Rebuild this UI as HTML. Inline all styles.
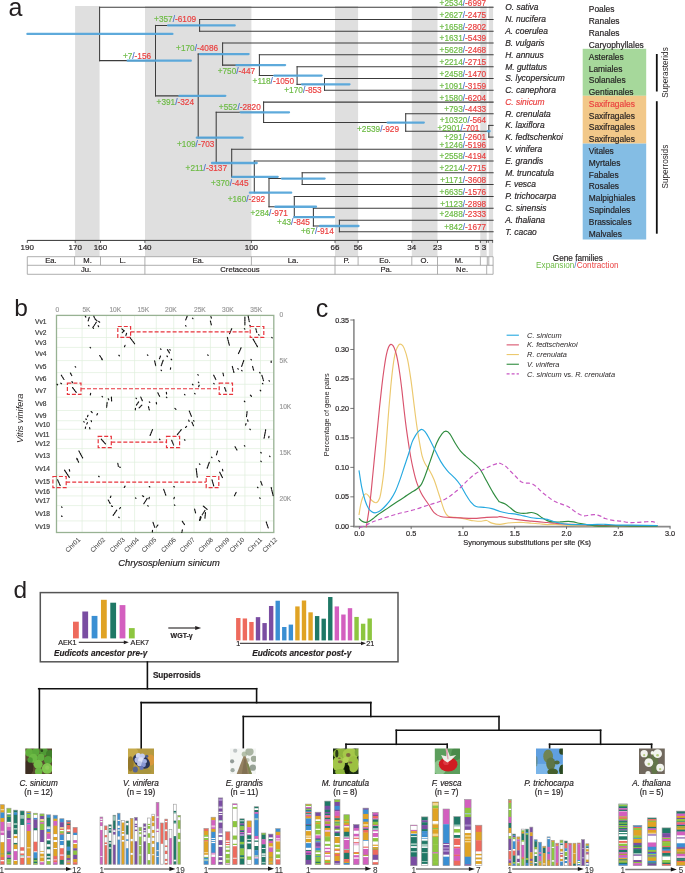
<!DOCTYPE html>
<html><head><meta charset="utf-8"><style>
html,body{margin:0;padding:0;background:#fff;width:685px;height:873px;overflow:hidden}
svg{display:block;will-change:transform}
text{font-family:"Liberation Sans", sans-serif}
</style></head><body>
<svg width="685" height="873" viewBox="0 0 685 873">
<rect width="685" height="873" fill="#fff"/>
<rect x="75.1" y="6" width="24.5" height="250.5" fill="#dfdfdf" />
<rect x="145" y="6" width="106.4" height="250.5" fill="#dfdfdf" />
<rect x="335" y="6" width="23.1" height="250.5" fill="#dfdfdf" />
<rect x="411.8" y="6" width="25.7" height="250.5" fill="#dfdfdf" />
<rect x="480.3" y="6" width="6.4" height="250.5" fill="#dfdfdf" />
<rect x="488.8" y="6" width="4.3" height="250.5" fill="#dfdfdf" />
<text x="8.4" y="16" font-size="25" text-anchor="start" fill="#231f20" stroke="#231f20" stroke-width="0" >a</text>
<g stroke="#3c3c3c" stroke-width="1.05" stroke-linecap="square">
<line x1="99.6" y1="7.3" x2="99.6" y2="60.63"/>
<line x1="99.6" y1="7.3" x2="493.1" y2="7.3"/>
<line x1="99.6" y1="60.63" x2="155.5" y2="60.63"/>
<line x1="155.5" y1="25.4" x2="155.5" y2="95.86"/>
<line x1="155.5" y1="25.4" x2="199.6" y2="25.4"/>
<line x1="155.5" y1="95.86" x2="198.2" y2="95.86"/>
<line x1="199.6" y1="19.5" x2="199.6" y2="31.3"/>
<line x1="199.6" y1="19.5" x2="493.1" y2="19.5"/>
<line x1="199.6" y1="31.3" x2="493.1" y2="31.3"/>
<line x1="198.2" y1="54.06" x2="198.2" y2="137.66"/>
<line x1="198.2" y1="54.06" x2="222.6" y2="54.06"/>
<line x1="198.2" y1="137.66" x2="216.2" y2="137.66"/>
<line x1="222.6" y1="43" x2="222.6" y2="65.11"/>
<line x1="222.6" y1="43" x2="493.1" y2="43"/>
<line x1="222.6" y1="65.11" x2="259.4" y2="65.11"/>
<line x1="259.4" y1="54.7" x2="259.4" y2="75.53"/>
<line x1="259.4" y1="54.7" x2="493.1" y2="54.7"/>
<line x1="259.4" y1="75.53" x2="297.1" y2="75.53"/>
<line x1="297.1" y1="66.7" x2="297.1" y2="84.35"/>
<line x1="297.1" y1="66.7" x2="493.1" y2="66.7"/>
<line x1="297.1" y1="84.35" x2="324.5" y2="84.35"/>
<line x1="324.5" y1="78.4" x2="324.5" y2="90.3"/>
<line x1="324.5" y1="78.4" x2="493.1" y2="78.4"/>
<line x1="324.5" y1="90.3" x2="493.1" y2="90.3"/>
<line x1="216.2" y1="112.31" x2="216.2" y2="163.01"/>
<line x1="216.2" y1="112.31" x2="263.6" y2="112.31"/>
<line x1="216.2" y1="163.01" x2="231.7" y2="163.01"/>
<line x1="263.6" y1="102.1" x2="263.6" y2="122.53"/>
<line x1="263.6" y1="102.1" x2="493.1" y2="102.1"/>
<line x1="263.6" y1="122.53" x2="405.7" y2="122.53"/>
<line x1="405.7" y1="113.8" x2="405.7" y2="131.25"/>
<line x1="405.7" y1="113.8" x2="493.1" y2="113.8"/>
<line x1="405.7" y1="131.25" x2="488.8" y2="131.25"/>
<line x1="488.8" y1="125.4" x2="488.8" y2="137.1"/>
<line x1="488.8" y1="125.4" x2="493.1" y2="125.4"/>
<line x1="488.8" y1="137.1" x2="493.1" y2="137.1"/>
<line x1="231.7" y1="149.2" x2="231.7" y2="176.82"/>
<line x1="231.7" y1="149.2" x2="493.1" y2="149.2"/>
<line x1="231.7" y1="176.82" x2="254.3" y2="176.82"/>
<line x1="254.3" y1="161" x2="254.3" y2="192.65"/>
<line x1="254.3" y1="161" x2="493.1" y2="161"/>
<line x1="254.3" y1="192.65" x2="269" y2="192.65"/>
<line x1="269" y1="178.55" x2="269" y2="206.75"/>
<line x1="269" y1="178.55" x2="302.2" y2="178.55"/>
<line x1="269" y1="206.75" x2="294.3" y2="206.75"/>
<line x1="302.2" y1="172.7" x2="302.2" y2="184.4"/>
<line x1="302.2" y1="172.7" x2="493.1" y2="172.7"/>
<line x1="302.2" y1="184.4" x2="493.1" y2="184.4"/>
<line x1="294.3" y1="196.4" x2="294.3" y2="217.1"/>
<line x1="294.3" y1="196.4" x2="493.1" y2="196.4"/>
<line x1="294.3" y1="217.1" x2="313.4" y2="217.1"/>
<line x1="313.4" y1="208.2" x2="313.4" y2="226"/>
<line x1="313.4" y1="208.2" x2="493.1" y2="208.2"/>
<line x1="313.4" y1="226" x2="339.4" y2="226"/>
<line x1="339.4" y1="220.2" x2="339.4" y2="231.8"/>
<line x1="339.4" y1="220.2" x2="493.1" y2="220.2"/>
<line x1="339.4" y1="231.8" x2="493.1" y2="231.8"/>
</g>
<g stroke="#56a6da" stroke-width="2.3" stroke-linecap="round" opacity="0.95">
<line x1="27.4" y1="33.96" x2="172.4" y2="33.96"/>
<line x1="127.7" y1="60.63" x2="190.8" y2="60.63"/>
<line x1="168.1" y1="25.4" x2="234.7" y2="25.4"/>
<line x1="179.4" y1="95.86" x2="225.3" y2="95.86"/>
<line x1="199.9" y1="54.06" x2="248.6" y2="54.06"/>
<line x1="236.4" y1="65.11" x2="285.1" y2="65.11"/>
<line x1="274.3" y1="75.53" x2="321.6" y2="75.53"/>
<line x1="302" y1="84.35" x2="349.5" y2="84.35"/>
<line x1="196.8" y1="137.66" x2="242.6" y2="137.66"/>
<line x1="240.7" y1="112.31" x2="289" y2="112.31"/>
<line x1="387.6" y1="122.53" x2="423.8" y2="122.53"/>
<line x1="487.8" y1="131.25" x2="489.6" y2="131.25"/>
<line x1="212" y1="163.01" x2="256.7" y2="163.01"/>
<line x1="232.5" y1="176.82" x2="277.7" y2="176.82"/>
<line x1="249.9" y1="192.65" x2="291.2" y2="192.65"/>
<line x1="281.9" y1="178.55" x2="324.6" y2="178.55"/>
<line x1="275.4" y1="206.75" x2="316" y2="206.75"/>
<line x1="294.3" y1="217.1" x2="334" y2="217.1"/>
<line x1="320" y1="226" x2="358.5" y2="226"/>
</g>
<text x="0" y="0" font-size="8.7" text-anchor="end" transform="translate(151.1,58.9) scale(0.95,1)" stroke-width="0.18"><tspan fill="#6dbb45" stroke="#6dbb45">+7</tspan><tspan fill="#4a72c8" stroke="#4a72c8">/</tspan><tspan fill="#ea3f3f" stroke="#ea3f3f">-156</tspan></text>
<text x="0" y="0" font-size="8.7" text-anchor="end" transform="translate(196.1,22.3) scale(0.95,1)" stroke-width="0.18"><tspan fill="#6dbb45" stroke="#6dbb45">+357</tspan><tspan fill="#4a72c8" stroke="#4a72c8">/</tspan><tspan fill="#ea3f3f" stroke="#ea3f3f">-6109</tspan></text>
<text x="0" y="0" font-size="8.7" text-anchor="end" transform="translate(218.1,50.9) scale(0.95,1)" stroke-width="0.18"><tspan fill="#6dbb45" stroke="#6dbb45">+170</tspan><tspan fill="#4a72c8" stroke="#4a72c8">/</tspan><tspan fill="#ea3f3f" stroke="#ea3f3f">-4086</tspan></text>
<text x="0" y="0" font-size="8.7" text-anchor="end" transform="translate(255.1,73.8) scale(0.95,1)" stroke-width="0.18"><tspan fill="#6dbb45" stroke="#6dbb45">+750</tspan><tspan fill="#4a72c8" stroke="#4a72c8">/</tspan><tspan fill="#ea3f3f" stroke="#ea3f3f">-447</tspan></text>
<text x="0" y="0" font-size="8.7" text-anchor="end" transform="translate(294,83.5) scale(0.95,1)" stroke-width="0.18"><tspan fill="#6dbb45" stroke="#6dbb45">+118</tspan><tspan fill="#4a72c8" stroke="#4a72c8">/</tspan><tspan fill="#ea3f3f" stroke="#ea3f3f">-1050</tspan></text>
<text x="0" y="0" font-size="8.7" text-anchor="end" transform="translate(321.7,92.9) scale(0.95,1)" stroke-width="0.18"><tspan fill="#6dbb45" stroke="#6dbb45">+170</tspan><tspan fill="#4a72c8" stroke="#4a72c8">/</tspan><tspan fill="#ea3f3f" stroke="#ea3f3f">-853</tspan></text>
<text x="0" y="0" font-size="8.7" text-anchor="end" transform="translate(194,104.6) scale(0.95,1)" stroke-width="0.18"><tspan fill="#6dbb45" stroke="#6dbb45">+391</tspan><tspan fill="#4a72c8" stroke="#4a72c8">/</tspan><tspan fill="#ea3f3f" stroke="#ea3f3f">-324</tspan></text>
<text x="0" y="0" font-size="8.7" text-anchor="end" transform="translate(260.8,109.9) scale(0.95,1)" stroke-width="0.18"><tspan fill="#6dbb45" stroke="#6dbb45">+552</tspan><tspan fill="#4a72c8" stroke="#4a72c8">/</tspan><tspan fill="#ea3f3f" stroke="#ea3f3f">-2820</tspan></text>
<text x="0" y="0" font-size="8.7" text-anchor="end" transform="translate(214.4,146.8) scale(0.95,1)" stroke-width="0.18"><tspan fill="#6dbb45" stroke="#6dbb45">+109</tspan><tspan fill="#4a72c8" stroke="#4a72c8">/</tspan><tspan fill="#ea3f3f" stroke="#ea3f3f">-703</tspan></text>
<text x="0" y="0" font-size="8.7" text-anchor="end" transform="translate(399,132) scale(0.95,1)" stroke-width="0.18"><tspan fill="#6dbb45" stroke="#6dbb45">+2539</tspan><tspan fill="#4a72c8" stroke="#4a72c8">/</tspan><tspan fill="#ea3f3f" stroke="#ea3f3f">-929</tspan></text>
<text x="0" y="0" font-size="8.7" text-anchor="end" transform="translate(227,170.7) scale(0.95,1)" stroke-width="0.18"><tspan fill="#6dbb45" stroke="#6dbb45">+211</tspan><tspan fill="#4a72c8" stroke="#4a72c8">/</tspan><tspan fill="#ea3f3f" stroke="#ea3f3f">-3137</tspan></text>
<text x="0" y="0" font-size="8.7" text-anchor="end" transform="translate(248.5,185.6) scale(0.95,1)" stroke-width="0.18"><tspan fill="#6dbb45" stroke="#6dbb45">+370</tspan><tspan fill="#4a72c8" stroke="#4a72c8">/</tspan><tspan fill="#ea3f3f" stroke="#ea3f3f">-445</tspan></text>
<text x="0" y="0" font-size="8.7" text-anchor="end" transform="translate(265.1,202.3) scale(0.95,1)" stroke-width="0.18"><tspan fill="#6dbb45" stroke="#6dbb45">+160</tspan><tspan fill="#4a72c8" stroke="#4a72c8">/</tspan><tspan fill="#ea3f3f" stroke="#ea3f3f">-292</tspan></text>
<text x="0" y="0" font-size="8.7" text-anchor="end" transform="translate(287.9,215.5) scale(0.95,1)" stroke-width="0.18"><tspan fill="#6dbb45" stroke="#6dbb45">+284</tspan><tspan fill="#4a72c8" stroke="#4a72c8">/</tspan><tspan fill="#ea3f3f" stroke="#ea3f3f">-971</tspan></text>
<text x="0" y="0" font-size="8.7" text-anchor="end" transform="translate(309.9,224.7) scale(0.95,1)" stroke-width="0.18"><tspan fill="#6dbb45" stroke="#6dbb45">+43</tspan><tspan fill="#4a72c8" stroke="#4a72c8">/</tspan><tspan fill="#ea3f3f" stroke="#ea3f3f">-845</tspan></text>
<text x="0" y="0" font-size="8.7" text-anchor="end" transform="translate(333.8,234.1) scale(0.95,1)" stroke-width="0.18"><tspan fill="#6dbb45" stroke="#6dbb45">+67</tspan><tspan fill="#4a72c8" stroke="#4a72c8">/</tspan><tspan fill="#ea3f3f" stroke="#ea3f3f">-914</tspan></text>
<text x="0" y="0" font-size="8.7" text-anchor="end" transform="translate(479.4,130.6) scale(0.95,1)" stroke-width="0.18"><tspan fill="#6dbb45" stroke="#6dbb45">+2901</tspan><tspan fill="#4a72c8" stroke="#4a72c8">/</tspan><tspan fill="#ea3f3f" stroke="#ea3f3f">-701</tspan></text>
<text x="0" y="0" font-size="8.7" text-anchor="end" transform="translate(486.2,5.6) scale(0.95,1)" stroke-width="0.18"><tspan fill="#6dbb45" stroke="#6dbb45">+2534</tspan><tspan fill="#4a72c8" stroke="#4a72c8">/</tspan><tspan fill="#ea3f3f" stroke="#ea3f3f">-6997</tspan></text>
<text x="0" y="0" font-size="8.7" text-anchor="end" transform="translate(486.2,17.8) scale(0.95,1)" stroke-width="0.18"><tspan fill="#6dbb45" stroke="#6dbb45">+2627</tspan><tspan fill="#4a72c8" stroke="#4a72c8">/</tspan><tspan fill="#ea3f3f" stroke="#ea3f3f">-2475</tspan></text>
<text x="0" y="0" font-size="8.7" text-anchor="end" transform="translate(486.2,29.6) scale(0.95,1)" stroke-width="0.18"><tspan fill="#6dbb45" stroke="#6dbb45">+1658</tspan><tspan fill="#4a72c8" stroke="#4a72c8">/</tspan><tspan fill="#ea3f3f" stroke="#ea3f3f">-2802</tspan></text>
<text x="0" y="0" font-size="8.7" text-anchor="end" transform="translate(486.2,41.3) scale(0.95,1)" stroke-width="0.18"><tspan fill="#6dbb45" stroke="#6dbb45">+1631</tspan><tspan fill="#4a72c8" stroke="#4a72c8">/</tspan><tspan fill="#ea3f3f" stroke="#ea3f3f">-5439</tspan></text>
<text x="0" y="0" font-size="8.7" text-anchor="end" transform="translate(486.2,53) scale(0.95,1)" stroke-width="0.18"><tspan fill="#6dbb45" stroke="#6dbb45">+5628</tspan><tspan fill="#4a72c8" stroke="#4a72c8">/</tspan><tspan fill="#ea3f3f" stroke="#ea3f3f">-2468</tspan></text>
<text x="0" y="0" font-size="8.7" text-anchor="end" transform="translate(486.2,65) scale(0.95,1)" stroke-width="0.18"><tspan fill="#6dbb45" stroke="#6dbb45">+2214</tspan><tspan fill="#4a72c8" stroke="#4a72c8">/</tspan><tspan fill="#ea3f3f" stroke="#ea3f3f">-2715</tspan></text>
<text x="0" y="0" font-size="8.7" text-anchor="end" transform="translate(486.2,76.7) scale(0.95,1)" stroke-width="0.18"><tspan fill="#6dbb45" stroke="#6dbb45">+2458</tspan><tspan fill="#4a72c8" stroke="#4a72c8">/</tspan><tspan fill="#ea3f3f" stroke="#ea3f3f">-1470</tspan></text>
<text x="0" y="0" font-size="8.7" text-anchor="end" transform="translate(486.2,88.6) scale(0.95,1)" stroke-width="0.18"><tspan fill="#6dbb45" stroke="#6dbb45">+1091</tspan><tspan fill="#4a72c8" stroke="#4a72c8">/</tspan><tspan fill="#ea3f3f" stroke="#ea3f3f">-3159</tspan></text>
<text x="0" y="0" font-size="8.7" text-anchor="end" transform="translate(486.2,101) scale(0.95,1)" stroke-width="0.18"><tspan fill="#6dbb45" stroke="#6dbb45">+1580</tspan><tspan fill="#4a72c8" stroke="#4a72c8">/</tspan><tspan fill="#ea3f3f" stroke="#ea3f3f">-6204</tspan></text>
<text x="0" y="0" font-size="8.7" text-anchor="end" transform="translate(486.2,112.1) scale(0.95,1)" stroke-width="0.18"><tspan fill="#6dbb45" stroke="#6dbb45">+793</tspan><tspan fill="#4a72c8" stroke="#4a72c8">/</tspan><tspan fill="#ea3f3f" stroke="#ea3f3f">-4433</tspan></text>
<text x="0" y="0" font-size="8.7" text-anchor="end" transform="translate(486.2,122.9) scale(0.95,1)" stroke-width="0.18"><tspan fill="#6dbb45" stroke="#6dbb45">+10320</tspan><tspan fill="#4a72c8" stroke="#4a72c8">/</tspan><tspan fill="#ea3f3f" stroke="#ea3f3f">-564</tspan></text>
<text x="0" y="0" font-size="8.7" text-anchor="end" transform="translate(486.2,139.8) scale(0.95,1)" stroke-width="0.18"><tspan fill="#6dbb45" stroke="#6dbb45">+291</tspan><tspan fill="#4a72c8" stroke="#4a72c8">/</tspan><tspan fill="#ea3f3f" stroke="#ea3f3f">-2601</tspan></text>
<text x="0" y="0" font-size="8.7" text-anchor="end" transform="translate(486.2,147.5) scale(0.95,1)" stroke-width="0.18"><tspan fill="#6dbb45" stroke="#6dbb45">+1246</tspan><tspan fill="#4a72c8" stroke="#4a72c8">/</tspan><tspan fill="#ea3f3f" stroke="#ea3f3f">-5196</tspan></text>
<text x="0" y="0" font-size="8.7" text-anchor="end" transform="translate(486.2,159.3) scale(0.95,1)" stroke-width="0.18"><tspan fill="#6dbb45" stroke="#6dbb45">+2558</tspan><tspan fill="#4a72c8" stroke="#4a72c8">/</tspan><tspan fill="#ea3f3f" stroke="#ea3f3f">-4194</tspan></text>
<text x="0" y="0" font-size="8.7" text-anchor="end" transform="translate(486.2,171) scale(0.95,1)" stroke-width="0.18"><tspan fill="#6dbb45" stroke="#6dbb45">+2214</tspan><tspan fill="#4a72c8" stroke="#4a72c8">/</tspan><tspan fill="#ea3f3f" stroke="#ea3f3f">-2715</tspan></text>
<text x="0" y="0" font-size="8.7" text-anchor="end" transform="translate(486.2,182.7) scale(0.95,1)" stroke-width="0.18"><tspan fill="#6dbb45" stroke="#6dbb45">+1171</tspan><tspan fill="#4a72c8" stroke="#4a72c8">/</tspan><tspan fill="#ea3f3f" stroke="#ea3f3f">-3608</tspan></text>
<text x="0" y="0" font-size="8.7" text-anchor="end" transform="translate(486.2,194.7) scale(0.95,1)" stroke-width="0.18"><tspan fill="#6dbb45" stroke="#6dbb45">+6635</tspan><tspan fill="#4a72c8" stroke="#4a72c8">/</tspan><tspan fill="#ea3f3f" stroke="#ea3f3f">-1576</tspan></text>
<text x="0" y="0" font-size="8.7" text-anchor="end" transform="translate(486.2,206.5) scale(0.95,1)" stroke-width="0.18"><tspan fill="#6dbb45" stroke="#6dbb45">+1123</tspan><tspan fill="#4a72c8" stroke="#4a72c8">/</tspan><tspan fill="#ea3f3f" stroke="#ea3f3f">-2898</tspan></text>
<text x="0" y="0" font-size="8.7" text-anchor="end" transform="translate(486.2,217.2) scale(0.95,1)" stroke-width="0.18"><tspan fill="#6dbb45" stroke="#6dbb45">+2488</tspan><tspan fill="#4a72c8" stroke="#4a72c8">/</tspan><tspan fill="#ea3f3f" stroke="#ea3f3f">-2333</tspan></text>
<text x="0" y="0" font-size="8.7" text-anchor="end" transform="translate(486.2,230.1) scale(0.95,1)" stroke-width="0.18"><tspan fill="#6dbb45" stroke="#6dbb45">+842</tspan><tspan fill="#4a72c8" stroke="#4a72c8">/</tspan><tspan fill="#ea3f3f" stroke="#ea3f3f">-1677</tspan></text>
<rect x="582.7" y="48.8" width="63.5" height="47" fill="#a6d89b" />
<rect x="582.7" y="95.8" width="63.5" height="47.8" fill="#f2c889" />
<rect x="582.7" y="143.6" width="63.5" height="95.9" fill="#84bde4" />
<text x="505.2" y="10.2" font-size="8.45" text-anchor="start" fill="#231f20" stroke="#231f20" stroke-width="0.18" font-style="italic" >O. sativa</text>
<text x="588.8" y="12.1" font-size="8.4" text-anchor="start" fill="#231f20" stroke="#231f20" stroke-width="0.18" >Poales</text>
<text x="505.2" y="22.4" font-size="8.45" text-anchor="start" fill="#231f20" stroke="#231f20" stroke-width="0.18" font-style="italic" >N. nucifera</text>
<text x="588.8" y="24.3" font-size="8.4" text-anchor="start" fill="#231f20" stroke="#231f20" stroke-width="0.18" >Ranales</text>
<text x="505.2" y="34.2" font-size="8.45" text-anchor="start" fill="#231f20" stroke="#231f20" stroke-width="0.18" font-style="italic" >A. coerulea</text>
<text x="588.8" y="36.1" font-size="8.4" text-anchor="start" fill="#231f20" stroke="#231f20" stroke-width="0.18" >Ranales</text>
<text x="505.2" y="45.9" font-size="8.45" text-anchor="start" fill="#231f20" stroke="#231f20" stroke-width="0.18" font-style="italic" >B. vulgaris</text>
<text x="588.8" y="47.8" font-size="8.4" text-anchor="start" fill="#231f20" stroke="#231f20" stroke-width="0.18" >Caryophyllales</text>
<text x="505.2" y="57.6" font-size="8.45" text-anchor="start" fill="#231f20" stroke="#231f20" stroke-width="0.18" font-style="italic" >H. annuus</text>
<text x="588.8" y="59.5" font-size="8.4" text-anchor="start" fill="#231f20" stroke="#231f20" stroke-width="0.18" >Asterales</text>
<text x="505.2" y="69.6" font-size="8.45" text-anchor="start" fill="#231f20" stroke="#231f20" stroke-width="0.18" font-style="italic" >M. guttatus</text>
<text x="588.8" y="71.5" font-size="8.4" text-anchor="start" fill="#231f20" stroke="#231f20" stroke-width="0.18" >Lamiales</text>
<text x="505.2" y="81.3" font-size="8.45" text-anchor="start" fill="#231f20" stroke="#231f20" stroke-width="0.18" font-style="italic" >S. lycopersicum</text>
<text x="588.8" y="83.2" font-size="8.4" text-anchor="start" fill="#231f20" stroke="#231f20" stroke-width="0.18" >Solanales</text>
<text x="505.2" y="93.2" font-size="8.45" text-anchor="start" fill="#231f20" stroke="#231f20" stroke-width="0.18" font-style="italic" >C. canephora</text>
<text x="588.8" y="95.1" font-size="8.4" text-anchor="start" fill="#231f20" stroke="#231f20" stroke-width="0.18" >Gentianales</text>
<text x="505.2" y="105" font-size="8.45" text-anchor="start" fill="#ea3f3f" stroke="#ea3f3f" stroke-width="0.18" font-style="italic" >C. sinicum</text>
<text x="588.8" y="106.9" font-size="8.4" text-anchor="start" fill="#ea3f3f" stroke="#ea3f3f" stroke-width="0.18" >Saxifragales</text>
<text x="505.2" y="116.7" font-size="8.45" text-anchor="start" fill="#231f20" stroke="#231f20" stroke-width="0.18" font-style="italic" >R. crenulata</text>
<text x="588.8" y="118.6" font-size="8.4" text-anchor="start" fill="#231f20" stroke="#231f20" stroke-width="0.18" >Saxifragales</text>
<text x="505.2" y="128.3" font-size="8.45" text-anchor="start" fill="#231f20" stroke="#231f20" stroke-width="0.18" font-style="italic" >K. laxiflora</text>
<text x="588.8" y="130.2" font-size="8.4" text-anchor="start" fill="#231f20" stroke="#231f20" stroke-width="0.18" >Saxifragales</text>
<text x="505.2" y="140" font-size="8.45" text-anchor="start" fill="#231f20" stroke="#231f20" stroke-width="0.18" font-style="italic" >K. fedtschenkoi</text>
<text x="588.8" y="141.9" font-size="8.4" text-anchor="start" fill="#231f20" stroke="#231f20" stroke-width="0.18" >Saxifragales</text>
<text x="505.2" y="152.1" font-size="8.45" text-anchor="start" fill="#231f20" stroke="#231f20" stroke-width="0.18" font-style="italic" >V. vinifera</text>
<text x="588.8" y="154" font-size="8.4" text-anchor="start" fill="#231f20" stroke="#231f20" stroke-width="0.18" >Vitales</text>
<text x="505.2" y="163.9" font-size="8.45" text-anchor="start" fill="#231f20" stroke="#231f20" stroke-width="0.18" font-style="italic" >E. grandis</text>
<text x="588.8" y="165.8" font-size="8.4" text-anchor="start" fill="#231f20" stroke="#231f20" stroke-width="0.18" >Myrtales</text>
<text x="505.2" y="175.6" font-size="8.45" text-anchor="start" fill="#231f20" stroke="#231f20" stroke-width="0.18" font-style="italic" >M. truncatula</text>
<text x="588.8" y="177.5" font-size="8.4" text-anchor="start" fill="#231f20" stroke="#231f20" stroke-width="0.18" >Fabales</text>
<text x="505.2" y="187.3" font-size="8.45" text-anchor="start" fill="#231f20" stroke="#231f20" stroke-width="0.18" font-style="italic" >F. vesca</text>
<text x="588.8" y="189.2" font-size="8.4" text-anchor="start" fill="#231f20" stroke="#231f20" stroke-width="0.18" >Rosales</text>
<text x="505.2" y="199.3" font-size="8.45" text-anchor="start" fill="#231f20" stroke="#231f20" stroke-width="0.18" font-style="italic" >P. trichocarpa</text>
<text x="588.8" y="201.2" font-size="8.4" text-anchor="start" fill="#231f20" stroke="#231f20" stroke-width="0.18" >Malpighiales</text>
<text x="505.2" y="211.1" font-size="8.45" text-anchor="start" fill="#231f20" stroke="#231f20" stroke-width="0.18" font-style="italic" >C. sinensis</text>
<text x="588.8" y="213" font-size="8.4" text-anchor="start" fill="#231f20" stroke="#231f20" stroke-width="0.18" >Sapindales</text>
<text x="505.2" y="223.1" font-size="8.45" text-anchor="start" fill="#231f20" stroke="#231f20" stroke-width="0.18" font-style="italic" >A. thaliana</text>
<text x="588.8" y="225" font-size="8.4" text-anchor="start" fill="#231f20" stroke="#231f20" stroke-width="0.18" >Brassicales</text>
<text x="505.2" y="234.7" font-size="8.45" text-anchor="start" fill="#231f20" stroke="#231f20" stroke-width="0.18" font-style="italic" >T. cacao</text>
<text x="588.8" y="236.6" font-size="8.4" text-anchor="start" fill="#231f20" stroke="#231f20" stroke-width="0.18" >Malvales</text>
<line x1="656.8" y1="54" x2="656.8" y2="91.5" stroke="#111" stroke-width="1.8" />
<line x1="656.8" y1="101.2" x2="656.8" y2="233.7" stroke="#111" stroke-width="1.8" />
<text x="0" y="0" font-size="8.2" fill="#231f20" text-anchor="middle" transform="translate(667.6,72.5) rotate(-90)">Superasterids</text>
<text x="0" y="0" font-size="8.2" fill="#231f20" text-anchor="middle" transform="translate(667.6,166.6) rotate(-90)">Superrosids</text>
<line x1="27.3" y1="240.4" x2="493.1" y2="240.4" stroke="#333" stroke-width="1" />
<line x1="27.3" y1="240.4" x2="27.3" y2="242.9" stroke="#333" stroke-width="0.8" />
<text x="27.3" y="250.3" font-size="8" text-anchor="middle" fill="#231f20" stroke="#231f20" stroke-width="0.18" >190</text>
<line x1="75.2" y1="240.4" x2="75.2" y2="242.9" stroke="#333" stroke-width="0.8" />
<text x="75.2" y="250.3" font-size="8" text-anchor="middle" fill="#231f20" stroke="#231f20" stroke-width="0.18" >170</text>
<line x1="100.5" y1="240.4" x2="100.5" y2="242.9" stroke="#333" stroke-width="0.8" />
<text x="100.5" y="250.3" font-size="8" text-anchor="middle" fill="#231f20" stroke="#231f20" stroke-width="0.18" >160</text>
<line x1="144.9" y1="240.4" x2="144.9" y2="242.9" stroke="#333" stroke-width="0.8" />
<text x="144.9" y="250.3" font-size="8" text-anchor="middle" fill="#231f20" stroke="#231f20" stroke-width="0.18" >140</text>
<line x1="251.4" y1="240.4" x2="251.4" y2="242.9" stroke="#333" stroke-width="0.8" />
<text x="251.4" y="250.3" font-size="8" text-anchor="middle" fill="#231f20" stroke="#231f20" stroke-width="0.18" >100</text>
<line x1="335" y1="240.4" x2="335" y2="242.9" stroke="#333" stroke-width="0.8" />
<text x="335" y="250.3" font-size="8" text-anchor="middle" fill="#231f20" stroke="#231f20" stroke-width="0.18" >66</text>
<line x1="358.1" y1="240.4" x2="358.1" y2="242.9" stroke="#333" stroke-width="0.8" />
<text x="358.1" y="250.3" font-size="8" text-anchor="middle" fill="#231f20" stroke="#231f20" stroke-width="0.18" >56</text>
<line x1="411.8" y1="240.4" x2="411.8" y2="242.9" stroke="#333" stroke-width="0.8" />
<text x="411.8" y="250.3" font-size="8" text-anchor="middle" fill="#231f20" stroke="#231f20" stroke-width="0.18" >34</text>
<line x1="437.5" y1="240.4" x2="437.5" y2="242.9" stroke="#333" stroke-width="0.8" />
<text x="437.5" y="250.3" font-size="8" text-anchor="middle" fill="#231f20" stroke="#231f20" stroke-width="0.18" >23</text>
<line x1="480.4" y1="240.4" x2="480.4" y2="242.9" stroke="#333" stroke-width="0.8" />
<line x1="486.6" y1="240.4" x2="486.6" y2="242.9" stroke="#333" stroke-width="0.8" />
<line x1="488.3" y1="240.4" x2="488.3" y2="242.9" stroke="#333" stroke-width="0.7" />
<line x1="492.6" y1="240.4" x2="492.6" y2="242.9" stroke="#333" stroke-width="0.7" />
<text x="476.9" y="250.3" font-size="8" text-anchor="middle" fill="#231f20" stroke="#231f20" stroke-width="0.18" >5</text>
<text x="484" y="250.3" font-size="8" text-anchor="middle" fill="#231f20" stroke="#231f20" stroke-width="0.18" >3</text>
<line x1="27.3" y1="256.7" x2="493.1" y2="256.7" stroke="#9a9a9a" stroke-width="0.8" />
<line x1="27.3" y1="265.3" x2="493.1" y2="265.3" stroke="#9a9a9a" stroke-width="0.8" />
<line x1="27.3" y1="274.3" x2="493.1" y2="274.3" stroke="#9a9a9a" stroke-width="0.8" />
<line x1="27.3" y1="256.7" x2="27.3" y2="274.3" stroke="#9a9a9a" stroke-width="0.8" />
<line x1="493.1" y1="256.7" x2="493.1" y2="274.3" stroke="#9a9a9a" stroke-width="0.8" />
<line x1="74.6" y1="256.7" x2="74.6" y2="265.3" stroke="#9a9a9a" stroke-width="0.8" />
<line x1="100.5" y1="256.7" x2="100.5" y2="265.3" stroke="#9a9a9a" stroke-width="0.8" />
<line x1="144.9" y1="256.7" x2="144.9" y2="265.3" stroke="#9a9a9a" stroke-width="0.8" />
<line x1="251.4" y1="256.7" x2="251.4" y2="265.3" stroke="#9a9a9a" stroke-width="0.8" />
<line x1="335" y1="256.7" x2="335" y2="265.3" stroke="#9a9a9a" stroke-width="0.8" />
<line x1="358.1" y1="256.7" x2="358.1" y2="265.3" stroke="#9a9a9a" stroke-width="0.8" />
<line x1="411.8" y1="256.7" x2="411.8" y2="265.3" stroke="#9a9a9a" stroke-width="0.8" />
<line x1="437.5" y1="256.7" x2="437.5" y2="265.3" stroke="#9a9a9a" stroke-width="0.8" />
<line x1="480.4" y1="256.7" x2="480.4" y2="265.3" stroke="#9a9a9a" stroke-width="0.8" />
<line x1="487.3" y1="256.7" x2="487.3" y2="265.3" stroke="#9a9a9a" stroke-width="0.8" />
<line x1="488.8" y1="256.7" x2="488.8" y2="265.3" stroke="#9a9a9a" stroke-width="0.8" />
<line x1="144.9" y1="265.3" x2="144.9" y2="274.3" stroke="#9a9a9a" stroke-width="0.8" />
<line x1="335" y1="265.3" x2="335" y2="274.3" stroke="#9a9a9a" stroke-width="0.8" />
<line x1="437.5" y1="265.3" x2="437.5" y2="274.3" stroke="#9a9a9a" stroke-width="0.8" />
<line x1="486.7" y1="265.3" x2="486.7" y2="274.3" stroke="#9a9a9a" stroke-width="0.8" />
<text x="50.95" y="263.3" font-size="7.7" text-anchor="middle" fill="#231f20" stroke="#231f20" stroke-width="0.18" >Ea.</text>
<text x="87.55" y="263.3" font-size="7.7" text-anchor="middle" fill="#231f20" stroke="#231f20" stroke-width="0.18" >M.</text>
<text x="122.7" y="263.3" font-size="7.7" text-anchor="middle" fill="#231f20" stroke="#231f20" stroke-width="0.18" >L.</text>
<text x="198.15" y="263.3" font-size="7.7" text-anchor="middle" fill="#231f20" stroke="#231f20" stroke-width="0.18" >Ea.</text>
<text x="293.2" y="263.3" font-size="7.7" text-anchor="middle" fill="#231f20" stroke="#231f20" stroke-width="0.18" >La.</text>
<text x="346.55" y="263.3" font-size="7.7" text-anchor="middle" fill="#231f20" stroke="#231f20" stroke-width="0.18" >P.</text>
<text x="384.95" y="263.3" font-size="7.7" text-anchor="middle" fill="#231f20" stroke="#231f20" stroke-width="0.18" >Eo.</text>
<text x="424.65" y="263.3" font-size="7.7" text-anchor="middle" fill="#231f20" stroke="#231f20" stroke-width="0.18" >O.</text>
<text x="458.95" y="263.3" font-size="7.7" text-anchor="middle" fill="#231f20" stroke="#231f20" stroke-width="0.18" >M.</text>
<text x="86.1" y="272.2" font-size="7.7" text-anchor="middle" fill="#231f20" stroke="#231f20" stroke-width="0.18" >Ju.</text>
<text x="239.95" y="272.2" font-size="7.7" text-anchor="middle" fill="#231f20" stroke="#231f20" stroke-width="0.18" >Cretaceous</text>
<text x="386.25" y="272.2" font-size="7.7" text-anchor="middle" fill="#231f20" stroke="#231f20" stroke-width="0.18" >Pa.</text>
<text x="462.1" y="272.2" font-size="7.7" text-anchor="middle" fill="#231f20" stroke="#231f20" stroke-width="0.18" >Ne.</text>
<text x="577.9" y="261" font-size="8.2" text-anchor="middle" fill="#231f20" stroke="#231f20" stroke-width="0.18" >Gene families</text>
<text x="577.3" y="267.8" font-size="8.2" text-anchor="middle"><tspan fill="#6dbb45">Expansion</tspan><tspan fill="#4a72c8">/</tspan><tspan fill="#ea3f3f">Contraction</tspan></text>
<text x="14.3" y="315.6" font-size="24.5" text-anchor="start" fill="#231f20" stroke="#231f20" stroke-width="0" >b</text>
<g stroke="#dfefdc" stroke-width="0.7">
<line x1="82.1" y1="315.4" x2="82.1" y2="532.5"/>
<line x1="106.4" y1="315.4" x2="106.4" y2="532.5"/>
<line x1="121.3" y1="315.4" x2="121.3" y2="532.5"/>
<line x1="134.6" y1="315.4" x2="134.6" y2="532.5"/>
<line x1="156.3" y1="315.4" x2="156.3" y2="532.5"/>
<line x1="173.7" y1="315.4" x2="173.7" y2="532.5"/>
<line x1="194" y1="315.4" x2="194" y2="532.5"/>
<line x1="210.4" y1="315.4" x2="210.4" y2="532.5"/>
<line x1="226.9" y1="315.4" x2="226.9" y2="532.5"/>
<line x1="244.9" y1="315.4" x2="244.9" y2="532.5"/>
<line x1="260.5" y1="315.4" x2="260.5" y2="532.5"/>
<line x1="56.5" y1="328.4" x2="273.8" y2="328.4"/>
<line x1="56.5" y1="337.5" x2="273.8" y2="337.5"/>
<line x1="56.5" y1="347.4" x2="273.8" y2="347.4"/>
<line x1="56.5" y1="360.6" x2="273.8" y2="360.6"/>
<line x1="56.5" y1="372.6" x2="273.8" y2="372.6"/>
<line x1="56.5" y1="384.3" x2="273.8" y2="384.3"/>
<line x1="56.5" y1="397.2" x2="273.8" y2="397.2"/>
<line x1="56.5" y1="410.5" x2="273.8" y2="410.5"/>
<line x1="56.5" y1="420.7" x2="273.8" y2="420.7"/>
<line x1="56.5" y1="429.3" x2="273.8" y2="429.3"/>
<line x1="56.5" y1="439.3" x2="273.8" y2="439.3"/>
<line x1="56.5" y1="448.6" x2="273.8" y2="448.6"/>
<line x1="56.5" y1="462.2" x2="273.8" y2="462.2"/>
<line x1="56.5" y1="475.1" x2="273.8" y2="475.1"/>
<line x1="56.5" y1="487.3" x2="273.8" y2="487.3"/>
<line x1="56.5" y1="495.9" x2="273.8" y2="495.9"/>
<line x1="56.5" y1="505.6" x2="273.8" y2="505.6"/>
<line x1="56.5" y1="520.9" x2="273.8" y2="520.9"/>
</g>
<rect x="56.5" y="315.4" width="217.3" height="217.1" fill="none" stroke="#98b293" stroke-width="1.3"/>
<text x="57.3" y="311.5" font-size="6.6" text-anchor="middle" fill="#9a9a9a" stroke="#9a9a9a" stroke-width="0.18" >0</text>
<text x="86.5" y="311.5" font-size="6.6" text-anchor="middle" fill="#9a9a9a" stroke="#9a9a9a" stroke-width="0.18" >5K</text>
<text x="115.3" y="311.5" font-size="6.6" text-anchor="middle" fill="#9a9a9a" stroke="#9a9a9a" stroke-width="0.18" >10K</text>
<text x="143.3" y="311.5" font-size="6.6" text-anchor="middle" fill="#9a9a9a" stroke="#9a9a9a" stroke-width="0.18" >15K</text>
<text x="170.9" y="311.5" font-size="6.6" text-anchor="middle" fill="#9a9a9a" stroke="#9a9a9a" stroke-width="0.18" >20K</text>
<text x="199.9" y="311.5" font-size="6.6" text-anchor="middle" fill="#9a9a9a" stroke="#9a9a9a" stroke-width="0.18" >25K</text>
<text x="227.9" y="311.5" font-size="6.6" text-anchor="middle" fill="#9a9a9a" stroke="#9a9a9a" stroke-width="0.18" >30K</text>
<text x="256.2" y="311.5" font-size="6.6" text-anchor="middle" fill="#9a9a9a" stroke="#9a9a9a" stroke-width="0.18" >35K</text>
<text x="279.5" y="317.3" font-size="6.6" text-anchor="start" fill="#9a9a9a" stroke="#9a9a9a" stroke-width="0.18" >0</text>
<text x="279.5" y="363.2" font-size="6.6" text-anchor="start" fill="#9a9a9a" stroke="#9a9a9a" stroke-width="0.18" >5K</text>
<text x="279.5" y="409.1" font-size="6.6" text-anchor="start" fill="#9a9a9a" stroke="#9a9a9a" stroke-width="0.18" >10K</text>
<text x="279.5" y="455" font-size="6.6" text-anchor="start" fill="#9a9a9a" stroke="#9a9a9a" stroke-width="0.18" >15K</text>
<text x="279.5" y="500.9" font-size="6.6" text-anchor="start" fill="#9a9a9a" stroke="#9a9a9a" stroke-width="0.18" >20K</text>
<text x="35" y="324.2" font-size="6.6" text-anchor="start" fill="#3a3a3a" stroke="#3a3a3a" stroke-width="0.18" >Vv1</text>
<text x="35" y="335.25" font-size="6.6" text-anchor="start" fill="#3a3a3a" stroke="#3a3a3a" stroke-width="0.18" >Vv2</text>
<text x="35" y="344.75" font-size="6.6" text-anchor="start" fill="#3a3a3a" stroke="#3a3a3a" stroke-width="0.18" >Vv3</text>
<text x="35" y="356.3" font-size="6.6" text-anchor="start" fill="#3a3a3a" stroke="#3a3a3a" stroke-width="0.18" >Vv4</text>
<text x="35" y="368.9" font-size="6.6" text-anchor="start" fill="#3a3a3a" stroke="#3a3a3a" stroke-width="0.18" >Vv5</text>
<text x="35" y="380.75" font-size="6.6" text-anchor="start" fill="#3a3a3a" stroke="#3a3a3a" stroke-width="0.18" >Vv6</text>
<text x="35" y="393.05" font-size="6.6" text-anchor="start" fill="#3a3a3a" stroke="#3a3a3a" stroke-width="0.18" >Vv7</text>
<text x="35" y="406.15" font-size="6.6" text-anchor="start" fill="#3a3a3a" stroke="#3a3a3a" stroke-width="0.18" >Vv8</text>
<text x="35" y="417.9" font-size="6.6" text-anchor="start" fill="#3a3a3a" stroke="#3a3a3a" stroke-width="0.18" >Vv9</text>
<text x="35" y="427.3" font-size="6.6" text-anchor="start" fill="#3a3a3a" stroke="#3a3a3a" stroke-width="0.18" >Vv10</text>
<text x="35" y="436.6" font-size="6.6" text-anchor="start" fill="#3a3a3a" stroke="#3a3a3a" stroke-width="0.18" >Vv11</text>
<text x="35" y="446.25" font-size="6.6" text-anchor="start" fill="#3a3a3a" stroke="#3a3a3a" stroke-width="0.18" >Vv12</text>
<text x="35" y="457.7" font-size="6.6" text-anchor="start" fill="#3a3a3a" stroke="#3a3a3a" stroke-width="0.18" >Vv13</text>
<text x="35" y="470.95" font-size="6.6" text-anchor="start" fill="#3a3a3a" stroke="#3a3a3a" stroke-width="0.18" >Vv14</text>
<text x="35" y="483.5" font-size="6.6" text-anchor="start" fill="#3a3a3a" stroke="#3a3a3a" stroke-width="0.18" >Vv15</text>
<text x="35" y="493.9" font-size="6.6" text-anchor="start" fill="#3a3a3a" stroke="#3a3a3a" stroke-width="0.18" >Vv16</text>
<text x="35" y="503.05" font-size="6.6" text-anchor="start" fill="#3a3a3a" stroke="#3a3a3a" stroke-width="0.18" >Vv17</text>
<text x="35" y="515.55" font-size="6.6" text-anchor="start" fill="#3a3a3a" stroke="#3a3a3a" stroke-width="0.18" >Vv18</text>
<text x="35" y="529" font-size="6.6" text-anchor="start" fill="#3a3a3a" stroke="#3a3a3a" stroke-width="0.18" >Vv19</text>
<text x="0" y="0" font-size="6.6" fill="#3a3a3a" text-anchor="middle" transform="translate(74.4,546.4) rotate(-45)">Chr01</text>
<text x="0" y="0" font-size="6.6" fill="#3a3a3a" text-anchor="middle" transform="translate(99.35,546.4) rotate(-45)">Chr02</text>
<text x="0" y="0" font-size="6.6" fill="#3a3a3a" text-anchor="middle" transform="translate(118.95,546.4) rotate(-45)">Chr03</text>
<text x="0" y="0" font-size="6.6" fill="#3a3a3a" text-anchor="middle" transform="translate(133.05,546.4) rotate(-45)">Chr04</text>
<text x="0" y="0" font-size="6.6" fill="#3a3a3a" text-anchor="middle" transform="translate(150.55,546.4) rotate(-45)">Chr05</text>
<text x="0" y="0" font-size="6.6" fill="#3a3a3a" text-anchor="middle" transform="translate(170.1,546.4) rotate(-45)">Chr06</text>
<text x="0" y="0" font-size="6.6" fill="#3a3a3a" text-anchor="middle" transform="translate(188.95,546.4) rotate(-45)">Chr07</text>
<text x="0" y="0" font-size="6.6" fill="#3a3a3a" text-anchor="middle" transform="translate(207.3,546.4) rotate(-45)">Chr08</text>
<text x="0" y="0" font-size="6.6" fill="#3a3a3a" text-anchor="middle" transform="translate(223.75,546.4) rotate(-45)">Chr09</text>
<text x="0" y="0" font-size="6.6" fill="#3a3a3a" text-anchor="middle" transform="translate(238.5,546.4) rotate(-45)">Chr10</text>
<text x="0" y="0" font-size="6.6" fill="#3a3a3a" text-anchor="middle" transform="translate(256.3,546.4) rotate(-45)">Chr11</text>
<text x="0" y="0" font-size="6.6" fill="#3a3a3a" text-anchor="middle" transform="translate(271.25,546.4) rotate(-45)">Chr12</text>
<text x="169" y="566.2" font-size="9.4" text-anchor="middle" fill="#231f20" stroke="#231f20" stroke-width="0.18" font-style="italic" >Chrysosplenium sinicum</text>
<text x="0" y="0" font-size="9.2" fill="#231f20" font-style="italic" text-anchor="middle" transform="translate(23.2,418.2) rotate(-90)">Vitis vinifera</text>
<g stroke="#111" stroke-width="1.15" stroke-linecap="round" stroke-dasharray="1.5 0.9">
<line x1="85.31" y1="316.28" x2="85.84" y2="317.13"/>
<line x1="89.25" y1="317.34" x2="88.18" y2="320.86"/>
<line x1="93.83" y1="316.28" x2="94.36" y2="317.66"/>
<line x1="94.9" y1="318.73" x2="97.03" y2="320.86"/>
<line x1="98.63" y1="321.39" x2="99.69" y2="322.25"/>
<line x1="88.5" y1="325.34" x2="89" y2="325.84" stroke-dasharray="none"/>
<line x1="96.28" y1="322.25" x2="93.51" y2="326.51"/>
<line x1="92.76" y1="327.25" x2="93.51" y2="328.32"/>
<line x1="98.09" y1="325.66" x2="98.63" y2="326.72"/>
<line x1="121.86" y1="328.85" x2="123.99" y2="330.77"/>
<line x1="123.99" y1="330.77" x2="122.28" y2="332.58"/>
<line x1="126.55" y1="333.33" x2="125.8" y2="335.78"/>
<line x1="90.1" y1="347.29" x2="90.6" y2="347.79" stroke-dasharray="none"/>
<line x1="125.05" y1="345.37" x2="124.41" y2="346.97"/>
<line x1="118.87" y1="355.28" x2="119.37" y2="355.78" stroke-dasharray="none"/>
<line x1="99.69" y1="355.49" x2="101.82" y2="358.69"/>
<line x1="101.82" y1="359.22" x2="102.32" y2="359.72" stroke-dasharray="none"/>
<line x1="75.18" y1="366.68" x2="75.68" y2="367.18" stroke-dasharray="none"/>
<line x1="70.39" y1="373.08" x2="71.77" y2="375.53"/>
<line x1="61.33" y1="375.21" x2="63.99" y2="379.47"/>
<line x1="60.8" y1="383.2" x2="61.54" y2="383.73"/>
<line x1="71.98" y1="381.6" x2="72.52" y2="382.67"/>
<line x1="57.07" y1="384.27" x2="57.57" y2="384.77" stroke-dasharray="none"/>
<line x1="187.14" y1="316.28" x2="185.54" y2="320.33"/>
<line x1="185.54" y1="325.66" x2="186.04" y2="326.16" stroke-dasharray="none"/>
<line x1="192.47" y1="318.2" x2="192.97" y2="318.7" stroke-dasharray="none"/>
<line x1="129.92" y1="337.38" x2="134.61" y2="343.77"/>
<line x1="160.5" y1="348.89" x2="161" y2="349.39" stroke-dasharray="none"/>
<line x1="167.43" y1="349.63" x2="169.77" y2="353.36"/>
<line x1="169.77" y1="349.63" x2="170.27" y2="350.13" stroke-dasharray="none"/>
<line x1="147.39" y1="354.96" x2="147.89" y2="355.46" stroke-dasharray="none"/>
<line x1="160.5" y1="356.03" x2="159.44" y2="358.69"/>
<line x1="166.9" y1="356.03" x2="167.4" y2="356.53" stroke-dasharray="none"/>
<line x1="171.16" y1="359.22" x2="171.66" y2="359.72" stroke-dasharray="none"/>
<line x1="163.17" y1="360.29" x2="161.25" y2="365.62"/>
<line x1="154.64" y1="360.82" x2="155.71" y2="365.62"/>
<line x1="161.03" y1="370.2" x2="161.53" y2="370.7" stroke-dasharray="none"/>
<line x1="170.63" y1="367.75" x2="170.41" y2="369.35"/>
<line x1="197.8" y1="374.68" x2="198.3" y2="375.18" stroke-dasharray="none"/>
<line x1="192.47" y1="384.27" x2="192.97" y2="384.77" stroke-dasharray="none"/>
<line x1="198.33" y1="382.14" x2="198.83" y2="382.64" stroke-dasharray="none"/>
<line x1="199.18" y1="385.33" x2="198.33" y2="387.46"/>
<line x1="210.95" y1="316.64" x2="211.5" y2="318.28"/>
<line x1="210.4" y1="321.02" x2="211.5" y2="325.4"/>
<line x1="244.89" y1="317.19" x2="244.89" y2="324.85"/>
<line x1="248.18" y1="316.09" x2="249.27" y2="321.57"/>
<line x1="249.82" y1="325.4" x2="250.32" y2="325.9" stroke-dasharray="none"/>
<line x1="244.34" y1="328.69" x2="244.84" y2="329.19" stroke-dasharray="none"/>
<line x1="231.75" y1="328.69" x2="229.56" y2="333.61"/>
<line x1="255.84" y1="328.69" x2="256.94" y2="333.07"/>
<line x1="258.58" y1="334.71" x2="259.08" y2="335.21" stroke-dasharray="none"/>
<line x1="271.72" y1="337.45" x2="272.22" y2="337.95" stroke-dasharray="none"/>
<line x1="227.37" y1="337.45" x2="229.34" y2="345.11"/>
<line x1="253.1" y1="339.09" x2="257.48" y2="346.75"/>
<line x1="241.06" y1="347.85" x2="238.32" y2="353.87"/>
<line x1="207.66" y1="354.96" x2="208.16" y2="355.46" stroke-dasharray="none"/>
<line x1="250.91" y1="359.34" x2="251.41" y2="359.84" stroke-dasharray="none"/>
<line x1="243.8" y1="360.44" x2="241.61" y2="366.46"/>
<line x1="232.3" y1="366.46" x2="233.94" y2="372.48"/>
<line x1="237.78" y1="368.65" x2="238.28" y2="369.15" stroke-dasharray="none"/>
<line x1="241.61" y1="370.29" x2="242.11" y2="370.79" stroke-dasharray="none"/>
<line x1="252.56" y1="366.46" x2="253.65" y2="370.29"/>
<line x1="259.67" y1="372.48" x2="260.17" y2="372.98" stroke-dasharray="none"/>
<line x1="271.17" y1="360.99" x2="271.17" y2="362.63"/>
<line x1="261.86" y1="375.22" x2="263.51" y2="380.7"/>
<line x1="268.98" y1="380.7" x2="269.48" y2="381.2" stroke-dasharray="none"/>
<line x1="262.41" y1="383.43" x2="262.91" y2="383.93" stroke-dasharray="none"/>
<line x1="213.69" y1="375.22" x2="215.88" y2="379.6"/>
<line x1="222.99" y1="373.03" x2="223.54" y2="375.77"/>
<line x1="213.69" y1="383.43" x2="214.19" y2="383.93" stroke-dasharray="none"/>
<line x1="72.52" y1="387.53" x2="76.25" y2="392.33"/>
<line x1="90.63" y1="393.39" x2="90.31" y2="394.99"/>
<line x1="102.04" y1="396.38" x2="102.54" y2="396.88" stroke-dasharray="none"/>
<line x1="108.22" y1="398.72" x2="108.75" y2="399.79"/>
<line x1="111.41" y1="397.12" x2="111.63" y2="401.39"/>
<line x1="107.15" y1="402.45" x2="106.62" y2="407.25"/>
<line x1="91.17" y1="411.51" x2="92.76" y2="413.11"/>
<line x1="97.56" y1="413.64" x2="96.49" y2="415.56"/>
<line x1="87.97" y1="415.24" x2="87.44" y2="416.84"/>
<line x1="85.84" y1="418.97" x2="86.34" y2="419.47" stroke-dasharray="none"/>
<line x1="83.71" y1="421.63" x2="84.21" y2="422.13" stroke-dasharray="none"/>
<line x1="91.17" y1="420.57" x2="91.49" y2="421.63"/>
<line x1="87.44" y1="422.7" x2="86.37" y2="424.83"/>
<line x1="85.62" y1="426.96" x2="85.31" y2="428.56"/>
<line x1="89.57" y1="427.49" x2="89.89" y2="429.09"/>
<line x1="101.29" y1="439.22" x2="106.09" y2="444.54"/>
<line x1="78.91" y1="450.94" x2="82.64" y2="457.87"/>
<line x1="76.78" y1="458.4" x2="77.31" y2="460"/>
<line x1="157.84" y1="392.86" x2="159.76" y2="396.59"/>
<line x1="166.36" y1="392.33" x2="166.58" y2="393.93"/>
<line x1="166.36" y1="397.12" x2="166.86" y2="397.62" stroke-dasharray="none"/>
<line x1="135.99" y1="398.19" x2="136.49" y2="398.69" stroke-dasharray="none"/>
<line x1="140.79" y1="397.12" x2="142.39" y2="400.85"/>
<line x1="138.66" y1="401.92" x2="135.99" y2="405.65"/>
<line x1="141.85" y1="405.12" x2="138.66" y2="408.31"/>
<line x1="135.46" y1="408.31" x2="135.25" y2="410.44"/>
<line x1="149.31" y1="401.92" x2="149.81" y2="402.42" stroke-dasharray="none"/>
<line x1="156.24" y1="402.45" x2="156.56" y2="404.05"/>
<line x1="148.46" y1="406.71" x2="149.31" y2="409.91"/>
<line x1="174.89" y1="408.31" x2="176.49" y2="409.91"/>
<line x1="184.48" y1="394.46" x2="184.98" y2="394.96" stroke-dasharray="none"/>
<line x1="194.6" y1="393.39" x2="195.1" y2="393.89" stroke-dasharray="none"/>
<line x1="189.27" y1="410.98" x2="191.41" y2="416.31"/>
<line x1="188.74" y1="420.03" x2="189.27" y2="422.17"/>
<line x1="191.94" y1="422.17" x2="193.54" y2="425.9"/>
<line x1="193.54" y1="420.57" x2="194.04" y2="421.07" stroke-dasharray="none"/>
<line x1="186.61" y1="426.43" x2="185.54" y2="427.49"/>
<line x1="181.28" y1="429.63" x2="177.02" y2="434.95"/>
<line x1="152.51" y1="429.63" x2="149.85" y2="436.02"/>
<line x1="159.44" y1="439.22" x2="159.94" y2="439.72" stroke-dasharray="none"/>
<line x1="171.69" y1="440.28" x2="173.61" y2="445.08"/>
<line x1="184.48" y1="439.75" x2="184.98" y2="440.25" stroke-dasharray="none"/>
<line x1="224.64" y1="387.55" x2="226.28" y2="391.93"/>
<line x1="260.22" y1="390.28" x2="260.72" y2="390.78" stroke-dasharray="none"/>
<line x1="250.37" y1="395.21" x2="252.01" y2="396.85"/>
<line x1="244.34" y1="401.23" x2="244.84" y2="401.73" stroke-dasharray="none"/>
<line x1="247.08" y1="411.64" x2="246.53" y2="416.56"/>
<line x1="247.63" y1="419.85" x2="248.18" y2="422.04"/>
<line x1="245.99" y1="423.68" x2="245.44" y2="425.87"/>
<line x1="249.82" y1="429.15" x2="250.32" y2="429.65" stroke-dasharray="none"/>
<line x1="265.7" y1="429.7" x2="264.05" y2="438.46"/>
<line x1="268.98" y1="436.27" x2="268.76" y2="437.91"/>
<line x1="244.34" y1="445.58" x2="244.84" y2="446.08" stroke-dasharray="none"/>
<line x1="235.04" y1="446.67" x2="237.23" y2="450.51"/>
<line x1="217.52" y1="451.05" x2="216.42" y2="454.89"/>
<line x1="211.5" y1="457.08" x2="212" y2="457.58" stroke-dasharray="none"/>
<line x1="260.77" y1="452.48" x2="261.27" y2="452.98" stroke-dasharray="none"/>
<line x1="269.53" y1="456.2" x2="270.03" y2="456.7" stroke-dasharray="none"/>
<line x1="77.31" y1="459" x2="78.59" y2="462.2"/>
<line x1="117.81" y1="463.26" x2="118.34" y2="466.46"/>
<line x1="119.73" y1="466.99" x2="120.23" y2="467.49" stroke-dasharray="none"/>
<line x1="64.53" y1="470.19" x2="69.32" y2="477.33"/>
<line x1="69.32" y1="469.66" x2="69.85" y2="471.79"/>
<line x1="98.63" y1="476.26" x2="99.13" y2="476.76" stroke-dasharray="none"/>
<line x1="57.6" y1="479.78" x2="60.48" y2="486.17"/>
<line x1="125.05" y1="486.17" x2="124.2" y2="487.56"/>
<line x1="110.88" y1="496.08" x2="110.35" y2="497.58"/>
<line x1="108.22" y1="500.03" x2="110.35" y2="503.76"/>
<line x1="111.41" y1="505.89" x2="112.48" y2="506.42"/>
<line x1="120.47" y1="507.49" x2="119.41" y2="509.09"/>
<line x1="116.74" y1="510.15" x2="113.01" y2="515.48"/>
<line x1="118.66" y1="517.08" x2="119.16" y2="517.58" stroke-dasharray="none"/>
<line x1="61.54" y1="506.95" x2="62.04" y2="507.45" stroke-dasharray="none"/>
<line x1="61.54" y1="516.01" x2="62.04" y2="516.51" stroke-dasharray="none"/>
<line x1="199.4" y1="463.8" x2="199.9" y2="464.3" stroke-dasharray="none"/>
<line x1="196.2" y1="468.59" x2="197.27" y2="477.12"/>
<line x1="149.31" y1="486.49" x2="149.81" y2="486.99" stroke-dasharray="none"/>
<line x1="173.82" y1="486.49" x2="174.32" y2="486.99" stroke-dasharray="none"/>
<line x1="163.7" y1="489.37" x2="165.83" y2="495.23"/>
<line x1="142.39" y1="495.76" x2="143.98" y2="496.83"/>
<line x1="147.18" y1="498.43" x2="143.45" y2="504.29"/>
<line x1="149.31" y1="497.36" x2="148.78" y2="499.49"/>
<line x1="147.71" y1="505.68" x2="148.21" y2="506.18" stroke-dasharray="none"/>
<line x1="135.46" y1="497.9" x2="135.96" y2="498.4" stroke-dasharray="none"/>
<line x1="174.36" y1="497.36" x2="173.61" y2="499.49"/>
<line x1="174.36" y1="504.82" x2="174.86" y2="505.32" stroke-dasharray="none"/>
<line x1="194.6" y1="509.09" x2="195.67" y2="513.35"/>
<line x1="200.46" y1="516.54" x2="199.4" y2="520.81"/>
<line x1="153.04" y1="522.41" x2="154.64" y2="527.2"/>
<line x1="157.84" y1="525.07" x2="156.24" y2="527.2"/>
<line x1="182.35" y1="521.34" x2="184.48" y2="524.54"/>
<line x1="152.51" y1="530.4" x2="152.3" y2="532.53"/>
<line x1="182.35" y1="529.87" x2="181.82" y2="532.53"/>
<line x1="218.61" y1="460.64" x2="219.71" y2="461.74"/>
<line x1="209.31" y1="462.28" x2="207.12" y2="468.31"/>
<line x1="260.77" y1="461.19" x2="261.27" y2="461.69" stroke-dasharray="none"/>
<line x1="219.71" y1="472.14" x2="222.45" y2="477.61"/>
<line x1="222.45" y1="469.4" x2="222.99" y2="471.59"/>
<line x1="212.04" y1="479.8" x2="213.69" y2="485.83"/>
<line x1="260.77" y1="481.45" x2="262.41" y2="485.83"/>
<line x1="257.48" y1="487.25" x2="257.98" y2="487.75" stroke-dasharray="none"/>
<line x1="271.17" y1="487.47" x2="273.14" y2="495.68"/>
<line x1="236.13" y1="492.4" x2="234.49" y2="495.68"/>
<line x1="259.67" y1="497.87" x2="260.17" y2="498.37" stroke-dasharray="none"/>
<line x1="203.28" y1="506.08" x2="207.12" y2="509.37"/>
<line x1="204.93" y1="510.46" x2="202.19" y2="514.84"/>
<line x1="205.47" y1="512.65" x2="204.93" y2="518.13"/>
<line x1="201.09" y1="517.03" x2="200" y2="520.32"/>
<line x1="266.24" y1="521.96" x2="268.43" y2="528.53"/>
</g>
<g stroke="#e8343c" stroke-width="1.2" fill="none" stroke-dasharray="4 2">
<rect x="117.8" y="326.5" width="12.8" height="10.9"/>
<rect x="250.2" y="326.5" width="13.6" height="10.9"/>
<line x1="130.6" y1="331.95" x2="250.2" y2="331.95"/>
<rect x="67.4" y="383.1" width="13.6" height="11.3"/>
<rect x="219.2" y="383.1" width="13.3" height="11.3"/>
<line x1="81" y1="388.75" x2="219.2" y2="388.75"/>
<rect x="98.2" y="436.4" width="13.1" height="11.3"/>
<rect x="166.5" y="436.4" width="13.1" height="11.3"/>
<line x1="111.3" y1="442.05" x2="166.5" y2="442.05"/>
<rect x="52.9" y="476.5" width="13.3" height="11.2"/>
<rect x="206.2" y="476.5" width="12.6" height="11.2"/>
<line x1="66.2" y1="482.1" x2="206.2" y2="482.1"/>
</g>
<text x="315.8" y="317.2" font-size="25" text-anchor="start" fill="#231f20" stroke="#231f20" stroke-width="0" >c</text>
<line x1="353.9" y1="319.3" x2="353.9" y2="526.6" stroke="#8a8a8a" stroke-width="1.6" />
<line x1="353.1" y1="526.6" x2="670.6" y2="526.6" stroke="#8a8a8a" stroke-width="1.6" />
<line x1="350.3" y1="526.3" x2="353.9" y2="526.3" stroke="#555" stroke-width="0.8" />
<text x="349" y="528.8" font-size="7.1" text-anchor="end" fill="#231f20" stroke="#231f20" stroke-width="0.18" >0.00</text>
<line x1="350.3" y1="496.83" x2="353.9" y2="496.83" stroke="#555" stroke-width="0.8" />
<text x="349" y="499.33" font-size="7.1" text-anchor="end" fill="#231f20" stroke="#231f20" stroke-width="0.18" >0.05</text>
<line x1="350.3" y1="467.36" x2="353.9" y2="467.36" stroke="#555" stroke-width="0.8" />
<text x="349" y="469.86" font-size="7.1" text-anchor="end" fill="#231f20" stroke="#231f20" stroke-width="0.18" >0.10</text>
<line x1="350.3" y1="437.89" x2="353.9" y2="437.89" stroke="#555" stroke-width="0.8" />
<text x="349" y="440.39" font-size="7.1" text-anchor="end" fill="#231f20" stroke="#231f20" stroke-width="0.18" >0.15</text>
<line x1="350.3" y1="408.42" x2="353.9" y2="408.42" stroke="#555" stroke-width="0.8" />
<text x="349" y="410.92" font-size="7.1" text-anchor="end" fill="#231f20" stroke="#231f20" stroke-width="0.18" >0.20</text>
<line x1="350.3" y1="378.95" x2="353.9" y2="378.95" stroke="#555" stroke-width="0.8" />
<text x="349" y="381.45" font-size="7.1" text-anchor="end" fill="#231f20" stroke="#231f20" stroke-width="0.18" >0.25</text>
<line x1="350.3" y1="349.48" x2="353.9" y2="349.48" stroke="#555" stroke-width="0.8" />
<text x="349" y="351.98" font-size="7.1" text-anchor="end" fill="#231f20" stroke="#231f20" stroke-width="0.18" >0.30</text>
<line x1="350.3" y1="320.01" x2="353.9" y2="320.01" stroke="#555" stroke-width="0.8" />
<text x="349" y="322.51" font-size="7.1" text-anchor="end" fill="#231f20" stroke="#231f20" stroke-width="0.18" >0.35</text>
<line x1="359.4" y1="526.6" x2="359.4" y2="529.1" stroke="#555" stroke-width="0.8" />
<text x="359.4" y="535.5" font-size="7.3" text-anchor="middle" fill="#231f20" stroke="#231f20" stroke-width="0.18" >0.0</text>
<line x1="411.17" y1="526.6" x2="411.17" y2="529.1" stroke="#555" stroke-width="0.8" />
<text x="411.17" y="535.5" font-size="7.3" text-anchor="middle" fill="#231f20" stroke="#231f20" stroke-width="0.18" >0.5</text>
<line x1="462.95" y1="526.6" x2="462.95" y2="529.1" stroke="#555" stroke-width="0.8" />
<text x="462.95" y="535.5" font-size="7.3" text-anchor="middle" fill="#231f20" stroke="#231f20" stroke-width="0.18" >1.0</text>
<line x1="514.72" y1="526.6" x2="514.72" y2="529.1" stroke="#555" stroke-width="0.8" />
<text x="514.72" y="535.5" font-size="7.3" text-anchor="middle" fill="#231f20" stroke="#231f20" stroke-width="0.18" >1.5</text>
<line x1="566.5" y1="526.6" x2="566.5" y2="529.1" stroke="#555" stroke-width="0.8" />
<text x="566.5" y="535.5" font-size="7.3" text-anchor="middle" fill="#231f20" stroke="#231f20" stroke-width="0.18" >2.0</text>
<line x1="618.27" y1="526.6" x2="618.27" y2="529.1" stroke="#555" stroke-width="0.8" />
<text x="618.27" y="535.5" font-size="7.3" text-anchor="middle" fill="#231f20" stroke="#231f20" stroke-width="0.18" >2.5</text>
<line x1="670.05" y1="526.6" x2="670.05" y2="529.1" stroke="#555" stroke-width="0.8" />
<text x="670.05" y="535.5" font-size="7.3" text-anchor="middle" fill="#231f20" stroke="#231f20" stroke-width="0.18" >3.0</text>
<text x="527.2" y="545" font-size="7.4" text-anchor="middle" fill="#231f20" stroke="#231f20" stroke-width="0.18" >Synonymous substitutions per site (Ks)</text>
<text x="0" y="0" font-size="7.45" fill="#231f20" text-anchor="middle" transform="translate(329.0,414.8) rotate(-90)">Percentage of gene pairs</text>
<path d="M359,515 C359.27,513.33 359.97,507.97 360.6,505 C361.23,502.03 361.95,499.07 362.8,497.2 C363.65,495.33 364.77,494.07 365.7,493.8 C366.63,493.53 367.38,494.48 368.4,495.6 C369.42,496.72 370.5,499.32 371.8,500.5 C373.1,501.68 374.9,503.07 376.2,502.7 C377.5,502.33 378.67,500.9 379.6,498.3 C380.53,495.7 381.05,491.95 381.8,487.1 C382.55,482.25 383.35,476.65 384.1,469.2 C384.85,461.75 385.57,451.72 386.3,442.4 C387.03,433.08 387.75,422.63 388.5,413.3 C389.25,403.97 390.05,394.23 390.8,386.4 C391.55,378.57 392.25,371.88 393,366.3 C393.75,360.72 394.37,356.43 395.3,352.9 C396.23,349.37 397.57,346.52 398.6,345.1 C399.63,343.68 400.57,343.85 401.5,344.4 C402.43,344.95 403.18,345.87 404.2,348.4 C405.22,350.93 406.48,354.38 407.6,359.6 C408.72,364.82 409.97,373.37 410.9,379.7 C411.83,386.03 412.45,391.63 413.2,397.6 C413.95,403.57 414.67,409.9 415.4,415.5 C416.13,421.1 416.85,426.35 417.6,431.2 C418.35,436.05 419.15,440.5 419.9,444.6 C420.65,448.7 421.25,452.63 422.1,455.8 C422.95,458.97 423.88,461.36 425,463.6 C426.12,465.84 427.31,466.56 428.82,469.25 C430.34,471.95 432.33,475.38 434.08,479.76 C435.83,484.14 437.58,490.27 439.33,495.53 C441.08,500.78 443.05,507.79 444.59,511.29 C446.12,514.8 446.78,515.54 448.53,516.55 C450.28,517.55 453.13,517.12 455.1,517.34 C457.07,517.55 458.16,517.47 460.35,517.86 C462.54,518.26 466.04,519.22 468.23,519.7 C470.42,520.18 471.3,520.49 473.49,520.75 C475.68,521.01 479.18,521.32 481.37,521.28 C483.56,521.23 484.87,520.18 486.63,520.49 C488.38,520.8 489.65,522.48 491.88,523.12 C494.11,523.75 497.33,524.33 500,524.31 C502.67,524.29 505.25,523.3 507.88,523 C510.51,522.69 513.14,522.56 515.76,522.47 C518.39,522.38 521.02,522.34 523.65,522.47 C526.27,522.6 528.9,523.04 531.53,523.26 C534.16,523.48 536.78,523.56 539.41,523.78 C542.04,524 544.67,524.48 547.29,524.57 C549.92,524.66 552.55,524.22 555.18,524.31 C557.8,524.4 559.12,524.88 563.06,525.1 C567,525.32 571.82,525.49 578.82,525.62 C585.83,525.75 591.96,525.8 605.1,525.89 C618.23,525.97 648.89,526.1 657.65,526.15" fill="none" stroke="#ecc96e" stroke-width="1.15" />
<path d="M366.2,527.3 C366.57,525.07 367.65,519.12 368.4,513.9 C369.15,508.68 369.95,502.7 370.7,496 C371.45,489.3 372.17,481.15 372.9,473.7 C373.63,466.25 374.35,458.77 375.1,451.3 C375.85,443.83 376.65,436.35 377.4,428.9 C378.15,421.45 378.87,413.68 379.6,406.6 C380.33,399.52 381.05,392.75 381.8,386.4 C382.55,380.05 383.35,373.72 384.1,368.5 C384.85,363.28 385.57,358.63 386.3,355.1 C387.03,351.57 387.75,349.08 388.5,347.3 C389.25,345.52 390.05,344.67 390.8,344.4 C391.55,344.13 392.25,344.65 393,345.7 C393.75,346.75 394.55,348.38 395.3,350.7 C396.05,353.02 396.77,355.88 397.5,359.6 C398.23,363.32 398.95,367.78 399.7,373 C400.45,378.22 401.25,384.57 402,390.9 C402.75,397.23 403.47,404.67 404.2,411 C404.93,417.33 405.65,423.3 406.4,428.9 C407.15,434.5 407.95,439.75 408.7,444.6 C409.45,449.45 410.15,453.9 410.9,458 C411.65,462.1 412.45,465.85 413.2,469.2 C413.95,472.55 414.67,475.48 415.4,478.1 C416.13,480.72 416.67,482.47 417.6,484.9 C418.53,487.33 419.88,490.47 421,492.7 C422.12,494.93 423,496.3 424.3,498.3 C425.6,500.3 427.19,502.34 428.82,504.72 C430.45,507.11 432.11,510.64 434.08,512.61 C436.05,514.58 438.02,515.76 440.65,516.55 C443.27,517.34 446.56,517.12 449.84,517.34 C453.13,517.55 456.41,517.69 460.35,517.86 C464.29,518.04 469.11,518.47 473.49,518.39 C477.87,518.3 482.69,517.55 486.63,517.34 C490.57,517.12 494.91,517.18 497.14,517.07 C499.37,516.97 498.21,516.53 500,516.69 C501.79,516.84 505.25,517.57 507.88,518 C510.51,518.44 513.14,518.92 515.76,519.32 C518.39,519.71 521.02,520.06 523.65,520.37 C526.27,520.67 528.9,520.89 531.53,521.16 C534.16,521.42 536.78,521.73 539.41,521.94 C542.04,522.16 544.67,522.25 547.29,522.47 C549.92,522.69 552.11,523 555.18,523.26 C558.24,523.52 561.74,523.83 565.69,524.05 C569.63,524.27 572.25,524.31 578.82,524.57 C585.39,524.83 591.96,525.36 605.1,525.62 C618.23,525.89 648.89,526.06 657.65,526.15" fill="none" stroke="#d9536d" stroke-width="1.15" />
<path d="M359,518.4 C359.45,518.85 360.68,520.43 361.7,521.1 C362.72,521.77 363.98,522.28 365.1,522.4 C366.22,522.52 367.1,522.4 368.4,521.8 C369.7,521.2 371.4,519.93 372.9,518.8 C374.4,517.67 375.53,516.37 377.4,515 C379.27,513.63 381.87,512.08 384.1,510.6 C386.33,509.12 388.57,507.6 390.8,506.1 C393.03,504.6 395.27,503.08 397.5,501.6 C399.73,500.12 401.97,498.68 404.2,497.2 C406.43,495.72 408.85,494.02 410.9,492.7 C412.95,491.38 414.82,490.6 416.5,489.3 C418.18,488 419.58,487.12 421,484.9 C422.42,482.68 423.48,479.92 425,476 C426.52,472.08 428.19,466.87 430.14,461.37 C432.09,455.87 434.73,447.58 436.71,442.98 C438.68,438.38 440.43,435.75 441.96,433.78 C443.49,431.81 444.59,431.16 445.9,431.16 C447.21,431.16 448.31,431.81 449.84,433.78 C451.38,435.75 453.35,440.13 455.1,442.98 C456.85,445.83 458.6,448.67 460.35,450.86 C462.1,453.05 463.42,454.15 465.61,456.12 C467.8,458.09 471.08,460.5 473.49,462.69 C475.9,464.87 477.87,466.19 480.06,469.25 C482.25,472.32 484.44,477.14 486.63,481.08 C488.82,485.02 491.22,489.62 493.19,492.9 C495.17,496.18 497.32,499.27 498.45,500.78 C499.58,502.3 498.87,501.43 500,501.98 C501.13,502.52 503.5,503.07 505.25,504.08 C507.01,505.08 508.76,506.71 510.51,508.02 C512.26,509.33 514.01,511.08 515.76,511.96 C517.52,512.84 519.27,513.05 521.02,513.27 C522.77,513.49 524.52,513.41 526.27,513.27 C528.03,513.14 529.78,512.35 531.53,512.49 C533.28,512.62 535.03,513.19 536.78,514.06 C538.54,514.94 540.29,516.65 542.04,517.74 C543.79,518.84 545.54,519.93 547.29,520.63 C549.05,521.33 550.36,521.73 552.55,521.94 C554.74,522.16 557.8,522.03 560.43,521.94 C563.06,521.86 566.12,521.42 568.31,521.42 C570.5,521.42 571.82,521.64 573.57,521.94 C575.32,522.25 576.63,522.82 578.82,523.26 C581.01,523.7 584.08,524.13 586.71,524.57 C589.33,525.01 591.52,525.62 594.59,525.89 C597.65,526.15 601.16,526.15 605.1,526.15 C609.04,526.15 613.86,525.89 618.23,525.89 C622.61,525.89 624.8,526.1 631.37,526.15 C637.94,526.19 653.27,526.15 657.65,526.15" fill="none" stroke="#2f8c3f" stroke-width="1.15" />
<path d="M359,470.3 C359.45,473.1 360.68,482.07 361.7,487.1 C362.72,492.13 363.98,496.97 365.1,500.5 C366.22,504.03 367.28,506.43 368.4,508.3 C369.52,510.17 370.68,510.95 371.8,511.7 C372.92,512.45 373.98,512.8 375.1,512.8 C376.22,512.8 377.38,512.25 378.5,511.7 C379.62,511.15 380.5,510.62 381.8,509.5 C383.1,508.38 384.8,506.68 386.3,505 C387.8,503.32 389.3,501.63 390.8,499.4 C392.3,497.17 393.82,494.77 395.3,491.6 C396.78,488.43 398.22,484.5 399.7,480.4 C401.18,476.3 402.7,471.48 404.2,467 C405.7,462.52 407.4,457.6 408.7,453.5 C410,449.4 410.88,445.38 412,442.4 C413.12,439.42 414.28,437.47 415.4,435.6 C416.52,433.73 417.65,432.23 418.7,431.2 C419.75,430.17 420.65,429.33 421.7,429.4 C422.75,429.47 423.81,430.21 425,431.6 C426.19,432.99 427.31,434.95 428.82,437.72 C430.34,440.5 432.11,444.29 434.08,448.23 C436.05,452.18 438.46,457.65 440.65,461.37 C442.84,465.09 444.81,467.72 447.21,470.57 C449.62,473.41 452.91,476.04 455.1,478.45 C457.29,480.86 458.6,482.39 460.35,485.02 C462.1,487.65 463.86,491.37 465.61,494.21 C467.36,497.06 469.11,500.04 470.86,502.1 C472.61,504.15 473.93,505.69 476.12,506.56 C478.31,507.44 481.37,507 484,507.35 C486.63,507.7 489.21,507.98 491.88,508.67 C494.55,509.35 497.33,510.67 500,511.43 C502.67,512.2 505.25,512.84 507.88,513.27 C510.51,513.71 513.14,513.62 515.76,514.06 C518.39,514.5 521.02,515.29 523.65,515.9 C526.27,516.51 528.9,517.3 531.53,517.74 C534.16,518.18 536.78,518.27 539.41,518.53 C542.04,518.79 545.1,518.88 547.29,519.32 C549.48,519.75 550.36,520.5 552.55,521.16 C554.74,521.81 557.8,522.73 560.43,523.26 C563.06,523.78 565.25,524.09 568.31,524.31 C571.38,524.53 574.88,524.53 578.82,524.57 C582.76,524.62 587.58,524.62 591.96,524.57 C596.34,524.53 600.72,524.22 605.1,524.31 C609.48,524.4 613.86,524.97 618.23,525.1 C622.61,525.23 624.8,525.01 631.37,525.1 C637.94,525.18 653.27,525.54 657.65,525.62" fill="none" stroke="#25a9e0" stroke-width="1.15" />
<path d="M359.5,527.8 C360.62,527.35 363.97,526.1 366.2,525.1 C368.43,524.1 370.67,522.73 372.9,521.8 C375.13,520.87 377,520.37 379.6,519.5 C382.2,518.63 385.52,517.53 388.5,516.6 C391.48,515.67 394.52,514.72 397.5,513.9 C400.48,513.08 403.42,512.45 406.4,511.7 C409.38,510.95 412.3,510.33 415.4,509.4 C418.5,508.47 421.89,507.1 425,506.1 C428.11,505.1 430.81,504.52 434.08,503.41 C437.34,502.31 441.52,501 444.59,499.47 C447.65,497.94 449.84,496.18 452.47,494.21 C455.1,492.24 457.72,490.05 460.35,487.65 C462.98,485.24 465.61,482.17 468.23,479.76 C470.86,477.36 473.49,474.95 476.12,473.19 C478.74,471.44 481.37,470.57 484,469.25 C486.63,467.94 489.47,466.32 491.88,465.31 C494.29,464.31 497.1,463.54 498.45,463.21 C499.8,462.88 498.87,462.89 500,463.35 C501.13,463.81 503.5,464.67 505.25,465.98 C507.01,467.29 508.76,469.48 510.51,471.23 C512.26,472.99 514.01,474.74 515.76,476.49 C517.52,478.24 519.27,480.65 521.02,481.74 C522.77,482.84 524.52,482.75 526.27,483.06 C528.03,483.36 529.78,482.93 531.53,483.58 C533.28,484.24 535.03,485.55 536.78,487 C538.54,488.44 540.29,490.72 542.04,492.25 C543.79,493.79 545.54,494.88 547.29,496.2 C549.05,497.51 550.8,499.04 552.55,500.14 C554.3,501.23 556.05,502.02 557.8,502.76 C559.56,503.51 561.31,503.95 563.06,504.6 C564.81,505.26 566.56,505.7 568.31,506.71 C570.06,507.71 571.82,509.42 573.57,510.65 C575.32,511.87 577.07,513.19 578.82,514.06 C580.57,514.94 582.33,515.73 584.08,515.9 C585.83,516.08 587.58,515.33 589.33,515.11 C591.08,514.89 592.84,514.46 594.59,514.59 C596.34,514.72 598.09,515.24 599.84,515.9 C601.59,516.56 602.91,517.78 605.1,518.53 C607.29,519.27 610.35,519.93 612.98,520.37 C615.61,520.81 618.23,520.81 620.86,521.16 C623.49,521.51 626.12,522.25 628.74,522.47 C631.37,522.69 634,522.56 636.63,522.47 C639.25,522.38 641.88,522.08 644.51,521.94 C647.14,521.81 650.2,521.46 652.39,521.68 C654.58,521.9 656.77,523 657.65,523.26" fill="none" stroke="#c857c4" stroke-width="1.15" stroke-dasharray="4.2 2.6"/>
<line x1="506.6" y1="335.2" x2="518.9" y2="335.2" stroke="#25a9e0" stroke-width="1.1" />
<text x="527.1" y="337.8" font-size="7.4" fill="#231f20"><tspan font-style="italic">C. sinicum</tspan></text>
<line x1="506.6" y1="344.88" x2="518.9" y2="344.88" stroke="#d9536d" stroke-width="1.1" />
<text x="527.1" y="347.48" font-size="7.4" fill="#231f20"><tspan font-style="italic">K. fedtschenkoi</tspan></text>
<line x1="506.6" y1="354.56" x2="518.9" y2="354.56" stroke="#ecc96e" stroke-width="1.1" />
<text x="527.1" y="357.16" font-size="7.4" fill="#231f20"><tspan font-style="italic">R. crenulata</tspan></text>
<line x1="506.6" y1="364.24" x2="518.9" y2="364.24" stroke="#2f8c3f" stroke-width="1.1" />
<text x="527.1" y="366.84" font-size="7.4" fill="#231f20"><tspan font-style="italic">V. vinifera</tspan></text>
<line x1="506.6" y1="373.92" x2="518.9" y2="373.92" stroke="#c857c4" stroke-width="1.1" stroke-dasharray="3 2"/>
<text x="527.1" y="376.52" font-size="7.4" fill="#231f20"><tspan font-style="italic">C. sinicum</tspan> vs. <tspan font-style="italic">R. crenulata</tspan></text>
<text x="13.6" y="598.4" font-size="24.5" text-anchor="start" fill="#231f20" stroke="#231f20" stroke-width="0" >d</text>
<rect x="40.3" y="592.6" width="357.7" height="69.2" fill="none" stroke="#555" stroke-width="1.5"/>
<rect x="73" y="621.7" width="5.8" height="16.7" fill="#ee6a5d" />
<rect x="82.32" y="611.5" width="5.8" height="26.9" fill="#7a4da2" />
<rect x="91.64" y="615.9" width="5.8" height="22.5" fill="#3a8fd3" />
<rect x="100.96" y="599.8" width="5.8" height="38.6" fill="#e0a324" />
<rect x="110.28" y="602.7" width="5.8" height="35.7" fill="#1f7866" />
<rect x="119.6" y="605.1" width="5.8" height="33.3" fill="#d35fbf" />
<rect x="128.92" y="628.1" width="5.8" height="10.3" fill="#8dc640" />
<line x1="78.8" y1="642.3" x2="124.3" y2="642.3" stroke="#231f20" stroke-width="1" />
<path d="M123.8,640.4 L128.8,642.3 L123.8,644.2 Z" fill="#231f20"/>
<text x="76.6" y="645" font-size="7.2" text-anchor="end" fill="#231f20" stroke="#231f20" stroke-width="0.18" >AEK1</text>
<text x="130.6" y="645" font-size="7.2" text-anchor="start" fill="#231f20" stroke="#231f20" stroke-width="0.18" >AEK7</text>
<text x="100.7" y="656.2" font-size="8.2" text-anchor="middle" fill="#231f20" stroke="#231f20" stroke-width="0.18" font-style="italic" font-weight="bold" >Eudicots ancestor pre-γ</text>
<line x1="168.3" y1="628" x2="195.7" y2="628" stroke="#231f20" stroke-width="1.1" />
<path d="M195.2,626.1 L201.2,628 L195.2,629.9 Z" fill="#231f20"/>
<text x="170.6" y="638" font-size="7" text-anchor="start" fill="#231f20" stroke="#231f20" stroke-width="0.18" font-weight="bold" >WGT-γ</text>
<rect x="236.1" y="618.03" width="4.4" height="22.37" fill="#ee6a5d" />
<rect x="242.67" y="618.47" width="4.4" height="21.93" fill="#ee6a5d" />
<rect x="249.24" y="621.97" width="4.4" height="18.43" fill="#ee6a5d" />
<rect x="255.81" y="617.15" width="4.4" height="23.25" fill="#7a4da2" />
<rect x="262.38" y="623.06" width="4.4" height="17.34" fill="#7a4da2" />
<rect x="268.95" y="605.98" width="4.4" height="34.42" fill="#7a4da2" />
<rect x="275.52" y="600.73" width="4.4" height="39.67" fill="#3a8fd3" />
<rect x="282.09" y="627" width="4.4" height="13.4" fill="#3a8fd3" />
<rect x="288.66" y="624.6" width="4.4" height="15.8" fill="#3a8fd3" />
<rect x="295.23" y="606.42" width="4.4" height="33.98" fill="#e0a324" />
<rect x="301.8" y="600.51" width="4.4" height="39.89" fill="#e0a324" />
<rect x="308.37" y="612.33" width="4.4" height="28.07" fill="#e0a324" />
<rect x="314.94" y="616.06" width="4.4" height="24.34" fill="#1f7866" />
<rect x="321.51" y="618.68" width="4.4" height="21.72" fill="#1f7866" />
<rect x="328.08" y="597.01" width="4.4" height="43.39" fill="#1f7866" />
<rect x="334.65" y="606.42" width="4.4" height="33.98" fill="#d35fbf" />
<rect x="341.22" y="614.52" width="4.4" height="25.88" fill="#d35fbf" />
<rect x="347.79" y="608.17" width="4.4" height="32.23" fill="#d35fbf" />
<rect x="354.36" y="616.93" width="4.4" height="23.47" fill="#8dc640" />
<rect x="360.93" y="623.72" width="4.4" height="16.68" fill="#8dc640" />
<rect x="367.5" y="618.47" width="4.4" height="21.93" fill="#8dc640" />
<line x1="239.9" y1="643.3" x2="361.5" y2="643.3" stroke="#231f20" stroke-width="1" />
<path d="M361,641.4 L366,643.3 L361,645.2 Z" fill="#231f20"/>
<text x="238.3" y="646" font-size="7.2" text-anchor="middle" fill="#231f20" stroke="#231f20" stroke-width="0.18" >1</text>
<text x="370.3" y="646" font-size="7.2" text-anchor="middle" fill="#231f20" stroke="#231f20" stroke-width="0.18" >21</text>
<text x="301.7" y="655.9" font-size="8.3" text-anchor="middle" fill="#231f20" stroke="#231f20" stroke-width="0.18" font-style="italic" font-weight="bold" >Eudicots ancestor post-γ</text>
<g stroke="#111" stroke-width="1.6" stroke-linecap="square">
<line x1="147.4" y1="662" x2="147.4" y2="688.7"/>
<line x1="38.7" y1="688.7" x2="256.6" y2="688.7"/>
<line x1="39.4" y1="688.7" x2="39.4" y2="748.6"/>
<line x1="256.6" y1="688.7" x2="256.6" y2="702.6"/>
<line x1="141.2" y1="702.6" x2="370.8" y2="702.6"/>
<line x1="141.2" y1="702.6" x2="141.2" y2="748.6"/>
<line x1="370.8" y1="702.6" x2="370.8" y2="716.5"/>
<line x1="243.3" y1="716.5" x2="499" y2="716.5"/>
<line x1="243.3" y1="716.5" x2="243.3" y2="748"/>
<line x1="499" y1="716.5" x2="499" y2="730.3"/>
<line x1="396.3" y1="730.3" x2="600.6" y2="730.3"/>
<line x1="396.3" y1="730.3" x2="396.3" y2="744.3"/>
<line x1="600.6" y1="730.3" x2="600.6" y2="744.3"/>
<line x1="346" y1="744.3" x2="447.2" y2="744.3"/>
<line x1="549.6" y1="744.3" x2="651.6" y2="744.3"/>
<line x1="346" y1="744.3" x2="346" y2="748"/>
<line x1="447.2" y1="744.3" x2="447.2" y2="748"/>
<line x1="549.6" y1="744.3" x2="549.6" y2="748"/>
<line x1="651.6" y1="744.3" x2="651.6" y2="748"/>
</g>
<text x="152.9" y="677.8" font-size="8.2" text-anchor="start" fill="#231f20" stroke="#231f20" stroke-width="0.18" font-weight="bold" >Superrosids</text>
<filter id="blr" x="-10%" y="-10%" width="120%" height="120%"><feGaussianBlur stdDeviation="0.6"/></filter>
<clipPath id="c0"><rect x="25.3" y="748.6" width="26.7" height="25.4"/></clipPath>
<g clip-path="url(#c0)"><g filter="url(#blr)">
<rect x="24.3" y="747.6" width="28.7" height="27.4" fill="#5a4a30"/><ellipse cx="28.5" cy="767.65" rx="4.81" ry="7.62" fill="#3e2f20" opacity="1"/><circle cx="29.3" cy="752.41" r="4.27" fill="#62b03e" opacity="1"/><circle cx="35.98" cy="751.65" r="3.74" fill="#5aa83a" opacity="1"/><circle cx="43.99" cy="751.65" r="4" fill="#4f9a34" opacity="1"/><circle cx="49.86" cy="753.68" r="3.74" fill="#3f7f2a" opacity="1"/><circle cx="33.31" cy="758.25" r="4.54" fill="#6cba44" opacity="1"/><circle cx="40.79" cy="757.49" r="3.74" fill="#63b040" opacity="1"/><circle cx="48" cy="760.03" r="4" fill="#55a437" opacity="1"/><circle cx="38.12" cy="764.35" r="4.54" fill="#74be48" opacity="1"/><circle cx="47.19" cy="768.41" r="5.34" fill="#80c650" opacity="1"/><circle cx="38.65" cy="771.46" r="3.74" fill="#6db844" opacity="1"/><circle cx="30.11" cy="760.03" r="2.67" fill="#4f9a34" opacity="1"/><circle cx="41.85" cy="750.63" r="1.33" fill="#2a4a1a" opacity="1"/><circle cx="47.19" cy="767.65" r="2.14" fill="#98d060" opacity="0.6"/>
</g></g>
<clipPath id="c1"><rect x="128" y="748.6" width="26" height="25.4"/></clipPath>
<g clip-path="url(#c1)"><g filter="url(#blr)">
<rect x="127" y="747.6" width="28" height="27.4" fill="#b49a40"/><ellipse cx="131.9" cy="752.41" rx="6.5" ry="5.08" fill="#c6aa4c" opacity="1"/><ellipse cx="130.6" cy="763.84" rx="3.12" ry="7.62" fill="#94782a" opacity="1"/><ellipse cx="150.88" cy="760.03" rx="3.64" ry="5.59" fill="#d8993e" opacity="1"/><ellipse cx="143.6" cy="771.46" rx="7.8" ry="3.05" fill="#a8943e" opacity="1"/><ellipse cx="141.52" cy="761.3" rx="9.36" ry="6.1" fill="#2c3556" transform="rotate(35 141.52 761.3)"/><ellipse cx="135.28" cy="769.43" rx="2.6" ry="3.05" fill="#58658f" opacity="1"/><circle cx="138.4" cy="755.71" r="2.6" fill="#d2d8f4" opacity="1"/><circle cx="142.3" cy="756.22" r="2.6" fill="#c3ccf0" opacity="1"/><circle cx="137.36" cy="760.03" r="2.86" fill="#b2bdea" opacity="1"/><circle cx="141" cy="760.03" r="2.86" fill="#dfe3f8" opacity="1"/><circle cx="144.64" cy="761.3" r="2.34" fill="#a3b0e2" opacity="1"/><circle cx="139.7" cy="763.84" r="2.6" fill="#c0c9ee" opacity="1"/><circle cx="143.6" cy="764.86" r="2.34" fill="#8a98d4" opacity="1"/><circle cx="141.52" cy="767.9" r="2.08" fill="#6877b8" opacity="1"/><circle cx="146.72" cy="756.22" r="1.56" fill="#4c5a8e" opacity="1"/>
</g></g>
<clipPath id="c2"><rect x="230" y="748.6" width="26" height="25.4"/></clipPath>
<g clip-path="url(#c2)"><g filter="url(#blr)">
<rect x="229" y="747.6" width="28" height="27.4" fill="#f4f6f4"/><circle cx="249.5" cy="751.65" r="4.16" fill="#8a9a80" opacity="0.7"/><circle cx="253.92" cy="758.76" r="3.12" fill="#7c8c74" opacity="0.7"/><circle cx="252.88" cy="767.65" r="3.12" fill="#6e7e6c" opacity="0.7"/><circle cx="244.3" cy="754.19" r="2.6" fill="#9aaa8a" opacity="0.7"/><circle cx="232.08" cy="761.3" r="2.08" fill="#6a7670" opacity="0.7"/><circle cx="232.6" cy="770.19" r="2.08" fill="#7c8a80" opacity="0.7"/><circle cx="235.2" cy="750.63" r="2.08" fill="#a8b0b0" opacity="0.7"/><circle cx="247.68" cy="760.03" r="2.08" fill="#aab49e" opacity="0.7"/><path d="M243.52,756.22 L245.6,756.22 L252.1,774.51 L236.5,774.51 Z" fill="#958262" opacity="1"/><path d="M244.3,758.76 L245.6,758.76 L247.68,774.51 L241.7,774.51 Z" fill="#7a6a4c" opacity="0.7"/><path d="M246.12,762.57 L248.72,764.35 L252.1,774.51 L249.5,774.51 Z" fill="#6e8a46" opacity="0.6"/>
</g></g>
<clipPath id="c3"><rect x="333" y="748.6" width="25.5" height="25.4"/></clipPath>
<g clip-path="url(#c3)"><g filter="url(#blr)">
<rect x="332" y="747.6" width="27.5" height="27.4" fill="#1e2e12"/><ellipse cx="340.65" cy="753.68" rx="7.65" ry="5.59" fill="#8fb53c" opacity="1"/><ellipse cx="350.34" cy="754.19" rx="7.65" ry="6.35" fill="#a5c84a" opacity="1"/><ellipse cx="338.61" cy="763.84" rx="6.38" ry="7.62" fill="#a2c64a" opacity="1"/><ellipse cx="353.4" cy="764.35" rx="5.61" ry="8.13" fill="#9cc042" opacity="1"/><ellipse cx="357.23" cy="752.41" rx="2.55" ry="3.81" fill="#7fa83a" opacity="1"/><ellipse cx="340.65" cy="771.97" rx="5.61" ry="3.05" fill="#8fb83e" opacity="1"/><ellipse cx="345.75" cy="760.03" rx="3.06" ry="3.05" fill="#b3d255" opacity="1"/><ellipse cx="347.02" cy="769.43" rx="2.55" ry="4.57" fill="#0e1606" opacity="1"/><ellipse cx="336.82" cy="753.68" rx="1.53" ry="3.81" fill="#2a3a18" opacity="1"/><ellipse cx="348.3" cy="754.95" rx="2.29" ry="2.03" fill="#7d6040" opacity="0.9"/><ellipse cx="340.14" cy="761.81" rx="2.29" ry="1.52" fill="#7d6040" opacity="0.9"/><ellipse cx="350.34" cy="762.57" rx="2.04" ry="1.02" fill="#7d6040" opacity="0.9"/><ellipse cx="339.38" cy="758.25" rx="1.53" ry="0.76" fill="#7d6040" opacity="0.9"/>
</g></g>
<clipPath id="c4"><rect x="434.8" y="748.6" width="25.2" height="25.4"/></clipPath>
<g clip-path="url(#c4)"><g filter="url(#blr)">
<rect x="433.8" y="747.6" width="27.2" height="27.4" fill="#5c9e5c"/><ellipse cx="439.84" cy="767.65" rx="6.3" ry="7.62" fill="#8cc48c" opacity="1"/><ellipse cx="456.22" cy="753.68" rx="5.04" ry="6.35" fill="#4a8a4a" opacity="1"/><ellipse cx="448.16" cy="764.35" rx="9.32" ry="7.11" fill="#cf1b22" opacity="1"/><ellipse cx="446.14" cy="762.57" rx="3.02" ry="2.54" fill="#e8505a" opacity="0.6"/><path d="M441.1,754.95 L446.14,756.22 L447.4,749.87 L449.92,756.22 L456.22,754.95 L451.18,760.03 L447.4,762.57 L443.62,760.03 Z" fill="#eef0e6" opacity="1"/><path d="M445.38,748.6 L447.4,748.6 L448.66,759.27 L447.4,759.27 Z" fill="#e0a0b0" opacity="1"/>
</g></g>
<clipPath id="c5"><rect x="536" y="748.6" width="26.9" height="25.4"/></clipPath>
<g clip-path="url(#c5)"><g filter="url(#blr)">
<rect x="535" y="747.6" width="28.9" height="27.4" fill="#5f9fe0"/><rect x="536" y="763.84" width="26.9" height="10.16" fill="#8cc4ef" opacity="0.6"/><ellipse cx="548.11" cy="756.22" rx="4.84" ry="6.6" fill="#6f8452" opacity="1"/><ellipse cx="550.79" cy="763.84" rx="4.57" ry="6.35" fill="#5d7446" opacity="1"/><ellipse cx="552.68" cy="771.97" rx="5.38" ry="3.56" fill="#44602e" opacity="1"/><ellipse cx="556.98" cy="762.57" rx="2.69" ry="2.03" fill="#4f6a3e" opacity="1"/><ellipse cx="562.36" cy="751.14" rx="3.23" ry="3.56" fill="#2e4a28" opacity="1"/><ellipse cx="562.36" cy="770.19" rx="3.23" ry="5.59" fill="#2a4a20" opacity="1"/><ellipse cx="536.54" cy="761.3" rx="1.08" ry="5.08" fill="#6c8a6a" opacity="0.6"/>
</g></g>
<clipPath id="c6"><rect x="639" y="748.6" width="25.8" height="25.4"/></clipPath>
<g clip-path="url(#c6)"><g filter="url(#blr)">
<rect x="638" y="747.6" width="27.8" height="27.4" fill="#6f675d"/><ellipse cx="654.48" cy="763.84" rx="3.87" ry="11.43" fill="#5c7a40" opacity="0.7"/><ellipse cx="648.03" cy="758.76" rx="2.58" ry="5.08" fill="#5c7a40" opacity="0.7"/><circle cx="644.16" cy="753.68" r="3.61" fill="#f2f4ee" opacity="1"/><circle cx="644.16" cy="755.2" r="1.08" fill="#b5cc80" opacity="1"/><circle cx="657.58" cy="753.68" r="4.39" fill="#f2f4ee" opacity="1"/><circle cx="657.58" cy="755.2" r="1.32" fill="#b5cc80" opacity="1"/><circle cx="648.8" cy="762.57" r="4.39" fill="#f2f4ee" opacity="1"/><circle cx="648.8" cy="764.09" r="1.32" fill="#b5cc80" opacity="1"/><circle cx="660.16" cy="767.65" r="3.87" fill="#f2f4ee" opacity="1"/><circle cx="660.16" cy="769.17" r="1.16" fill="#b5cc80" opacity="1"/><circle cx="648.03" cy="773.49" r="2.58" fill="#f2f4ee" opacity="1"/><circle cx="648.03" cy="775.02" r="0.77" fill="#b5cc80" opacity="1"/><circle cx="652.42" cy="752.92" r="1.81" fill="#f2f4ee" opacity="1"/><circle cx="652.42" cy="754.44" r="0.54" fill="#b5cc80" opacity="1"/>
</g></g>
<text x="38.6" y="785.6" font-size="8.2" text-anchor="middle" fill="#231f20" stroke="#231f20" stroke-width="0.18" font-style="italic" >C. sinicum</text>
<text x="38.6" y="795" font-size="8.2" text-anchor="middle" fill="#231f20" stroke="#231f20" stroke-width="0.18" >(n = 12)</text>
<text x="141" y="785.6" font-size="8.2" text-anchor="middle" fill="#231f20" stroke="#231f20" stroke-width="0.18" font-style="italic" >V. vinifera</text>
<text x="141" y="795" font-size="8.2" text-anchor="middle" fill="#231f20" stroke="#231f20" stroke-width="0.18" >(n = 19)</text>
<text x="244.3" y="785.6" font-size="8.2" text-anchor="middle" fill="#231f20" stroke="#231f20" stroke-width="0.18" font-style="italic" >E. grandis</text>
<text x="244.3" y="795" font-size="8.2" text-anchor="middle" fill="#231f20" stroke="#231f20" stroke-width="0.18" >(n = 11)</text>
<text x="345.3" y="785.6" font-size="8.2" text-anchor="middle" fill="#231f20" stroke="#231f20" stroke-width="0.18" font-style="italic" >M. truncatula</text>
<text x="345.3" y="795" font-size="8.2" text-anchor="middle" fill="#231f20" stroke="#231f20" stroke-width="0.18" >(n = 8)</text>
<text x="446.6" y="785.6" font-size="8.2" text-anchor="middle" fill="#231f20" stroke="#231f20" stroke-width="0.18" font-style="italic" >F. vesca</text>
<text x="446.6" y="795" font-size="8.2" text-anchor="middle" fill="#231f20" stroke="#231f20" stroke-width="0.18" >(n = 7)</text>
<text x="549" y="785.6" font-size="8.2" text-anchor="middle" fill="#231f20" stroke="#231f20" stroke-width="0.18" font-style="italic" >P. trichocarpa</text>
<text x="549" y="795" font-size="8.2" text-anchor="middle" fill="#231f20" stroke="#231f20" stroke-width="0.18" >(n = 19)</text>
<text x="651.6" y="785.6" font-size="8.2" text-anchor="middle" fill="#231f20" stroke="#231f20" stroke-width="0.18" font-style="italic" >A. thaliana</text>
<text x="651.6" y="795" font-size="8.2" text-anchor="middle" fill="#231f20" stroke="#231f20" stroke-width="0.18" >(n = 5)</text>
<rect x="0.2" y="804.7" width="4.2" height="4.54" fill="#e0a324" />
<rect x="0.2" y="808.99" width="4.2" height="1.42" fill="#f2d58e" />
<rect x="0.2" y="810.16" width="4.2" height="2.59" fill="#e0a324" />
<rect x="0.2" y="812.5" width="4.2" height="5.71" fill="#3a8fd3" />
<rect x="0.2" y="817.97" width="4.2" height="4.15" fill="#e0a324" />
<rect x="0.2" y="821.87" width="4.2" height="9.22" fill="#d35fbf" />
<rect x="0.2" y="830.84" width="4.2" height="2.2" fill="#efb8dd" />
<rect x="0.2" y="832.79" width="4.2" height="2.59" fill="#d35fbf" />
<rect x="0.2" y="835.14" width="4.2" height="7.27" fill="#ffffff" />
<rect x="0.2" y="842.16" width="4.2" height="11.18" fill="#e0a324" />
<rect x="0.2" y="853.08" width="4.2" height="1.81" fill="#a9a53a" />
<rect x="0.2" y="854.65" width="4.2" height="2.59" fill="#e0a324" />
<rect x="0.2" y="856.99" width="4.2" height="3.37" fill="#ee6a5d" />
<rect x="0.2" y="860.11" width="4.2" height="1.42" fill="#ffffff" />
<rect x="0.2" y="861.28" width="4.2" height="3.37" fill="#ee6a5d" />
<rect x="0.2" y="804.7" width="4.2" height="59.7" fill="none" stroke="#9b9b9b" stroke-width="0.6"/>
<rect x="6.82" y="808.2" width="4.2" height="4.93" fill="#8dc640" />
<rect x="6.82" y="812.88" width="4.2" height="1.81" fill="#ffffff" />
<rect x="6.82" y="814.44" width="4.2" height="1.42" fill="#1f7866" />
<rect x="6.82" y="815.62" width="4.2" height="1.42" fill="#8dc640" />
<rect x="6.82" y="816.79" width="4.2" height="5.32" fill="#1f7866" />
<rect x="6.82" y="821.86" width="4.2" height="1.42" fill="#ffffff" />
<rect x="6.82" y="823.03" width="4.2" height="4.15" fill="#efb8dd" />
<rect x="6.82" y="826.93" width="4.2" height="3.76" fill="#d35fbf" />
<rect x="6.82" y="830.45" width="4.2" height="8.06" fill="#7a4da2" />
<rect x="6.82" y="838.25" width="4.2" height="1.03" fill="#ffffff" />
<rect x="6.82" y="839.03" width="4.2" height="12.35" fill="#d35fbf" />
<rect x="6.82" y="851.13" width="4.2" height="1.42" fill="#7a4da2" />
<rect x="6.82" y="852.3" width="4.2" height="1.81" fill="#1f7866" />
<rect x="6.82" y="853.86" width="4.2" height="1.42" fill="#8dc640" />
<rect x="6.82" y="855.03" width="4.2" height="2.98" fill="#d35fbf" />
<rect x="6.82" y="857.77" width="4.2" height="1.81" fill="#1f7866" />
<rect x="6.82" y="859.33" width="4.2" height="3.37" fill="#8dc640" />
<rect x="6.82" y="862.45" width="4.2" height="2.2" fill="#8dc640" />
<rect x="6.82" y="808.2" width="4.2" height="56.2" fill="none" stroke="#9b9b9b" stroke-width="0.6"/>
<rect x="13.44" y="810.1" width="4.2" height="2.59" fill="#1f7866" />
<rect x="13.44" y="812.44" width="4.2" height="2.59" fill="#3a8fd3" />
<rect x="13.44" y="814.79" width="4.2" height="8.84" fill="#1f7866" />
<rect x="13.44" y="823.38" width="4.2" height="1.81" fill="#9cc8bb" />
<rect x="13.44" y="824.94" width="4.2" height="3.38" fill="#1f7866" />
<rect x="13.44" y="828.07" width="4.2" height="1.81" fill="#9cc8bb" />
<rect x="13.44" y="829.63" width="4.2" height="4.94" fill="#1f7866" />
<rect x="13.44" y="834.32" width="4.2" height="1.81" fill="#ffffff" />
<rect x="13.44" y="835.88" width="4.2" height="2.59" fill="#e0a324" />
<rect x="13.44" y="838.23" width="4.2" height="4.94" fill="#ffffff" />
<rect x="13.44" y="842.91" width="4.2" height="1.81" fill="#1f7866" />
<rect x="13.44" y="844.48" width="4.2" height="4.94" fill="#e0a324" />
<rect x="13.44" y="849.16" width="4.2" height="2.2" fill="#ffffff" />
<rect x="13.44" y="851.12" width="4.2" height="9.23" fill="#d35fbf" />
<rect x="13.44" y="860.1" width="4.2" height="1.03" fill="#ffffff" />
<rect x="13.44" y="860.88" width="4.2" height="3.77" fill="#e0a324" />
<rect x="13.44" y="810.1" width="4.2" height="54.3" fill="none" stroke="#9b9b9b" stroke-width="0.6"/>
<rect x="20.06" y="810.9" width="4.2" height="4.55" fill="#1f7866" />
<rect x="20.06" y="815.2" width="4.2" height="3.76" fill="#9cc8bb" />
<rect x="20.06" y="818.71" width="4.2" height="6.5" fill="#1f7866" />
<rect x="20.06" y="824.96" width="4.2" height="22.51" fill="#ffffff" />
<rect x="20.06" y="847.22" width="4.2" height="3.76" fill="#ee6a5d" />
<rect x="20.06" y="850.73" width="4.2" height="2.98" fill="#ffffff" />
<rect x="20.06" y="853.47" width="4.2" height="1.81" fill="#ee6a5d" />
<rect x="20.06" y="855.03" width="4.2" height="1.81" fill="#9cc8bb" />
<rect x="20.06" y="856.59" width="4.2" height="1.42" fill="#ffffff" />
<rect x="20.06" y="857.76" width="4.2" height="6.89" fill="#ee6a5d" />
<rect x="20.06" y="810.9" width="4.2" height="53.5" fill="none" stroke="#9b9b9b" stroke-width="0.6"/>
<rect x="26.68" y="811.7" width="4.2" height="1.43" fill="#e0a324" />
<rect x="26.68" y="812.88" width="4.2" height="1.43" fill="#3a8fd3" />
<rect x="26.68" y="814.06" width="4.2" height="4.18" fill="#8dc640" />
<rect x="26.68" y="817.99" width="4.2" height="2.22" fill="#7a4da2" />
<rect x="26.68" y="819.96" width="4.2" height="3.4" fill="#d35fbf" />
<rect x="26.68" y="823.11" width="4.2" height="1.43" fill="#3a8fd3" />
<rect x="26.68" y="824.29" width="4.2" height="6.94" fill="#d35fbf" />
<rect x="26.68" y="830.97" width="4.2" height="16.37" fill="#e0a324" />
<rect x="26.68" y="847.1" width="4.2" height="1.43" fill="#f2d58e" />
<rect x="26.68" y="848.28" width="4.2" height="8.12" fill="#e0a324" />
<rect x="26.68" y="856.14" width="4.2" height="1.82" fill="#efb8dd" />
<rect x="26.68" y="857.71" width="4.2" height="6.94" fill="#e0a324" />
<rect x="26.68" y="811.7" width="4.2" height="52.7" fill="none" stroke="#9b9b9b" stroke-width="0.6"/>
<rect x="33.3" y="813.2" width="4.2" height="1.81" fill="#8dc640" />
<rect x="33.3" y="814.76" width="4.2" height="3.38" fill="#ffffff" />
<rect x="33.3" y="817.89" width="4.2" height="1.81" fill="#3a8fd3" />
<rect x="33.3" y="819.45" width="4.2" height="8.85" fill="#7a4da2" />
<rect x="33.3" y="828.05" width="4.2" height="2.6" fill="#1f7866" />
<rect x="33.3" y="830.4" width="4.2" height="11.58" fill="#ffffff" />
<rect x="33.3" y="841.73" width="4.2" height="10.02" fill="#ee6a5d" />
<rect x="33.3" y="851.5" width="4.2" height="1.03" fill="#ffffff" />
<rect x="33.3" y="852.28" width="4.2" height="6.11" fill="#3a8fd3" />
<rect x="33.3" y="858.15" width="4.2" height="2.2" fill="#1f7866" />
<rect x="33.3" y="860.1" width="4.2" height="1.81" fill="#8dc640" />
<rect x="33.3" y="861.66" width="4.2" height="1.81" fill="#1f7866" />
<rect x="33.3" y="863.23" width="4.2" height="1.42" fill="#8dc640" />
<rect x="33.3" y="813.2" width="4.2" height="51.2" fill="none" stroke="#9b9b9b" stroke-width="0.6"/>
<rect x="39.92" y="813.9" width="4.2" height="2.35" fill="#8dc640" />
<rect x="39.92" y="816" width="4.2" height="3.36" fill="#7a4da2" />
<rect x="39.92" y="819.11" width="4.2" height="2.19" fill="#f2d58e" />
<rect x="39.92" y="821.05" width="4.2" height="1.42" fill="#8dc640" />
<rect x="39.92" y="822.21" width="4.2" height="1.8" fill="#d35fbf" />
<rect x="39.92" y="823.77" width="4.2" height="6.47" fill="#8dc640" />
<rect x="39.92" y="829.98" width="4.2" height="12.29" fill="#7a4da2" />
<rect x="39.92" y="842.02" width="4.2" height="9.18" fill="#ffffff" />
<rect x="39.92" y="850.96" width="4.2" height="1.03" fill="#e0a324" />
<rect x="39.92" y="851.74" width="4.2" height="2.19" fill="#ffffff" />
<rect x="39.92" y="853.68" width="4.2" height="2.58" fill="#e0a324" />
<rect x="39.92" y="856.01" width="4.2" height="2.19" fill="#f2d58e" />
<rect x="39.92" y="857.95" width="4.2" height="3.75" fill="#e0a324" />
<rect x="39.92" y="861.45" width="4.2" height="1.03" fill="#ffffff" />
<rect x="39.92" y="862.22" width="4.2" height="2.43" fill="#d35fbf" />
<rect x="39.92" y="813.9" width="4.2" height="50.5" fill="none" stroke="#9b9b9b" stroke-width="0.6"/>
<rect x="46.54" y="814.8" width="4.2" height="2.97" fill="#3a8fd3" />
<rect x="46.54" y="817.52" width="4.2" height="9.19" fill="#1f7866" />
<rect x="46.54" y="826.46" width="4.2" height="1.42" fill="#9cc8bb" />
<rect x="46.54" y="827.63" width="4.2" height="1.42" fill="#ffffff" />
<rect x="46.54" y="828.79" width="4.2" height="3.36" fill="#3a8fd3" />
<rect x="46.54" y="831.9" width="4.2" height="1.8" fill="#e0a324" />
<rect x="46.54" y="833.46" width="4.2" height="5.69" fill="#d35fbf" />
<rect x="46.54" y="838.9" width="4.2" height="1.8" fill="#ffffff" />
<rect x="46.54" y="840.46" width="4.2" height="4.14" fill="#1f7866" />
<rect x="46.54" y="844.34" width="4.2" height="2.58" fill="#ffffff" />
<rect x="46.54" y="846.67" width="4.2" height="2.97" fill="#1f7866" />
<rect x="46.54" y="849.4" width="4.2" height="4.53" fill="#ffffff" />
<rect x="46.54" y="853.67" width="4.2" height="2.97" fill="#1f7866" />
<rect x="46.54" y="856.39" width="4.2" height="1.42" fill="#ffffff" />
<rect x="46.54" y="857.56" width="4.2" height="2.19" fill="#1f7866" />
<rect x="46.54" y="859.5" width="4.2" height="1.8" fill="#ffffff" />
<rect x="46.54" y="861.06" width="4.2" height="3.59" fill="#8dc640" />
<rect x="46.54" y="814.8" width="4.2" height="49.6" fill="none" stroke="#9b9b9b" stroke-width="0.6"/>
<rect x="53.16" y="815.2" width="4.2" height="3.75" fill="#3a8fd3" />
<rect x="53.16" y="818.7" width="4.2" height="2.58" fill="#e0a324" />
<rect x="53.16" y="821.03" width="4.2" height="4.91" fill="#d35fbf" />
<rect x="53.16" y="825.69" width="4.2" height="8.8" fill="#e0a324" />
<rect x="53.16" y="834.24" width="4.2" height="2.97" fill="#ffffff" />
<rect x="53.16" y="836.96" width="4.2" height="3.36" fill="#e0a324" />
<rect x="53.16" y="840.07" width="4.2" height="2.19" fill="#ffffff" />
<rect x="53.16" y="842.02" width="4.2" height="6.47" fill="#e0a324" />
<rect x="53.16" y="848.23" width="4.2" height="1.03" fill="#ffffff" />
<rect x="53.16" y="849.01" width="4.2" height="7.25" fill="#e0a324" />
<rect x="53.16" y="856.01" width="4.2" height="3.75" fill="#ee6a5d" />
<rect x="53.16" y="859.5" width="4.2" height="1.03" fill="#efb8dd" />
<rect x="53.16" y="860.28" width="4.2" height="2.19" fill="#ee6a5d" />
<rect x="53.16" y="862.22" width="4.2" height="2.43" fill="#d35fbf" />
<rect x="53.16" y="815.2" width="4.2" height="49.2" fill="none" stroke="#9b9b9b" stroke-width="0.6"/>
<rect x="59.78" y="818.7" width="4.2" height="3.75" fill="#3a8fd3" />
<rect x="59.78" y="822.2" width="4.2" height="5.3" fill="#7a4da2" />
<rect x="59.78" y="827.25" width="4.2" height="1.8" fill="#f2d58e" />
<rect x="59.78" y="828.8" width="4.2" height="1.42" fill="#ee6a5d" />
<rect x="59.78" y="829.97" width="4.2" height="1.42" fill="#ffffff" />
<rect x="59.78" y="831.14" width="4.2" height="2.58" fill="#8dc640" />
<rect x="59.78" y="833.47" width="4.2" height="1.42" fill="#ee6a5d" />
<rect x="59.78" y="834.63" width="4.2" height="5.69" fill="#3a8fd3" />
<rect x="59.78" y="840.07" width="4.2" height="1.03" fill="#ffffff" />
<rect x="59.78" y="840.85" width="4.2" height="4.52" fill="#3a8fd3" />
<rect x="59.78" y="845.13" width="4.2" height="3.36" fill="#ffffff" />
<rect x="59.78" y="848.23" width="4.2" height="6.47" fill="#ee6a5d" />
<rect x="59.78" y="854.45" width="4.2" height="1.8" fill="#efb8dd" />
<rect x="59.78" y="856.01" width="4.2" height="4.14" fill="#ee6a5d" />
<rect x="59.78" y="859.89" width="4.2" height="4.76" fill="#1f7866" />
<rect x="59.78" y="818.7" width="4.2" height="45.7" fill="none" stroke="#9b9b9b" stroke-width="0.6"/>
<rect x="66.4" y="820.4" width="4.2" height="1.65" fill="#3a8fd3" />
<rect x="66.4" y="821.8" width="4.2" height="2.19" fill="#ee6a5d" />
<rect x="66.4" y="823.74" width="4.2" height="1.42" fill="#1f7866" />
<rect x="66.4" y="824.91" width="4.2" height="4.91" fill="#ee6a5d" />
<rect x="66.4" y="829.57" width="4.2" height="1.8" fill="#ffffff" />
<rect x="66.4" y="831.13" width="4.2" height="1.42" fill="#ee6a5d" />
<rect x="66.4" y="832.29" width="4.2" height="1.8" fill="#1f7866" />
<rect x="66.4" y="833.85" width="4.2" height="6.86" fill="#ffffff" />
<rect x="66.4" y="840.46" width="4.2" height="6.47" fill="#1f7866" />
<rect x="66.4" y="846.68" width="4.2" height="4.14" fill="#3a8fd3" />
<rect x="66.4" y="850.56" width="4.2" height="4.53" fill="#1f7866" />
<rect x="66.4" y="854.84" width="4.2" height="3.36" fill="#a9a53a" />
<rect x="66.4" y="857.95" width="4.2" height="2.58" fill="#7a4da2" />
<rect x="66.4" y="860.28" width="4.2" height="1.42" fill="#8dc640" />
<rect x="66.4" y="861.45" width="4.2" height="1.42" fill="#d35fbf" />
<rect x="66.4" y="862.61" width="4.2" height="2.04" fill="#e0a324" />
<rect x="66.4" y="820.4" width="4.2" height="44" fill="none" stroke="#9b9b9b" stroke-width="0.6"/>
<rect x="73.02" y="827.3" width="4.2" height="5.68" fill="#ee6a5d" />
<rect x="73.02" y="832.73" width="4.2" height="2.58" fill="#3a8fd3" />
<rect x="73.02" y="835.06" width="4.2" height="5.29" fill="#ffffff" />
<rect x="73.02" y="840.11" width="4.2" height="2.97" fill="#d35fbf" />
<rect x="73.02" y="842.82" width="4.2" height="1.41" fill="#ffffff" />
<rect x="73.02" y="843.99" width="4.2" height="4.52" fill="#e0a324" />
<rect x="73.02" y="848.26" width="4.2" height="2.58" fill="#7a4da2" />
<rect x="73.02" y="850.58" width="4.2" height="4.52" fill="#8dc640" />
<rect x="73.02" y="854.85" width="4.2" height="4.52" fill="#7a4da2" />
<rect x="73.02" y="859.12" width="4.2" height="3.35" fill="#e0a324" />
<rect x="73.02" y="862.23" width="4.2" height="2.42" fill="#ee6a5d" />
<rect x="73.02" y="827.3" width="4.2" height="37.1" fill="none" stroke="#9b9b9b" stroke-width="0.6"/>
<rect x="100" y="817" width="2.8" height="1.96" fill="#d35fbf" />
<rect x="100" y="818.71" width="2.8" height="1.42" fill="#ffffff" />
<rect x="100" y="819.88" width="2.8" height="1.42" fill="#d35fbf" />
<rect x="100" y="821.04" width="2.8" height="1.42" fill="#ffffff" />
<rect x="100" y="822.21" width="2.8" height="4.14" fill="#d35fbf" />
<rect x="100" y="826.1" width="2.8" height="4.14" fill="#ffffff" />
<rect x="100" y="829.99" width="2.8" height="26.3" fill="#d35fbf" />
<rect x="100" y="856.04" width="2.8" height="1.03" fill="#ffffff" />
<rect x="100" y="856.81" width="2.8" height="7.64" fill="#d35fbf" />
<rect x="100" y="817" width="2.8" height="47.2" fill="none" stroke="#9b9b9b" stroke-width="0.6"/>
<rect x="104.32" y="825.9" width="2.8" height="4.37" fill="#ee6a5d" />
<rect x="104.32" y="830.02" width="2.8" height="5.3" fill="#ffffff" />
<rect x="104.32" y="835.07" width="2.8" height="2.58" fill="#ee6a5d" />
<rect x="104.32" y="837.4" width="2.8" height="5.3" fill="#ffffff" />
<rect x="104.32" y="842.45" width="2.8" height="1.8" fill="#ee6a5d" />
<rect x="104.32" y="844" width="2.8" height="1.42" fill="#ffffff" />
<rect x="104.32" y="845.17" width="2.8" height="19.28" fill="#ee6a5d" />
<rect x="104.32" y="825.9" width="2.8" height="38.3" fill="none" stroke="#9b9b9b" stroke-width="0.6"/>
<rect x="108.64" y="824.8" width="2.8" height="1.96" fill="#1f7866" />
<rect x="108.64" y="826.51" width="2.8" height="1.8" fill="#ffffff" />
<rect x="108.64" y="828.06" width="2.8" height="1.8" fill="#1f7866" />
<rect x="108.64" y="829.62" width="2.8" height="1.03" fill="#ffffff" />
<rect x="108.64" y="830.4" width="2.8" height="2.58" fill="#1f7866" />
<rect x="108.64" y="832.73" width="2.8" height="8.41" fill="#ffffff" />
<rect x="108.64" y="840.89" width="2.8" height="1.8" fill="#1f7866" />
<rect x="108.64" y="842.44" width="2.8" height="1.42" fill="#ffffff" />
<rect x="108.64" y="843.61" width="2.8" height="4.14" fill="#1f7866" />
<rect x="108.64" y="847.49" width="2.8" height="1.42" fill="#ffffff" />
<rect x="108.64" y="848.66" width="2.8" height="15.79" fill="#1f7866" />
<rect x="108.64" y="824.8" width="2.8" height="39.4" fill="none" stroke="#9b9b9b" stroke-width="0.6"/>
<rect x="112.96" y="815.2" width="2.8" height="1.42" fill="#1f7866" />
<rect x="112.96" y="816.37" width="2.8" height="4.53" fill="#9cc8bb" />
<rect x="112.96" y="820.64" width="2.8" height="8.42" fill="#1f7866" />
<rect x="112.96" y="828.81" width="2.8" height="1.81" fill="#7a4da2" />
<rect x="112.96" y="830.37" width="2.8" height="1.81" fill="#ffffff" />
<rect x="112.96" y="831.92" width="2.8" height="2.97" fill="#7a4da2" />
<rect x="112.96" y="834.64" width="2.8" height="10.36" fill="#ffffff" />
<rect x="112.96" y="844.76" width="2.8" height="19.69" fill="#7a4da2" />
<rect x="112.96" y="815.2" width="2.8" height="49" fill="none" stroke="#9b9b9b" stroke-width="0.6"/>
<rect x="117.28" y="813.2" width="2.8" height="6.87" fill="#3a8fd3" />
<rect x="117.28" y="819.82" width="2.8" height="1.42" fill="#ffffff" />
<rect x="117.28" y="820.99" width="2.8" height="4.92" fill="#3a8fd3" />
<rect x="117.28" y="825.66" width="2.8" height="2.59" fill="#ffffff" />
<rect x="117.28" y="827.99" width="2.8" height="1.81" fill="#3a8fd3" />
<rect x="117.28" y="829.55" width="2.8" height="1.42" fill="#ffffff" />
<rect x="117.28" y="830.72" width="2.8" height="6.09" fill="#3a8fd3" />
<rect x="117.28" y="836.56" width="2.8" height="3.36" fill="#ffffff" />
<rect x="117.28" y="839.67" width="2.8" height="24.78" fill="#3a8fd3" />
<rect x="117.28" y="813.2" width="2.8" height="51" fill="none" stroke="#9b9b9b" stroke-width="0.6"/>
<rect x="121.6" y="820.4" width="2.8" height="2.43" fill="#ffffff" />
<rect x="121.6" y="822.58" width="2.8" height="8.81" fill="#e0a324" />
<rect x="121.6" y="831.14" width="2.8" height="1.03" fill="#ffffff" />
<rect x="121.6" y="831.91" width="2.8" height="2.19" fill="#e0a324" />
<rect x="121.6" y="833.86" width="2.8" height="2.19" fill="#ffffff" />
<rect x="121.6" y="835.8" width="2.8" height="4.53" fill="#e0a324" />
<rect x="121.6" y="840.08" width="2.8" height="1.81" fill="#ffffff" />
<rect x="121.6" y="841.64" width="2.8" height="22.81" fill="#e0a324" />
<rect x="121.6" y="820.4" width="2.8" height="43.8" fill="none" stroke="#9b9b9b" stroke-width="0.6"/>
<rect x="125.92" y="821" width="2.8" height="2.2" fill="#1f7866" />
<rect x="125.92" y="822.95" width="2.8" height="2.59" fill="#ffffff" />
<rect x="125.92" y="825.28" width="2.8" height="9.59" fill="#1f7866" />
<rect x="125.92" y="834.62" width="2.8" height="4.92" fill="#ffffff" />
<rect x="125.92" y="839.29" width="2.8" height="1.81" fill="#3a8fd3" />
<rect x="125.92" y="840.85" width="2.8" height="7.64" fill="#ffffff" />
<rect x="125.92" y="848.24" width="2.8" height="16.21" fill="#3a8fd3" />
<rect x="125.92" y="821" width="2.8" height="43.2" fill="none" stroke="#9b9b9b" stroke-width="0.6"/>
<rect x="130.24" y="818.3" width="2.8" height="20.87" fill="#e0a324" />
<rect x="130.24" y="838.92" width="2.8" height="2.58" fill="#ffffff" />
<rect x="130.24" y="841.25" width="2.8" height="11.92" fill="#e0a324" />
<rect x="130.24" y="852.92" width="2.8" height="2.19" fill="#ffffff" />
<rect x="130.24" y="854.86" width="2.8" height="9.59" fill="#e0a324" />
<rect x="130.24" y="818.3" width="2.8" height="45.9" fill="none" stroke="#9b9b9b" stroke-width="0.6"/>
<rect x="134.56" y="817.3" width="2.8" height="3.59" fill="#7a4da2" />
<rect x="134.56" y="820.64" width="2.8" height="3.36" fill="#ffffff" />
<rect x="134.56" y="823.76" width="2.8" height="1.42" fill="#7a4da2" />
<rect x="134.56" y="824.92" width="2.8" height="1.03" fill="#ffffff" />
<rect x="134.56" y="825.7" width="2.8" height="1.81" fill="#7a4da2" />
<rect x="134.56" y="827.26" width="2.8" height="2.58" fill="#ffffff" />
<rect x="134.56" y="829.59" width="2.8" height="1.81" fill="#7a4da2" />
<rect x="134.56" y="831.14" width="2.8" height="10.36" fill="#ffffff" />
<rect x="134.56" y="841.26" width="2.8" height="23.19" fill="#7a4da2" />
<rect x="134.56" y="817.3" width="2.8" height="46.9" fill="none" stroke="#9b9b9b" stroke-width="0.6"/>
<rect x="138.88" y="827.2" width="2.8" height="4.09" fill="#8dc640" />
<rect x="138.88" y="831.04" width="2.8" height="1.45" fill="#ffffff" />
<rect x="138.88" y="832.23" width="2.8" height="2.25" fill="#8dc640" />
<rect x="138.88" y="834.23" width="2.8" height="2.65" fill="#ffffff" />
<rect x="138.88" y="836.63" width="2.8" height="8.64" fill="#8dc640" />
<rect x="138.88" y="845.02" width="2.8" height="1.05" fill="#ffffff" />
<rect x="138.88" y="845.82" width="2.8" height="9.04" fill="#8dc640" />
<rect x="138.88" y="854.61" width="2.8" height="1.05" fill="#ffffff" />
<rect x="138.88" y="855.41" width="2.8" height="9.04" fill="#8dc640" />
<rect x="138.88" y="827.2" width="2.8" height="37" fill="none" stroke="#9b9b9b" stroke-width="0.6"/>
<rect x="143.2" y="823.8" width="2.8" height="3.11" fill="#7a4da2" />
<rect x="143.2" y="826.66" width="2.8" height="1.47" fill="#ffffff" />
<rect x="143.2" y="827.88" width="2.8" height="2.7" fill="#7a4da2" />
<rect x="143.2" y="830.33" width="2.8" height="1.07" fill="#ffffff" />
<rect x="143.2" y="831.15" width="2.8" height="1.47" fill="#7a4da2" />
<rect x="143.2" y="832.37" width="2.8" height="2.7" fill="#ffffff" />
<rect x="143.2" y="834.82" width="2.8" height="2.29" fill="#7a4da2" />
<rect x="143.2" y="836.86" width="2.8" height="4.74" fill="#ffffff" />
<rect x="143.2" y="841.35" width="2.8" height="23.1" fill="#7a4da2" />
<rect x="143.2" y="823.8" width="2.8" height="40.4" fill="none" stroke="#9b9b9b" stroke-width="0.6"/>
<rect x="147.52" y="818" width="2.8" height="6.12" fill="#ffffff" />
<rect x="147.52" y="823.87" width="2.8" height="1.47" fill="#8dc640" />
<rect x="147.52" y="825.09" width="2.8" height="1.06" fill="#ffffff" />
<rect x="147.52" y="825.9" width="2.8" height="3.1" fill="#8dc640" />
<rect x="147.52" y="828.76" width="2.8" height="4.73" fill="#ffffff" />
<rect x="147.52" y="833.24" width="2.8" height="4.73" fill="#8dc640" />
<rect x="147.52" y="837.72" width="2.8" height="5.55" fill="#ffffff" />
<rect x="147.52" y="843.01" width="2.8" height="11.25" fill="#8dc640" />
<rect x="147.52" y="854.01" width="2.8" height="6.36" fill="#ffffff" />
<rect x="147.52" y="860.13" width="2.8" height="4.32" fill="#8dc640" />
<rect x="147.52" y="818" width="2.8" height="46.2" fill="none" stroke="#9b9b9b" stroke-width="0.6"/>
<rect x="151.84" y="814.2" width="2.8" height="2.13" fill="#ffffff" />
<rect x="151.84" y="816.08" width="2.8" height="5.55" fill="#e0a324" />
<rect x="151.84" y="821.38" width="2.8" height="1.47" fill="#ffffff" />
<rect x="151.84" y="822.6" width="2.8" height="3.92" fill="#e0a324" />
<rect x="151.84" y="826.27" width="2.8" height="3.92" fill="#ffffff" />
<rect x="151.84" y="829.94" width="2.8" height="3.1" fill="#e0a324" />
<rect x="151.84" y="832.8" width="2.8" height="3.51" fill="#ffffff" />
<rect x="151.84" y="836.06" width="2.8" height="1.88" fill="#e0a324" />
<rect x="151.84" y="837.69" width="2.8" height="3.51" fill="#ffffff" />
<rect x="151.84" y="840.95" width="2.8" height="3.1" fill="#e0a324" />
<rect x="151.84" y="843.81" width="2.8" height="3.51" fill="#ffffff" />
<rect x="151.84" y="847.07" width="2.8" height="7.59" fill="#e0a324" />
<rect x="151.84" y="854.41" width="2.8" height="1.07" fill="#ffffff" />
<rect x="151.84" y="855.23" width="2.8" height="9.22" fill="#e0a324" />
<rect x="151.84" y="814.2" width="2.8" height="50" fill="none" stroke="#9b9b9b" stroke-width="0.6"/>
<rect x="156.16" y="802.3" width="2.8" height="14.5" fill="#d35fbf" />
<rect x="156.16" y="816.55" width="2.8" height="1.47" fill="#ffffff" />
<rect x="156.16" y="817.77" width="2.8" height="11.25" fill="#d35fbf" />
<rect x="156.16" y="828.77" width="2.8" height="2.29" fill="#ffffff" />
<rect x="156.16" y="830.81" width="2.8" height="1.47" fill="#d35fbf" />
<rect x="156.16" y="832.03" width="2.8" height="10.43" fill="#ffffff" />
<rect x="156.16" y="842.21" width="2.8" height="8.39" fill="#3a8fd3" />
<rect x="156.16" y="850.35" width="2.8" height="1.06" fill="#ffffff" />
<rect x="156.16" y="851.17" width="2.8" height="5.14" fill="#3a8fd3" />
<rect x="156.16" y="856.06" width="2.8" height="1.06" fill="#ffffff" />
<rect x="156.16" y="856.87" width="2.8" height="7.58" fill="#3a8fd3" />
<rect x="156.16" y="802.3" width="2.8" height="61.9" fill="none" stroke="#9b9b9b" stroke-width="0.6"/>
<rect x="160.48" y="823" width="2.8" height="21.05" fill="#ee6a5d" />
<rect x="160.48" y="843.8" width="2.8" height="20.65" fill="#ffffff" />
<rect x="160.48" y="823" width="2.8" height="41.2" fill="none" stroke="#9b9b9b" stroke-width="0.6"/>
<rect x="164.8" y="819.1" width="2.8" height="2.13" fill="#ee6a5d" />
<rect x="164.8" y="820.98" width="2.8" height="1.47" fill="#ffffff" />
<rect x="164.8" y="822.2" width="2.8" height="7.59" fill="#ee6a5d" />
<rect x="164.8" y="829.54" width="2.8" height="1.88" fill="#ffffff" />
<rect x="164.8" y="831.17" width="2.8" height="9.22" fill="#ee6a5d" />
<rect x="164.8" y="840.14" width="2.8" height="5.55" fill="#ffffff" />
<rect x="164.8" y="845.44" width="2.8" height="1.88" fill="#ee6a5d" />
<rect x="164.8" y="847.07" width="2.8" height="3.92" fill="#ffffff" />
<rect x="164.8" y="850.74" width="2.8" height="3.51" fill="#ee6a5d" />
<rect x="164.8" y="854.01" width="2.8" height="5.14" fill="#ffffff" />
<rect x="164.8" y="858.9" width="2.8" height="2.29" fill="#ee6a5d" />
<rect x="164.8" y="860.94" width="2.8" height="2.29" fill="#ffffff" />
<rect x="164.8" y="862.98" width="2.8" height="1.47" fill="#ee6a5d" />
<rect x="164.8" y="819.1" width="2.8" height="45.1" fill="none" stroke="#9b9b9b" stroke-width="0.6"/>
<rect x="169.12" y="829.3" width="2.8" height="9.06" fill="#ffffff" />
<rect x="169.12" y="838.11" width="2.8" height="26.34" fill="#d35fbf" />
<rect x="169.12" y="829.3" width="2.8" height="34.9" fill="none" stroke="#9b9b9b" stroke-width="0.6"/>
<rect x="173.44" y="804.2" width="2.8" height="6.93" fill="#ffffff" />
<rect x="173.44" y="810.88" width="2.8" height="1.88" fill="#1f7866" />
<rect x="173.44" y="812.5" width="2.8" height="1.47" fill="#9cc8bb" />
<rect x="173.44" y="813.73" width="2.8" height="7.17" fill="#ffffff" />
<rect x="173.44" y="820.65" width="2.8" height="2.29" fill="#1f7866" />
<rect x="173.44" y="822.68" width="2.8" height="1.47" fill="#9cc8bb" />
<rect x="173.44" y="823.9" width="2.8" height="12.46" fill="#ffffff" />
<rect x="173.44" y="836.11" width="2.8" height="23.86" fill="#1f7866" />
<rect x="173.44" y="859.72" width="2.8" height="1.88" fill="#ffffff" />
<rect x="173.44" y="861.35" width="2.8" height="3.1" fill="#1f7866" />
<rect x="173.44" y="804.2" width="2.8" height="60" fill="none" stroke="#9b9b9b" stroke-width="0.6"/>
<rect x="177.76" y="815.3" width="2.8" height="2.29" fill="#8dc640" />
<rect x="177.76" y="817.34" width="2.8" height="3.1" fill="#ffffff" />
<rect x="177.76" y="820.19" width="2.8" height="8.81" fill="#8dc640" />
<rect x="177.76" y="828.75" width="2.8" height="4.33" fill="#ffffff" />
<rect x="177.76" y="832.82" width="2.8" height="6.77" fill="#8dc640" />
<rect x="177.76" y="839.34" width="2.8" height="2.7" fill="#ffffff" />
<rect x="177.76" y="841.79" width="2.8" height="22.66" fill="#8dc640" />
<rect x="177.76" y="815.3" width="2.8" height="48.9" fill="none" stroke="#9b9b9b" stroke-width="0.6"/>
<rect x="203.9" y="828.4" width="4.5" height="2.76" fill="#ee6a5d" />
<rect x="203.9" y="830.91" width="4.5" height="4.44" fill="#e0a324" />
<rect x="203.9" y="835.1" width="4.5" height="1.92" fill="#8dc640" />
<rect x="203.9" y="836.77" width="4.5" height="1.51" fill="#ffffff" />
<rect x="203.9" y="838.03" width="4.5" height="2.34" fill="#8dc640" />
<rect x="203.9" y="840.12" width="4.5" height="1.51" fill="#ee6a5d" />
<rect x="203.9" y="841.38" width="4.5" height="11.13" fill="#e0a324" />
<rect x="203.9" y="852.26" width="4.5" height="1.09" fill="#f2d58e" />
<rect x="203.9" y="853.1" width="4.5" height="1.92" fill="#e0a324" />
<rect x="203.9" y="854.77" width="4.5" height="2.34" fill="#ffffff" />
<rect x="203.9" y="856.87" width="4.5" height="1.09" fill="#8dc640" />
<rect x="203.9" y="857.7" width="4.5" height="1.92" fill="#3a8fd3" />
<rect x="203.9" y="859.38" width="4.5" height="1.92" fill="#9cc8bb" />
<rect x="203.9" y="861.05" width="4.5" height="3.6" fill="#3a8fd3" />
<rect x="203.9" y="828.4" width="4.5" height="36" fill="none" stroke="#9b9b9b" stroke-width="0.6"/>
<rect x="211.08" y="817.2" width="4.5" height="3.17" fill="#e0a324" />
<rect x="211.08" y="820.12" width="4.5" height="5.68" fill="#d35fbf" />
<rect x="211.08" y="825.55" width="4.5" height="1.92" fill="#efb8dd" />
<rect x="211.08" y="827.22" width="4.5" height="1.92" fill="#d35fbf" />
<rect x="211.08" y="828.9" width="4.5" height="3.17" fill="#e0a324" />
<rect x="211.08" y="831.82" width="4.5" height="6.52" fill="#3a8fd3" />
<rect x="211.08" y="838.08" width="4.5" height="1.09" fill="#ffffff" />
<rect x="211.08" y="838.92" width="4.5" height="1.5" fill="#3a8fd3" />
<rect x="211.08" y="840.17" width="4.5" height="1.09" fill="#ffffff" />
<rect x="211.08" y="841.01" width="4.5" height="1.09" fill="#3a8fd3" />
<rect x="211.08" y="841.84" width="4.5" height="1.5" fill="#ffffff" />
<rect x="211.08" y="843.1" width="4.5" height="9.86" fill="#3a8fd3" />
<rect x="211.08" y="852.7" width="4.5" height="1.09" fill="#d35fbf" />
<rect x="211.08" y="853.54" width="4.5" height="1.92" fill="#efb8dd" />
<rect x="211.08" y="855.21" width="4.5" height="1.92" fill="#ffffff" />
<rect x="211.08" y="856.88" width="4.5" height="7.77" fill="#d35fbf" />
<rect x="211.08" y="817.2" width="4.5" height="47.2" fill="none" stroke="#9b9b9b" stroke-width="0.6"/>
<rect x="218.26" y="797.9" width="4.5" height="1.09" fill="#7a4da2" />
<rect x="218.26" y="798.74" width="4.5" height="2.34" fill="#a98bcb" />
<rect x="218.26" y="800.83" width="4.5" height="5.27" fill="#7a4da2" />
<rect x="218.26" y="805.85" width="4.5" height="1.92" fill="#a98bcb" />
<rect x="218.26" y="807.52" width="4.5" height="1.09" fill="#ffffff" />
<rect x="218.26" y="808.36" width="4.5" height="3.6" fill="#7a4da2" />
<rect x="218.26" y="811.7" width="4.5" height="1.5" fill="#ffffff" />
<rect x="218.26" y="812.96" width="4.5" height="1.5" fill="#7a4da2" />
<rect x="218.26" y="814.21" width="4.5" height="1.09" fill="#ffffff" />
<rect x="218.26" y="815.05" width="4.5" height="5.27" fill="#7a4da2" />
<rect x="218.26" y="820.07" width="4.5" height="1.5" fill="#9cc8bb" />
<rect x="218.26" y="821.32" width="4.5" height="1.5" fill="#ffffff" />
<rect x="218.26" y="822.58" width="4.5" height="6.11" fill="#7a4da2" />
<rect x="218.26" y="828.43" width="4.5" height="5.27" fill="#a98bcb" />
<rect x="218.26" y="833.45" width="4.5" height="1.92" fill="#ffffff" />
<rect x="218.26" y="835.12" width="4.5" height="1.92" fill="#7a4da2" />
<rect x="218.26" y="836.8" width="4.5" height="3.6" fill="#ffffff" />
<rect x="218.26" y="840.14" width="4.5" height="5.27" fill="#7a4da2" />
<rect x="218.26" y="845.16" width="4.5" height="1.92" fill="#ffffff" />
<rect x="218.26" y="846.83" width="4.5" height="9.45" fill="#7a4da2" />
<rect x="218.26" y="856.04" width="4.5" height="1.5" fill="#ffffff" />
<rect x="218.26" y="857.29" width="4.5" height="3.18" fill="#7a4da2" />
<rect x="218.26" y="860.22" width="4.5" height="1.92" fill="#ffffff" />
<rect x="218.26" y="861.89" width="4.5" height="2.76" fill="#7a4da2" />
<rect x="218.26" y="797.9" width="4.5" height="66.5" fill="none" stroke="#9b9b9b" stroke-width="0.6"/>
<rect x="225.44" y="831.8" width="4.5" height="9.03" fill="#ee6a5d" />
<rect x="225.44" y="840.58" width="4.5" height="1.5" fill="#ffffff" />
<rect x="225.44" y="841.83" width="4.5" height="1.5" fill="#ee6a5d" />
<rect x="225.44" y="843.08" width="4.5" height="1.09" fill="#ffffff" />
<rect x="225.44" y="843.92" width="4.5" height="1.5" fill="#ee6a5d" />
<rect x="225.44" y="845.17" width="4.5" height="1.5" fill="#ffffff" />
<rect x="225.44" y="846.43" width="4.5" height="1.5" fill="#8dc640" />
<rect x="225.44" y="847.68" width="4.5" height="2.34" fill="#ffffff" />
<rect x="225.44" y="849.77" width="4.5" height="2.34" fill="#8dc640" />
<rect x="225.44" y="851.86" width="4.5" height="2.34" fill="#ffffff" />
<rect x="225.44" y="853.95" width="4.5" height="4.85" fill="#8dc640" />
<rect x="225.44" y="858.55" width="4.5" height="1.09" fill="#ffffff" />
<rect x="225.44" y="859.38" width="4.5" height="4.01" fill="#8dc640" />
<rect x="225.44" y="863.15" width="4.5" height="1.5" fill="#efb8dd" />
<rect x="225.44" y="831.8" width="4.5" height="32.6" fill="none" stroke="#9b9b9b" stroke-width="0.6"/>
<rect x="232.62" y="803.8" width="4.5" height="1.49" fill="#d35fbf" />
<rect x="232.62" y="805.04" width="4.5" height="2.31" fill="#ffffff" />
<rect x="232.62" y="807.1" width="4.5" height="1.9" fill="#8dc640" />
<rect x="232.62" y="808.75" width="4.5" height="12.62" fill="#ffffff" />
<rect x="232.62" y="821.11" width="4.5" height="6.43" fill="#8dc640" />
<rect x="232.62" y="827.3" width="4.5" height="8.49" fill="#ffffff" />
<rect x="232.62" y="835.54" width="4.5" height="4.37" fill="#8dc640" />
<rect x="232.62" y="839.67" width="4.5" height="4.37" fill="#ffffff" />
<rect x="232.62" y="843.79" width="4.5" height="1.49" fill="#8dc640" />
<rect x="232.62" y="845.02" width="4.5" height="1.49" fill="#ffffff" />
<rect x="232.62" y="846.26" width="4.5" height="11.79" fill="#ee6a5d" />
<rect x="232.62" y="857.8" width="4.5" height="1.07" fill="#ffffff" />
<rect x="232.62" y="858.63" width="4.5" height="6.02" fill="#ee6a5d" />
<rect x="232.62" y="803.8" width="4.5" height="60.6" fill="none" stroke="#9b9b9b" stroke-width="0.6"/>
<rect x="239.8" y="818.8" width="4.5" height="1.51" fill="#1f7866" />
<rect x="239.8" y="820.06" width="4.5" height="1.51" fill="#9cc8bb" />
<rect x="239.8" y="821.31" width="4.5" height="2.34" fill="#1f7866" />
<rect x="239.8" y="823.4" width="4.5" height="1.92" fill="#7a4da2" />
<rect x="239.8" y="825.08" width="4.5" height="1.51" fill="#1f7866" />
<rect x="239.8" y="826.33" width="4.5" height="4.02" fill="#8dc640" />
<rect x="239.8" y="830.1" width="4.5" height="1.09" fill="#7a4da2" />
<rect x="239.8" y="830.93" width="4.5" height="1.51" fill="#1f7866" />
<rect x="239.8" y="832.19" width="4.5" height="1.09" fill="#d35fbf" />
<rect x="239.8" y="833.02" width="4.5" height="1.51" fill="#7a4da2" />
<rect x="239.8" y="834.28" width="4.5" height="1.92" fill="#a98bcb" />
<rect x="239.8" y="835.95" width="4.5" height="6.11" fill="#1f7866" />
<rect x="239.8" y="841.81" width="4.5" height="2.76" fill="#8dc640" />
<rect x="239.8" y="844.32" width="4.5" height="4.43" fill="#1f7866" />
<rect x="239.8" y="848.5" width="4.5" height="6.94" fill="#8dc640" />
<rect x="239.8" y="855.2" width="4.5" height="2.34" fill="#1f7866" />
<rect x="239.8" y="857.29" width="4.5" height="1.51" fill="#8dc640" />
<rect x="239.8" y="858.54" width="4.5" height="6.11" fill="#1f7866" />
<rect x="239.8" y="818.8" width="4.5" height="45.6" fill="none" stroke="#9b9b9b" stroke-width="0.6"/>
<rect x="246.98" y="820.9" width="4.5" height="6.52" fill="#e0a324" />
<rect x="246.98" y="827.17" width="4.5" height="6.11" fill="#d35fbf" />
<rect x="246.98" y="833.03" width="4.5" height="1.5" fill="#ffffff" />
<rect x="246.98" y="834.28" width="4.5" height="1.09" fill="#d35fbf" />
<rect x="246.98" y="835.12" width="4.5" height="4.01" fill="#1f7866" />
<rect x="246.98" y="838.89" width="4.5" height="1.09" fill="#ffffff" />
<rect x="246.98" y="839.72" width="4.5" height="2.34" fill="#1f7866" />
<rect x="246.98" y="841.81" width="4.5" height="1.92" fill="#ffffff" />
<rect x="246.98" y="843.49" width="4.5" height="6.11" fill="#1f7866" />
<rect x="246.98" y="849.34" width="4.5" height="7.36" fill="#ffffff" />
<rect x="246.98" y="856.45" width="4.5" height="1.92" fill="#8dc640" />
<rect x="246.98" y="858.13" width="4.5" height="1.92" fill="#8dc640" />
<rect x="246.98" y="859.8" width="4.5" height="4.85" fill="#ffffff" />
<rect x="246.98" y="820.9" width="4.5" height="43.5" fill="none" stroke="#9b9b9b" stroke-width="0.6"/>
<rect x="254.16" y="806.7" width="4.5" height="1.92" fill="#1f7866" />
<rect x="254.16" y="808.37" width="4.5" height="1.92" fill="#ffffff" />
<rect x="254.16" y="810.04" width="4.5" height="2.34" fill="#1f7866" />
<rect x="254.16" y="812.14" width="4.5" height="1.92" fill="#d35fbf" />
<rect x="254.16" y="813.81" width="4.5" height="4.85" fill="#3a8fd3" />
<rect x="254.16" y="818.41" width="4.5" height="1.92" fill="#9cc8bb" />
<rect x="254.16" y="820.08" width="4.5" height="16.14" fill="#3a8fd3" />
<rect x="254.16" y="835.97" width="4.5" height="3.18" fill="#d35fbf" />
<rect x="254.16" y="838.89" width="4.5" height="1.92" fill="#ffffff" />
<rect x="254.16" y="840.57" width="4.5" height="1.5" fill="#1f7866" />
<rect x="254.16" y="841.82" width="4.5" height="4.43" fill="#ffffff" />
<rect x="254.16" y="846" width="4.5" height="4.43" fill="#1f7866" />
<rect x="254.16" y="850.18" width="4.5" height="5.27" fill="#3a8fd3" />
<rect x="254.16" y="855.2" width="4.5" height="1.92" fill="#9cc8bb" />
<rect x="254.16" y="856.87" width="4.5" height="1.92" fill="#efb8dd" />
<rect x="254.16" y="858.55" width="4.5" height="6.1" fill="#3a8fd3" />
<rect x="254.16" y="806.7" width="4.5" height="57.7" fill="none" stroke="#9b9b9b" stroke-width="0.6"/>
<rect x="261.34" y="833" width="4.5" height="1.92" fill="#8dc640" />
<rect x="261.34" y="834.67" width="4.5" height="4.86" fill="#1f7866" />
<rect x="261.34" y="839.28" width="4.5" height="5.27" fill="#d35fbf" />
<rect x="261.34" y="844.3" width="4.5" height="4.02" fill="#1f7866" />
<rect x="261.34" y="848.07" width="4.5" height="1.09" fill="#ffffff" />
<rect x="261.34" y="848.91" width="4.5" height="4.86" fill="#1f7866" />
<rect x="261.34" y="853.51" width="4.5" height="1.51" fill="#ffffff" />
<rect x="261.34" y="854.77" width="4.5" height="1.09" fill="#1f7866" />
<rect x="261.34" y="855.61" width="4.5" height="1.51" fill="#ffffff" />
<rect x="261.34" y="856.86" width="4.5" height="5.27" fill="#1f7866" />
<rect x="261.34" y="861.89" width="4.5" height="1.51" fill="#9cc8bb" />
<rect x="261.34" y="863.14" width="4.5" height="1.51" fill="#1f7866" />
<rect x="261.34" y="833" width="4.5" height="31.4" fill="none" stroke="#9b9b9b" stroke-width="0.6"/>
<rect x="268.52" y="834.1" width="4.5" height="3.63" fill="#7a4da2" />
<rect x="268.52" y="837.48" width="4.5" height="1.86" fill="#ffffff" />
<rect x="268.52" y="839.08" width="4.5" height="1.86" fill="#1f7866" />
<rect x="268.52" y="840.69" width="4.5" height="2.66" fill="#d35fbf" />
<rect x="268.52" y="843.1" width="4.5" height="3.46" fill="#e0a324" />
<rect x="268.52" y="846.32" width="4.5" height="1.46" fill="#f2d58e" />
<rect x="268.52" y="847.52" width="4.5" height="4.67" fill="#d35fbf" />
<rect x="268.52" y="851.94" width="4.5" height="5.07" fill="#e0a324" />
<rect x="268.52" y="856.76" width="4.5" height="1.46" fill="#a9a53a" />
<rect x="268.52" y="857.97" width="4.5" height="3.46" fill="#e0a324" />
<rect x="268.52" y="861.19" width="4.5" height="1.46" fill="#a9a53a" />
<rect x="268.52" y="862.39" width="4.5" height="2.26" fill="#e0a324" />
<rect x="268.52" y="834.1" width="4.5" height="30.3" fill="none" stroke="#9b9b9b" stroke-width="0.6"/>
<rect x="275.7" y="828.6" width="4.5" height="3.43" fill="#3a8fd3" />
<rect x="275.7" y="831.78" width="4.5" height="3.6" fill="#e0a324" />
<rect x="275.7" y="835.12" width="4.5" height="3.6" fill="#d35fbf" />
<rect x="275.7" y="838.47" width="4.5" height="1.09" fill="#ffffff" />
<rect x="275.7" y="839.31" width="4.5" height="1.5" fill="#d35fbf" />
<rect x="275.7" y="840.56" width="4.5" height="1.09" fill="#ffffff" />
<rect x="275.7" y="841.4" width="4.5" height="8.2" fill="#e0a324" />
<rect x="275.7" y="849.34" width="4.5" height="2.76" fill="#8dc640" />
<rect x="275.7" y="851.85" width="4.5" height="2.76" fill="#ffffff" />
<rect x="275.7" y="854.36" width="4.5" height="4.01" fill="#8dc640" />
<rect x="275.7" y="858.13" width="4.5" height="1.5" fill="#ffffff" />
<rect x="275.7" y="859.38" width="4.5" height="1.92" fill="#ee6a5d" />
<rect x="275.7" y="861.05" width="4.5" height="3.6" fill="#ee6a5d" />
<rect x="275.7" y="828.6" width="4.5" height="35.8" fill="none" stroke="#9b9b9b" stroke-width="0.6"/>
<rect x="305.6" y="804.1" width="5.7" height="1.18" fill="#e0a324" />
<rect x="305.6" y="805.03" width="5.7" height="1.42" fill="#8dc640" />
<rect x="305.6" y="806.2" width="5.7" height="1.03" fill="#ffffff" />
<rect x="305.6" y="806.98" width="5.7" height="1.8" fill="#d35fbf" />
<rect x="305.6" y="808.53" width="5.7" height="1.03" fill="#1f7866" />
<rect x="305.6" y="809.31" width="5.7" height="1.03" fill="#8dc640" />
<rect x="305.6" y="810.09" width="5.7" height="1.03" fill="#1f7866" />
<rect x="305.6" y="810.86" width="5.7" height="1.26" fill="#3a8fd3" />
<rect x="305.6" y="811.87" width="5.7" height="1.57" fill="#ee6a5d" />
<rect x="305.6" y="813.19" width="5.7" height="1.03" fill="#1f7866" />
<rect x="305.6" y="813.97" width="5.7" height="1.03" fill="#9cc8bb" />
<rect x="305.6" y="814.75" width="5.7" height="1.26" fill="#d35fbf" />
<rect x="305.6" y="815.76" width="5.7" height="1.18" fill="#ee6a5d" />
<rect x="305.6" y="816.69" width="5.7" height="1.96" fill="#e0a324" />
<rect x="305.6" y="818.4" width="5.7" height="5.92" fill="#3a8fd3" />
<rect x="305.6" y="824.08" width="5.7" height="1.03" fill="#7a4da2" />
<rect x="305.6" y="824.86" width="5.7" height="1.26" fill="#1f7866" />
<rect x="305.6" y="825.87" width="5.7" height="4.68" fill="#3a8fd3" />
<rect x="305.6" y="830.3" width="5.7" height="1.03" fill="#ffffff" />
<rect x="305.6" y="831.07" width="5.7" height="4.91" fill="#e0a324" />
<rect x="305.6" y="835.74" width="5.7" height="1.03" fill="#ffffff" />
<rect x="305.6" y="836.52" width="5.7" height="1.42" fill="#e0a324" />
<rect x="305.6" y="837.68" width="5.7" height="1.42" fill="#ffffff" />
<rect x="305.6" y="838.85" width="5.7" height="3.75" fill="#e0a324" />
<rect x="305.6" y="842.35" width="5.7" height="1.03" fill="#ffffff" />
<rect x="305.6" y="843.12" width="5.7" height="4.91" fill="#3a8fd3" />
<rect x="305.6" y="847.79" width="5.7" height="2.43" fill="#ffffff" />
<rect x="305.6" y="849.96" width="5.7" height="1.18" fill="#1f7866" />
<rect x="305.6" y="850.9" width="5.7" height="2.19" fill="#d35fbf" />
<rect x="305.6" y="852.84" width="5.7" height="1.42" fill="#7a4da2" />
<rect x="305.6" y="854.01" width="5.7" height="1.03" fill="#d35fbf" />
<rect x="305.6" y="854.78" width="5.7" height="5.3" fill="#1f7866" />
<rect x="305.6" y="859.84" width="5.7" height="4.91" fill="#7a4da2" />
<rect x="305.6" y="804.1" width="5.7" height="60.4" fill="none" stroke="#9b9b9b" stroke-width="0.6"/>
<rect x="315.16" y="812.2" width="5.7" height="3.98" fill="#7a4da2" />
<rect x="315.16" y="815.93" width="5.7" height="3.75" fill="#e0a324" />
<rect x="315.16" y="819.43" width="5.7" height="1.8" fill="#ffffff" />
<rect x="315.16" y="820.98" width="5.7" height="1.8" fill="#8dc640" />
<rect x="315.16" y="822.54" width="5.7" height="1.8" fill="#e0a324" />
<rect x="315.16" y="824.09" width="5.7" height="4.91" fill="#8dc640" />
<rect x="315.16" y="828.75" width="5.7" height="1.42" fill="#ffffff" />
<rect x="315.16" y="829.92" width="5.7" height="4.91" fill="#8dc640" />
<rect x="315.16" y="834.58" width="5.7" height="1.03" fill="#ffffff" />
<rect x="315.16" y="835.36" width="5.7" height="2.97" fill="#d35fbf" />
<rect x="315.16" y="838.08" width="5.7" height="1.42" fill="#7a4da2" />
<rect x="315.16" y="839.24" width="5.7" height="1.42" fill="#1f7866" />
<rect x="315.16" y="840.41" width="5.7" height="1.03" fill="#8dc640" />
<rect x="315.16" y="841.19" width="5.7" height="1.42" fill="#3a8fd3" />
<rect x="315.16" y="842.35" width="5.7" height="4.52" fill="#7a4da2" />
<rect x="315.16" y="846.63" width="5.7" height="1.42" fill="#d35fbf" />
<rect x="315.16" y="847.79" width="5.7" height="2.97" fill="#3a8fd3" />
<rect x="315.16" y="850.51" width="5.7" height="2.19" fill="#8dc640" />
<rect x="315.16" y="852.45" width="5.7" height="1.8" fill="#ffffff" />
<rect x="315.16" y="854.01" width="5.7" height="2.19" fill="#8dc640" />
<rect x="315.16" y="855.95" width="5.7" height="1.03" fill="#3a8fd3" />
<rect x="315.16" y="856.73" width="5.7" height="5.3" fill="#8dc640" />
<rect x="315.16" y="861.78" width="5.7" height="1.42" fill="#1f7866" />
<rect x="315.16" y="862.95" width="5.7" height="1.8" fill="#8dc640" />
<rect x="315.16" y="812.2" width="5.7" height="52.3" fill="none" stroke="#9b9b9b" stroke-width="0.6"/>
<rect x="324.72" y="801.1" width="5.7" height="4.92" fill="#1f7866" />
<rect x="324.72" y="805.77" width="5.7" height="4.14" fill="#7a4da2" />
<rect x="324.72" y="809.66" width="5.7" height="2.58" fill="#1f7866" />
<rect x="324.72" y="811.99" width="5.7" height="1.81" fill="#7a4da2" />
<rect x="324.72" y="813.55" width="5.7" height="1.81" fill="#1f7866" />
<rect x="324.72" y="815.1" width="5.7" height="1.42" fill="#d35fbf" />
<rect x="324.72" y="816.27" width="5.7" height="1.81" fill="#ee6a5d" />
<rect x="324.72" y="817.83" width="5.7" height="1.81" fill="#1f7866" />
<rect x="324.72" y="819.38" width="5.7" height="2.19" fill="#d35fbf" />
<rect x="324.72" y="821.33" width="5.7" height="2.97" fill="#a9a53a" />
<rect x="324.72" y="824.05" width="5.7" height="2.19" fill="#d35fbf" />
<rect x="324.72" y="825.99" width="5.7" height="2.19" fill="#1f7866" />
<rect x="324.72" y="827.94" width="5.7" height="2.19" fill="#e0a324" />
<rect x="324.72" y="829.88" width="5.7" height="2.19" fill="#efb8dd" />
<rect x="324.72" y="831.83" width="5.7" height="4.92" fill="#e0a324" />
<rect x="324.72" y="836.5" width="5.7" height="1.42" fill="#8dc640" />
<rect x="324.72" y="837.66" width="5.7" height="4.14" fill="#8dc640" />
<rect x="324.72" y="841.55" width="5.7" height="2.58" fill="#ffffff" />
<rect x="324.72" y="843.89" width="5.7" height="2.19" fill="#8dc640" />
<rect x="324.72" y="845.83" width="5.7" height="2.19" fill="#ffffff" />
<rect x="324.72" y="847.77" width="5.7" height="1.81" fill="#d35fbf" />
<rect x="324.72" y="849.33" width="5.7" height="1.81" fill="#ffffff" />
<rect x="324.72" y="850.89" width="5.7" height="1.81" fill="#d35fbf" />
<rect x="324.72" y="852.44" width="5.7" height="1.81" fill="#e0a324" />
<rect x="324.72" y="854" width="5.7" height="1.81" fill="#ffffff" />
<rect x="324.72" y="855.55" width="5.7" height="1.42" fill="#d35fbf" />
<rect x="324.72" y="856.72" width="5.7" height="3.36" fill="#ffffff" />
<rect x="324.72" y="859.83" width="5.7" height="1.42" fill="#e0a324" />
<rect x="324.72" y="861" width="5.7" height="2.19" fill="#8dc640" />
<rect x="324.72" y="862.94" width="5.7" height="1.81" fill="#ee6a5d" />
<rect x="324.72" y="801.1" width="5.7" height="63.4" fill="none" stroke="#9b9b9b" stroke-width="0.6"/>
<rect x="334.28" y="799.6" width="5.7" height="2.58" fill="#8dc640" />
<rect x="334.28" y="801.93" width="5.7" height="4.14" fill="#7a4da2" />
<rect x="334.28" y="805.82" width="5.7" height="4.14" fill="#3a8fd3" />
<rect x="334.28" y="809.7" width="5.7" height="1.8" fill="#7a4da2" />
<rect x="334.28" y="811.26" width="5.7" height="4.91" fill="#d35fbf" />
<rect x="334.28" y="815.92" width="5.7" height="2.58" fill="#ee6a5d" />
<rect x="334.28" y="818.25" width="5.7" height="1.8" fill="#1f7866" />
<rect x="334.28" y="819.81" width="5.7" height="1.8" fill="#e0a324" />
<rect x="334.28" y="821.36" width="5.7" height="1.42" fill="#8dc640" />
<rect x="334.28" y="822.53" width="5.7" height="1.03" fill="#1f7866" />
<rect x="334.28" y="823.31" width="5.7" height="2.58" fill="#8dc640" />
<rect x="334.28" y="825.64" width="5.7" height="1.42" fill="#d35fbf" />
<rect x="334.28" y="826.8" width="5.7" height="2.19" fill="#7a4da2" />
<rect x="334.28" y="828.75" width="5.7" height="1.8" fill="#8dc640" />
<rect x="334.28" y="830.3" width="5.7" height="1.42" fill="#ffffff" />
<rect x="334.28" y="831.47" width="5.7" height="1.8" fill="#7a4da2" />
<rect x="334.28" y="833.02" width="5.7" height="3.36" fill="#1f7866" />
<rect x="334.28" y="836.13" width="5.7" height="1.03" fill="#ffffff" />
<rect x="334.28" y="836.91" width="5.7" height="6.47" fill="#e0a324" />
<rect x="334.28" y="843.13" width="5.7" height="1.8" fill="#ffffff" />
<rect x="334.28" y="844.68" width="5.7" height="2.58" fill="#8dc640" />
<rect x="334.28" y="847.01" width="5.7" height="1.8" fill="#ffffff" />
<rect x="334.28" y="848.57" width="5.7" height="1.65" fill="#e0a324" />
<rect x="334.28" y="849.97" width="5.7" height="1.18" fill="#ee6a5d" />
<rect x="334.28" y="850.9" width="5.7" height="2.19" fill="#ffffff" />
<rect x="334.28" y="852.84" width="5.7" height="1.42" fill="#e0a324" />
<rect x="334.28" y="854.01" width="5.7" height="2.19" fill="#ee6a5d" />
<rect x="334.28" y="855.95" width="5.7" height="5.3" fill="#e0a324" />
<rect x="334.28" y="861" width="5.7" height="2.19" fill="#7a4da2" />
<rect x="334.28" y="862.95" width="5.7" height="1.8" fill="#a98bcb" />
<rect x="334.28" y="799.6" width="5.7" height="64.9" fill="none" stroke="#9b9b9b" stroke-width="0.6"/>
<rect x="343.84" y="814.7" width="5.7" height="5.31" fill="#8dc640" />
<rect x="343.84" y="819.76" width="5.7" height="1.81" fill="#e0a324" />
<rect x="343.84" y="821.31" width="5.7" height="1.81" fill="#8dc640" />
<rect x="343.84" y="822.87" width="5.7" height="2.2" fill="#e0a324" />
<rect x="343.84" y="824.82" width="5.7" height="1.42" fill="#d35fbf" />
<rect x="343.84" y="825.98" width="5.7" height="1.03" fill="#ffffff" />
<rect x="343.84" y="826.76" width="5.7" height="1.42" fill="#f2d58e" />
<rect x="343.84" y="827.93" width="5.7" height="4.14" fill="#e0a324" />
<rect x="343.84" y="831.82" width="5.7" height="4.92" fill="#1f7866" />
<rect x="343.84" y="836.49" width="5.7" height="1.42" fill="#9cc8bb" />
<rect x="343.84" y="837.65" width="5.7" height="1.42" fill="#d35fbf" />
<rect x="343.84" y="838.82" width="5.7" height="1.42" fill="#ffffff" />
<rect x="343.84" y="839.99" width="5.7" height="1.03" fill="#d35fbf" />
<rect x="343.84" y="840.77" width="5.7" height="8.42" fill="#d35fbf" />
<rect x="343.84" y="848.94" width="5.7" height="1.26" fill="#9cc8bb" />
<rect x="343.84" y="849.95" width="5.7" height="3.13" fill="#ee6a5d" />
<rect x="343.84" y="852.83" width="5.7" height="6.47" fill="#1f7866" />
<rect x="343.84" y="859.05" width="5.7" height="2.97" fill="#ee6a5d" />
<rect x="343.84" y="861.78" width="5.7" height="1.42" fill="#e0a324" />
<rect x="343.84" y="862.94" width="5.7" height="1.81" fill="#3a8fd3" />
<rect x="343.84" y="814.7" width="5.7" height="49.8" fill="none" stroke="#9b9b9b" stroke-width="0.6"/>
<rect x="353.4" y="824.5" width="5.7" height="3.75" fill="#7a4da2" />
<rect x="353.4" y="828" width="5.7" height="2.97" fill="#d35fbf" />
<rect x="353.4" y="830.71" width="5.7" height="3.36" fill="#ffffff" />
<rect x="353.4" y="833.82" width="5.7" height="2.97" fill="#d35fbf" />
<rect x="353.4" y="836.54" width="5.7" height="1.42" fill="#ffffff" />
<rect x="353.4" y="837.7" width="5.7" height="1.42" fill="#ee6a5d" />
<rect x="353.4" y="838.87" width="5.7" height="3.36" fill="#ffffff" />
<rect x="353.4" y="841.98" width="5.7" height="1.03" fill="#ee6a5d" />
<rect x="353.4" y="842.75" width="5.7" height="2.97" fill="#efb8dd" />
<rect x="353.4" y="845.47" width="5.7" height="6.85" fill="#ffffff" />
<rect x="353.4" y="852.07" width="5.7" height="1.03" fill="#ee6a5d" />
<rect x="353.4" y="852.85" width="5.7" height="1.42" fill="#e0a324" />
<rect x="353.4" y="854.01" width="5.7" height="1.42" fill="#ffffff" />
<rect x="353.4" y="855.18" width="5.7" height="2.58" fill="#d35fbf" />
<rect x="353.4" y="857.51" width="5.7" height="1.42" fill="#ffffff" />
<rect x="353.4" y="858.67" width="5.7" height="6.08" fill="#d35fbf" />
<rect x="353.4" y="824.5" width="5.7" height="40" fill="none" stroke="#9b9b9b" stroke-width="0.6"/>
<rect x="362.96" y="808.1" width="5.7" height="1.81" fill="#7a4da2" />
<rect x="362.96" y="809.66" width="5.7" height="4.53" fill="#3a8fd3" />
<rect x="362.96" y="813.93" width="5.7" height="5.31" fill="#e0a324" />
<rect x="362.96" y="818.99" width="5.7" height="2.97" fill="#3a8fd3" />
<rect x="362.96" y="821.71" width="5.7" height="2.58" fill="#e0a324" />
<rect x="362.96" y="824.05" width="5.7" height="2.19" fill="#f2d58e" />
<rect x="362.96" y="825.99" width="5.7" height="1.42" fill="#e0a324" />
<rect x="362.96" y="827.16" width="5.7" height="1.81" fill="#d35fbf" />
<rect x="362.96" y="828.72" width="5.7" height="1.42" fill="#1f7866" />
<rect x="362.96" y="829.88" width="5.7" height="2.97" fill="#ee6a5d" />
<rect x="362.96" y="832.6" width="5.7" height="7.64" fill="#e0a324" />
<rect x="362.96" y="840" width="5.7" height="1.03" fill="#3a8fd3" />
<rect x="362.96" y="840.77" width="5.7" height="6.08" fill="#ffffff" />
<rect x="362.96" y="846.61" width="5.7" height="1.42" fill="#ee6a5d" />
<rect x="362.96" y="847.77" width="5.7" height="1.42" fill="#ffffff" />
<rect x="362.96" y="848.94" width="5.7" height="6.08" fill="#d35fbf" />
<rect x="362.96" y="854.78" width="5.7" height="1.42" fill="#a9a53a" />
<rect x="362.96" y="855.94" width="5.7" height="1.42" fill="#ffffff" />
<rect x="362.96" y="857.11" width="5.7" height="7.64" fill="#d35fbf" />
<rect x="362.96" y="808.1" width="5.7" height="56.4" fill="none" stroke="#9b9b9b" stroke-width="0.6"/>
<rect x="372.52" y="812.4" width="5.7" height="2.58" fill="#d35fbf" />
<rect x="372.52" y="814.73" width="5.7" height="1.42" fill="#7a4da2" />
<rect x="372.52" y="815.9" width="5.7" height="2.58" fill="#ee6a5d" />
<rect x="372.52" y="818.23" width="5.7" height="1.42" fill="#d35fbf" />
<rect x="372.52" y="819.4" width="5.7" height="2.58" fill="#1f7866" />
<rect x="372.52" y="821.73" width="5.7" height="2.58" fill="#8dc640" />
<rect x="372.52" y="824.06" width="5.7" height="1.42" fill="#a9a53a" />
<rect x="372.52" y="825.23" width="5.7" height="1.03" fill="#d35fbf" />
<rect x="372.52" y="826.01" width="5.7" height="2.58" fill="#1f7866" />
<rect x="372.52" y="828.34" width="5.7" height="1.81" fill="#9cc8bb" />
<rect x="372.52" y="829.9" width="5.7" height="1.81" fill="#d35fbf" />
<rect x="372.52" y="831.45" width="5.7" height="1.81" fill="#ffffff" />
<rect x="372.52" y="833.01" width="5.7" height="4.14" fill="#d35fbf" />
<rect x="372.52" y="836.89" width="5.7" height="1.42" fill="#ffffff" />
<rect x="372.52" y="838.06" width="5.7" height="3.75" fill="#8dc640" />
<rect x="372.52" y="841.56" width="5.7" height="3.36" fill="#ffffff" />
<rect x="372.52" y="844.67" width="5.7" height="1.42" fill="#e0a324" />
<rect x="372.52" y="845.84" width="5.7" height="1.42" fill="#ffffff" />
<rect x="372.52" y="847" width="5.7" height="1.42" fill="#e0a324" />
<rect x="372.52" y="848.17" width="5.7" height="1.81" fill="#a9a53a" />
<rect x="372.52" y="849.73" width="5.7" height="5.3" fill="#ee6a5d" />
<rect x="372.52" y="854.78" width="5.7" height="5.3" fill="#7a4da2" />
<rect x="372.52" y="859.83" width="5.7" height="2.58" fill="#ffffff" />
<rect x="372.52" y="862.17" width="5.7" height="2.58" fill="#ee6a5d" />
<rect x="372.52" y="812.4" width="5.7" height="52.1" fill="none" stroke="#9b9b9b" stroke-width="0.6"/>
<rect x="410.6" y="825.1" width="6.5" height="1.05" fill="#d35fbf" />
<rect x="410.6" y="825.9" width="6.5" height="4.25" fill="#ffffff" />
<rect x="410.6" y="829.9" width="6.5" height="1.45" fill="#d35fbf" />
<rect x="410.6" y="831.1" width="6.5" height="2.25" fill="#e0a324" />
<rect x="410.6" y="833.1" width="6.5" height="1.05" fill="#f2d58e" />
<rect x="410.6" y="833.9" width="6.5" height="1.45" fill="#3a8fd3" />
<rect x="410.6" y="835.1" width="6.5" height="1.45" fill="#1f7866" />
<rect x="410.6" y="836.3" width="6.5" height="1.05" fill="#ffffff" />
<rect x="410.6" y="837.1" width="6.5" height="6.65" fill="#1f7866" />
<rect x="410.6" y="843.5" width="6.5" height="1.85" fill="#9cc8bb" />
<rect x="410.6" y="845.1" width="6.5" height="1.45" fill="#1f7866" />
<rect x="410.6" y="846.3" width="6.5" height="1.85" fill="#ffffff" />
<rect x="410.6" y="847.9" width="6.5" height="3.45" fill="#1f7866" />
<rect x="410.6" y="851.1" width="6.5" height="1.45" fill="#9cc8bb" />
<rect x="410.6" y="852.3" width="6.5" height="4.65" fill="#1f7866" />
<rect x="410.6" y="856.7" width="6.5" height="9.05" fill="#7a4da2" />
<rect x="410.6" y="825.1" width="6.5" height="40.4" fill="none" stroke="#9b9b9b" stroke-width="0.6"/>
<rect x="421.4" y="816.9" width="6.5" height="3.61" fill="#1f7866" />
<rect x="421.4" y="820.26" width="6.5" height="2.25" fill="#7a4da2" />
<rect x="421.4" y="822.26" width="6.5" height="3.05" fill="#1f7866" />
<rect x="421.4" y="825.07" width="6.5" height="4.25" fill="#7a4da2" />
<rect x="421.4" y="829.07" width="6.5" height="2.25" fill="#1f7866" />
<rect x="421.4" y="831.07" width="6.5" height="3.05" fill="#3a8fd3" />
<rect x="421.4" y="833.87" width="6.5" height="0.25" fill="#efb8dd" />
<rect x="421.4" y="833.87" width="6.5" height="1.05" fill="#3a8fd3" />
<rect x="421.4" y="834.67" width="6.5" height="2.65" fill="#3a8fd3" />
<rect x="421.4" y="837.08" width="6.5" height="1.05" fill="#ffffff" />
<rect x="421.4" y="837.88" width="6.5" height="1.05" fill="#3a8fd3" />
<rect x="421.4" y="838.68" width="6.5" height="1.85" fill="#ffffff" />
<rect x="421.4" y="840.28" width="6.5" height="1.05" fill="#9cc8bb" />
<rect x="421.4" y="841.08" width="6.5" height="3.05" fill="#1f7866" />
<rect x="421.4" y="843.88" width="6.5" height="3.05" fill="#9cc8bb" />
<rect x="421.4" y="846.68" width="6.5" height="1.45" fill="#ffffff" />
<rect x="421.4" y="847.89" width="6.5" height="4.65" fill="#1f7866" />
<rect x="421.4" y="852.29" width="6.5" height="1.05" fill="#9cc8bb" />
<rect x="421.4" y="853.09" width="6.5" height="8.26" fill="#1f7866" />
<rect x="421.4" y="861.1" width="6.5" height="1.05" fill="#9cc8bb" />
<rect x="421.4" y="861.9" width="6.5" height="2.25" fill="#1f7866" />
<rect x="421.4" y="863.9" width="6.5" height="1.85" fill="#ffffff" />
<rect x="421.4" y="816.9" width="6.5" height="48.6" fill="none" stroke="#9b9b9b" stroke-width="0.6"/>
<rect x="432.2" y="802" width="6.5" height="1.3" fill="#e0a324" />
<rect x="432.2" y="803.05" width="6.5" height="2.67" fill="#f2d58e" />
<rect x="432.2" y="805.47" width="6.5" height="3.07" fill="#8dc640" />
<rect x="432.2" y="808.29" width="6.5" height="13.14" fill="#e0a324" />
<rect x="432.2" y="821.18" width="6.5" height="2.67" fill="#ffffff" />
<rect x="432.2" y="823.6" width="6.5" height="1.06" fill="#f2d58e" />
<rect x="432.2" y="824.4" width="6.5" height="3.88" fill="#e0a324" />
<rect x="432.2" y="828.03" width="6.5" height="1.46" fill="#8dc640" />
<rect x="432.2" y="829.24" width="6.5" height="4.68" fill="#e0a324" />
<rect x="432.2" y="833.67" width="6.5" height="2.67" fill="#f2d58e" />
<rect x="432.2" y="836.09" width="6.5" height="1.06" fill="#e0a324" />
<rect x="432.2" y="836.89" width="6.5" height="6.29" fill="#8dc640" />
<rect x="432.2" y="842.94" width="6.5" height="1.46" fill="#8dc640" />
<rect x="432.2" y="844.15" width="6.5" height="8.31" fill="#8dc640" />
<rect x="432.2" y="852.2" width="6.5" height="1.46" fill="#d35fbf" />
<rect x="432.2" y="853.41" width="6.5" height="7.91" fill="#8dc640" />
<rect x="432.2" y="861.07" width="6.5" height="1.86" fill="#8dc640" />
<rect x="432.2" y="862.68" width="6.5" height="3.07" fill="#8dc640" />
<rect x="432.2" y="802" width="6.5" height="63.5" fill="none" stroke="#9b9b9b" stroke-width="0.6"/>
<rect x="443" y="809" width="6.5" height="15.48" fill="#d35fbf" />
<rect x="443" y="824.23" width="6.5" height="19.08" fill="#3a8fd3" />
<rect x="443" y="843.06" width="6.5" height="1.45" fill="#7a4da2" />
<rect x="443" y="844.26" width="6.5" height="1.05" fill="#ffffff" />
<rect x="443" y="845.06" width="6.5" height="2.65" fill="#7a4da2" />
<rect x="443" y="847.47" width="6.5" height="1.45" fill="#a98bcb" />
<rect x="443" y="848.67" width="6.5" height="1.45" fill="#7a4da2" />
<rect x="443" y="849.87" width="6.5" height="2.25" fill="#a98bcb" />
<rect x="443" y="851.88" width="6.5" height="3.05" fill="#7a4da2" />
<rect x="443" y="854.68" width="6.5" height="2.25" fill="#ffffff" />
<rect x="443" y="856.68" width="6.5" height="9.07" fill="#3a8fd3" />
<rect x="443" y="809" width="6.5" height="56.5" fill="none" stroke="#9b9b9b" stroke-width="0.6"/>
<rect x="453.8" y="816.6" width="6.5" height="8.27" fill="#1f7866" />
<rect x="453.8" y="824.62" width="6.5" height="2.25" fill="#9cc8bb" />
<rect x="453.8" y="826.62" width="6.5" height="2.65" fill="#ffffff" />
<rect x="453.8" y="829.03" width="6.5" height="3.86" fill="#8dc640" />
<rect x="453.8" y="832.63" width="6.5" height="2.65" fill="#ffffff" />
<rect x="453.8" y="835.04" width="6.5" height="3.06" fill="#1f7866" />
<rect x="453.8" y="837.84" width="6.5" height="1.05" fill="#ffffff" />
<rect x="453.8" y="838.65" width="6.5" height="6.66" fill="#ee6a5d" />
<rect x="453.8" y="845.06" width="6.5" height="1.85" fill="#ffffff" />
<rect x="453.8" y="846.66" width="6.5" height="1.85" fill="#ee6a5d" />
<rect x="453.8" y="848.26" width="6.5" height="6.66" fill="#d35fbf" />
<rect x="453.8" y="854.68" width="6.5" height="1.45" fill="#ee6a5d" />
<rect x="453.8" y="855.88" width="6.5" height="5.06" fill="#d35fbf" />
<rect x="453.8" y="860.69" width="6.5" height="5.06" fill="#ee6a5d" />
<rect x="453.8" y="816.6" width="6.5" height="48.9" fill="none" stroke="#9b9b9b" stroke-width="0.6"/>
<rect x="464.6" y="799.4" width="6.5" height="8.66" fill="#d35fbf" />
<rect x="464.6" y="807.81" width="6.5" height="5.46" fill="#8dc640" />
<rect x="464.6" y="813.02" width="6.5" height="1.45" fill="#9cc8bb" />
<rect x="464.6" y="814.22" width="6.5" height="3.05" fill="#8dc640" />
<rect x="464.6" y="817.03" width="6.5" height="7.86" fill="#7a4da2" />
<rect x="464.6" y="824.64" width="6.5" height="1.85" fill="#a98bcb" />
<rect x="464.6" y="826.24" width="6.5" height="3.86" fill="#7a4da2" />
<rect x="464.6" y="829.85" width="6.5" height="3.45" fill="#ffffff" />
<rect x="464.6" y="833.05" width="6.5" height="2.65" fill="#e0a324" />
<rect x="464.6" y="835.45" width="6.5" height="1.45" fill="#f2d58e" />
<rect x="464.6" y="836.66" width="6.5" height="2.25" fill="#e0a324" />
<rect x="464.6" y="838.66" width="6.5" height="1.45" fill="#f2d58e" />
<rect x="464.6" y="839.86" width="6.5" height="1.45" fill="#e0a324" />
<rect x="464.6" y="841.06" width="6.5" height="1.45" fill="#f2d58e" />
<rect x="464.6" y="842.26" width="6.5" height="14.67" fill="#e0a324" />
<rect x="464.6" y="856.69" width="6.5" height="7.86" fill="#3a8fd3" />
<rect x="464.6" y="864.3" width="6.5" height="1.45" fill="#7a4da2" />
<rect x="464.6" y="799.4" width="6.5" height="66.1" fill="none" stroke="#9b9b9b" stroke-width="0.6"/>
<rect x="475.4" y="825.2" width="6.5" height="6.9" fill="#ee6a5d" />
<rect x="475.4" y="831.85" width="6.5" height="8.66" fill="#e0a324" />
<rect x="475.4" y="840.26" width="6.5" height="11.47" fill="#ee6a5d" />
<rect x="475.4" y="851.48" width="6.5" height="2.65" fill="#ffffff" />
<rect x="475.4" y="853.88" width="6.5" height="1.85" fill="#e0a324" />
<rect x="475.4" y="855.49" width="6.5" height="2.25" fill="#ffffff" />
<rect x="475.4" y="857.49" width="6.5" height="2.25" fill="#e0a324" />
<rect x="475.4" y="859.49" width="6.5" height="1.85" fill="#ffffff" />
<rect x="475.4" y="861.09" width="6.5" height="3.05" fill="#e0a324" />
<rect x="475.4" y="863.9" width="6.5" height="1.85" fill="#ffffff" />
<rect x="475.4" y="825.2" width="6.5" height="40.3" fill="none" stroke="#9b9b9b" stroke-width="0.6"/>
<rect x="508.3" y="799.4" width="3" height="1.47" fill="#8dc640" />
<rect x="508.3" y="800.62" width="3" height="2.28" fill="#ee6a5d" />
<rect x="508.3" y="802.65" width="3" height="6.35" fill="#8dc640" />
<rect x="508.3" y="808.76" width="3" height="1.47" fill="#ffffff" />
<rect x="508.3" y="809.98" width="3" height="7.16" fill="#8dc640" />
<rect x="508.3" y="816.89" width="3" height="6.35" fill="#d35fbf" />
<rect x="508.3" y="822.99" width="3" height="2.28" fill="#1f7866" />
<rect x="508.3" y="825.03" width="3" height="3.1" fill="#1f7866" />
<rect x="508.3" y="827.87" width="3" height="5.54" fill="#e0a324" />
<rect x="508.3" y="833.16" width="3" height="3.1" fill="#ffffff" />
<rect x="508.3" y="836.01" width="3" height="3.1" fill="#8dc640" />
<rect x="508.3" y="838.85" width="3" height="11.64" fill="#7a4da2" />
<rect x="508.3" y="850.24" width="3" height="1.06" fill="#ffffff" />
<rect x="508.3" y="851.06" width="3" height="8.38" fill="#ee6a5d" />
<rect x="508.3" y="859.19" width="3" height="1.88" fill="#d35fbf" />
<rect x="508.3" y="860.82" width="3" height="2.28" fill="#7a4da2" />
<rect x="508.3" y="862.85" width="3" height="3.1" fill="#e0a324" />
<rect x="508.3" y="799.4" width="3" height="66.3" fill="none" stroke="#9b9b9b" stroke-width="0.6"/>
<rect x="512.61" y="834" width="3" height="1.47" fill="#1f7866" />
<rect x="512.61" y="835.22" width="3" height="1.06" fill="#3a8fd3" />
<rect x="512.61" y="836.03" width="3" height="1.47" fill="#7a4da2" />
<rect x="512.61" y="837.25" width="3" height="2.28" fill="#8dc640" />
<rect x="512.61" y="839.28" width="3" height="2.28" fill="#ffffff" />
<rect x="512.61" y="841.32" width="3" height="7.97" fill="#3a8fd3" />
<rect x="512.61" y="849.04" width="3" height="1.88" fill="#ffffff" />
<rect x="512.61" y="850.66" width="3" height="5.13" fill="#ee6a5d" />
<rect x="512.61" y="855.54" width="3" height="6.75" fill="#1f7866" />
<rect x="512.61" y="862.04" width="3" height="1.88" fill="#8dc640" />
<rect x="512.61" y="863.67" width="3" height="2.28" fill="#3a8fd3" />
<rect x="512.61" y="834" width="3" height="31.7" fill="none" stroke="#9b9b9b" stroke-width="0.6"/>
<rect x="516.92" y="836.9" width="3" height="2.68" fill="#e0a324" />
<rect x="516.92" y="839.33" width="3" height="2.28" fill="#d35fbf" />
<rect x="516.92" y="841.36" width="3" height="9.17" fill="#ee6a5d" />
<rect x="516.92" y="850.29" width="3" height="5.52" fill="#7a4da2" />
<rect x="516.92" y="855.56" width="3" height="3.5" fill="#ffffff" />
<rect x="516.92" y="858.8" width="3" height="3.5" fill="#7a4da2" />
<rect x="516.92" y="862.05" width="3" height="1.47" fill="#ffffff" />
<rect x="516.92" y="863.27" width="3" height="2.68" fill="#8dc640" />
<rect x="516.92" y="836.9" width="3" height="28.8" fill="none" stroke="#9b9b9b" stroke-width="0.6"/>
<rect x="521.23" y="829.1" width="3" height="1.47" fill="#ffffff" />
<rect x="521.23" y="830.32" width="3" height="1.88" fill="#8dc640" />
<rect x="521.23" y="831.95" width="3" height="1.88" fill="#e0a324" />
<rect x="521.23" y="833.57" width="3" height="6.76" fill="#1f7866" />
<rect x="521.23" y="840.08" width="3" height="1.88" fill="#8dc640" />
<rect x="521.23" y="841.71" width="3" height="3.5" fill="#ffffff" />
<rect x="521.23" y="844.96" width="3" height="12.45" fill="#d35fbf" />
<rect x="521.23" y="857.16" width="3" height="1.88" fill="#ee6a5d" />
<rect x="521.23" y="858.79" width="3" height="7.16" fill="#8dc640" />
<rect x="521.23" y="829.1" width="3" height="36.6" fill="none" stroke="#9b9b9b" stroke-width="0.6"/>
<rect x="525.54" y="829.1" width="3" height="3.1" fill="#1f7866" />
<rect x="525.54" y="831.95" width="3" height="1.47" fill="#3a8fd3" />
<rect x="525.54" y="833.17" width="3" height="1.88" fill="#8dc640" />
<rect x="525.54" y="834.79" width="3" height="23.43" fill="#1f7866" />
<rect x="525.54" y="857.97" width="3" height="2.28" fill="#8dc640" />
<rect x="525.54" y="860.01" width="3" height="3.1" fill="#1f7866" />
<rect x="525.54" y="862.85" width="3" height="3.1" fill="#3a8fd3" />
<rect x="525.54" y="829.1" width="3" height="36.6" fill="none" stroke="#9b9b9b" stroke-width="0.6"/>
<rect x="529.85" y="827.1" width="3" height="5.53" fill="#7a4da2" />
<rect x="529.85" y="832.38" width="3" height="3.91" fill="#e0a324" />
<rect x="529.85" y="836.04" width="3" height="16.5" fill="#7a4da2" />
<rect x="529.85" y="852.29" width="3" height="6.75" fill="#e0a324" />
<rect x="529.85" y="858.79" width="3" height="2.28" fill="#7a4da2" />
<rect x="529.85" y="860.82" width="3" height="2.28" fill="#e0a324" />
<rect x="529.85" y="862.86" width="3" height="1.06" fill="#3a8fd3" />
<rect x="529.85" y="863.67" width="3" height="2.28" fill="#e0a324" />
<rect x="529.85" y="827.1" width="3" height="38.6" fill="none" stroke="#9b9b9b" stroke-width="0.6"/>
<rect x="534.16" y="839.7" width="3" height="1.88" fill="#3a8fd3" />
<rect x="534.16" y="841.33" width="3" height="5.94" fill="#1f7866" />
<rect x="534.16" y="847.01" width="3" height="2.69" fill="#8dc640" />
<rect x="534.16" y="849.45" width="3" height="3.09" fill="#ffffff" />
<rect x="534.16" y="852.29" width="3" height="1.88" fill="#8dc640" />
<rect x="534.16" y="853.92" width="3" height="2.28" fill="#ffffff" />
<rect x="534.16" y="855.95" width="3" height="6.34" fill="#1f7866" />
<rect x="534.16" y="862.04" width="3" height="1.47" fill="#ffffff" />
<rect x="534.16" y="863.26" width="3" height="2.69" fill="#1f7866" />
<rect x="534.16" y="839.7" width="3" height="26" fill="none" stroke="#9b9b9b" stroke-width="0.6"/>
<rect x="538.47" y="842.2" width="3" height="10.38" fill="#3a8fd3" />
<rect x="538.47" y="852.33" width="3" height="1.87" fill="#d35fbf" />
<rect x="538.47" y="853.95" width="3" height="2.28" fill="#3a8fd3" />
<rect x="538.47" y="855.98" width="3" height="5.52" fill="#d35fbf" />
<rect x="538.47" y="861.24" width="3" height="1.87" fill="#8dc640" />
<rect x="538.47" y="862.86" width="3" height="3.09" fill="#e0a324" />
<rect x="538.47" y="842.2" width="3" height="23.5" fill="none" stroke="#9b9b9b" stroke-width="0.6"/>
<rect x="542.78" y="846.2" width="3" height="1.88" fill="#e0a324" />
<rect x="542.78" y="847.83" width="3" height="5.53" fill="#1f7866" />
<rect x="542.78" y="853.11" width="3" height="10.41" fill="#e0a324" />
<rect x="542.78" y="863.26" width="3" height="1.47" fill="#f2d58e" />
<rect x="542.78" y="864.48" width="3" height="1.47" fill="#e0a324" />
<rect x="542.78" y="846.2" width="3" height="19.5" fill="none" stroke="#9b9b9b" stroke-width="0.6"/>
<rect x="547.09" y="836.9" width="3" height="1.12" fill="#3a8fd3" />
<rect x="547.09" y="837.77" width="3" height="1.6" fill="#ffffff" />
<rect x="547.09" y="839.12" width="3" height="7.99" fill="#3a8fd3" />
<rect x="547.09" y="846.86" width="3" height="5.3" fill="#d35fbf" />
<rect x="547.09" y="851.91" width="3" height="2.27" fill="#3a8fd3" />
<rect x="547.09" y="853.92" width="3" height="5.97" fill="#d35fbf" />
<rect x="547.09" y="859.64" width="3" height="1.6" fill="#a9a53a" />
<rect x="547.09" y="860.99" width="3" height="4.96" fill="#e0a324" />
<rect x="547.09" y="836.9" width="3" height="28.8" fill="none" stroke="#9b9b9b" stroke-width="0.6"/>
<rect x="551.4" y="840.3" width="3" height="1.8" fill="#e0a324" />
<rect x="551.4" y="841.85" width="3" height="5.29" fill="#8dc640" />
<rect x="551.4" y="846.89" width="3" height="1.26" fill="#ffffff" />
<rect x="551.4" y="847.89" width="3" height="12.68" fill="#8dc640" />
<rect x="551.4" y="860.32" width="3" height="1.59" fill="#ffffff" />
<rect x="551.4" y="861.67" width="3" height="4.28" fill="#8dc640" />
<rect x="551.4" y="840.3" width="3" height="25.4" fill="none" stroke="#9b9b9b" stroke-width="0.6"/>
<rect x="555.71" y="843.2" width="3" height="2.26" fill="#ee6a5d" />
<rect x="555.71" y="845.21" width="3" height="0.92" fill="#e0a324" />
<rect x="555.71" y="845.89" width="3" height="17.04" fill="#d35fbf" />
<rect x="555.71" y="862.68" width="3" height="3.27" fill="#ee6a5d" />
<rect x="555.71" y="843.2" width="3" height="22.5" fill="none" stroke="#9b9b9b" stroke-width="0.6"/>
<rect x="560.02" y="840.1" width="3" height="2.94" fill="#8dc640" />
<rect x="560.02" y="842.79" width="3" height="0.92" fill="#ffffff" />
<rect x="560.02" y="843.47" width="3" height="0.92" fill="#3a8fd3" />
<rect x="560.02" y="844.14" width="3" height="1.26" fill="#1f7866" />
<rect x="560.02" y="845.15" width="3" height="3.96" fill="#ffffff" />
<rect x="560.02" y="848.86" width="3" height="2.94" fill="#e0a324" />
<rect x="560.02" y="851.55" width="3" height="1.6" fill="#ffffff" />
<rect x="560.02" y="852.9" width="3" height="1.26" fill="#7a4da2" />
<rect x="560.02" y="853.91" width="3" height="1.26" fill="#ffffff" />
<rect x="560.02" y="854.92" width="3" height="2.27" fill="#ee6a5d" />
<rect x="560.02" y="856.94" width="3" height="2.27" fill="#ffffff" />
<rect x="560.02" y="858.96" width="3" height="2.27" fill="#e0a324" />
<rect x="560.02" y="860.98" width="3" height="0.92" fill="#ffffff" />
<rect x="560.02" y="861.66" width="3" height="4.29" fill="#3a8fd3" />
<rect x="560.02" y="840.1" width="3" height="25.6" fill="none" stroke="#9b9b9b" stroke-width="0.6"/>
<rect x="564.33" y="841" width="3" height="2.13" fill="#1f7866" />
<rect x="564.33" y="842.88" width="3" height="5.62" fill="#ee6a5d" />
<rect x="564.33" y="848.25" width="3" height="3.27" fill="#3a8fd3" />
<rect x="564.33" y="851.27" width="3" height="0.92" fill="#ffffff" />
<rect x="564.33" y="851.94" width="3" height="4.28" fill="#8dc640" />
<rect x="564.33" y="855.97" width="3" height="1.26" fill="#ffffff" />
<rect x="564.33" y="856.97" width="3" height="2.93" fill="#1f7866" />
<rect x="564.33" y="859.66" width="3" height="1.59" fill="#ffffff" />
<rect x="564.33" y="861" width="3" height="2.26" fill="#3a8fd3" />
<rect x="564.33" y="863.02" width="3" height="2.93" fill="#ffffff" />
<rect x="564.33" y="841" width="3" height="24.7" fill="none" stroke="#9b9b9b" stroke-width="0.6"/>
<rect x="568.64" y="843.2" width="3" height="1.93" fill="#ee6a5d" />
<rect x="568.64" y="844.88" width="3" height="17.71" fill="#d35fbf" />
<rect x="568.64" y="862.34" width="3" height="3.61" fill="#ee6a5d" />
<rect x="568.64" y="843.2" width="3" height="22.5" fill="none" stroke="#9b9b9b" stroke-width="0.6"/>
<rect x="572.95" y="843.2" width="3" height="10.32" fill="#e0a324" />
<rect x="572.95" y="853.27" width="3" height="0.92" fill="#f2d58e" />
<rect x="572.95" y="853.95" width="3" height="9.99" fill="#e0a324" />
<rect x="572.95" y="863.69" width="3" height="2.26" fill="#1f7866" />
<rect x="572.95" y="843.2" width="3" height="22.5" fill="none" stroke="#9b9b9b" stroke-width="0.6"/>
<rect x="577.26" y="843" width="3" height="1.4" fill="#ee6a5d" />
<rect x="577.26" y="844.15" width="3" height="16.08" fill="#d35fbf" />
<rect x="577.26" y="859.97" width="3" height="1.26" fill="#3a8fd3" />
<rect x="577.26" y="860.98" width="3" height="1.26" fill="#ffffff" />
<rect x="577.26" y="862" width="3" height="1.26" fill="#8dc640" />
<rect x="577.26" y="863.01" width="3" height="1.26" fill="#ffffff" />
<rect x="577.26" y="864.02" width="3" height="1.26" fill="#3a8fd3" />
<rect x="577.26" y="865.03" width="3" height="0.92" fill="#ffffff" />
<rect x="577.26" y="843" width="3" height="22.7" fill="none" stroke="#9b9b9b" stroke-width="0.6"/>
<rect x="581.57" y="839.5" width="3" height="8.98" fill="#7a4da2" />
<rect x="581.57" y="848.23" width="3" height="0.92" fill="#a98bcb" />
<rect x="581.57" y="848.91" width="3" height="8.65" fill="#7a4da2" />
<rect x="581.57" y="857.3" width="3" height="1.26" fill="#a98bcb" />
<rect x="581.57" y="858.31" width="3" height="7.64" fill="#7a4da2" />
<rect x="581.57" y="839.5" width="3" height="26.2" fill="none" stroke="#9b9b9b" stroke-width="0.6"/>
<rect x="585.88" y="843.8" width="3" height="1.6" fill="#e0a324" />
<rect x="585.88" y="845.15" width="3" height="1.26" fill="#8dc640" />
<rect x="585.88" y="846.16" width="3" height="1.26" fill="#3a8fd3" />
<rect x="585.88" y="847.17" width="3" height="1.26" fill="#1f7866" />
<rect x="585.88" y="848.18" width="3" height="1.26" fill="#ffffff" />
<rect x="585.88" y="849.19" width="3" height="2.61" fill="#e0a324" />
<rect x="585.88" y="851.55" width="3" height="0.92" fill="#ffffff" />
<rect x="585.88" y="852.22" width="3" height="1.6" fill="#7a4da2" />
<rect x="585.88" y="853.57" width="3" height="1.26" fill="#ee6a5d" />
<rect x="585.88" y="854.58" width="3" height="5.3" fill="#ffffff" />
<rect x="585.88" y="859.64" width="3" height="2.61" fill="#e0a324" />
<rect x="585.88" y="861.99" width="3" height="1.26" fill="#7a4da2" />
<rect x="585.88" y="863" width="3" height="1.93" fill="#ffffff" />
<rect x="585.88" y="864.69" width="3" height="1.26" fill="#3a8fd3" />
<rect x="585.88" y="843.8" width="3" height="21.9" fill="none" stroke="#9b9b9b" stroke-width="0.6"/>
<rect x="618.7" y="803.9" width="8.7" height="1.03" fill="#9cc8bb" />
<rect x="618.7" y="804.68" width="8.7" height="1.81" fill="#8dc640" />
<rect x="618.7" y="806.24" width="8.7" height="2.2" fill="#1f7866" />
<rect x="618.7" y="808.19" width="8.7" height="1.81" fill="#d35fbf" />
<rect x="618.7" y="809.75" width="8.7" height="1.42" fill="#1f7866" />
<rect x="618.7" y="810.92" width="8.7" height="1.03" fill="#efb8dd" />
<rect x="618.7" y="811.7" width="8.7" height="4.93" fill="#d35fbf" />
<rect x="618.7" y="816.38" width="8.7" height="1.03" fill="#a9a53a" />
<rect x="618.7" y="817.16" width="8.7" height="1.81" fill="#ee6a5d" />
<rect x="618.7" y="818.72" width="8.7" height="1.81" fill="#8dc640" />
<rect x="618.7" y="820.27" width="8.7" height="1.03" fill="#7a4da2" />
<rect x="618.7" y="821.05" width="8.7" height="1.81" fill="#1f7866" />
<rect x="618.7" y="822.61" width="8.7" height="1.42" fill="#8dc640" />
<rect x="618.7" y="823.78" width="8.7" height="1.42" fill="#1f7866" />
<rect x="618.7" y="824.95" width="8.7" height="1.42" fill="#8dc640" />
<rect x="618.7" y="826.12" width="8.7" height="1.03" fill="#7a4da2" />
<rect x="618.7" y="826.9" width="8.7" height="1.42" fill="#8dc640" />
<rect x="618.7" y="828.07" width="8.7" height="1.42" fill="#1f7866" />
<rect x="618.7" y="829.24" width="8.7" height="1.42" fill="#7a4da2" />
<rect x="618.7" y="830.41" width="8.7" height="1.81" fill="#1f7866" />
<rect x="618.7" y="831.97" width="8.7" height="1.42" fill="#ffffff" />
<rect x="618.7" y="833.14" width="8.7" height="1.42" fill="#1f7866" />
<rect x="618.7" y="834.31" width="8.7" height="2.2" fill="#ffffff" />
<rect x="618.7" y="836.26" width="8.7" height="3.76" fill="#1f7866" />
<rect x="618.7" y="839.77" width="8.7" height="1.42" fill="#ffffff" />
<rect x="618.7" y="840.94" width="8.7" height="2.2" fill="#ee6a5d" />
<rect x="618.7" y="842.89" width="8.7" height="1.03" fill="#ffffff" />
<rect x="618.7" y="843.67" width="8.7" height="2.59" fill="#8dc640" />
<rect x="618.7" y="846.01" width="8.7" height="1.42" fill="#d35fbf" />
<rect x="618.7" y="847.18" width="8.7" height="1.42" fill="#a9a53a" />
<rect x="618.7" y="848.35" width="8.7" height="1.81" fill="#d35fbf" />
<rect x="618.7" y="849.91" width="8.7" height="2.59" fill="#1f7866" />
<rect x="618.7" y="852.24" width="8.7" height="1.81" fill="#d35fbf" />
<rect x="618.7" y="853.8" width="8.7" height="1.42" fill="#a9a53a" />
<rect x="618.7" y="854.97" width="8.7" height="2.2" fill="#d35fbf" />
<rect x="618.7" y="856.92" width="8.7" height="1.42" fill="#a98bcb" />
<rect x="618.7" y="858.09" width="8.7" height="1.42" fill="#e0a324" />
<rect x="618.7" y="859.26" width="8.7" height="1.42" fill="#1f7866" />
<rect x="618.7" y="860.43" width="8.7" height="1.42" fill="#a9a53a" />
<rect x="618.7" y="861.6" width="8.7" height="1.42" fill="#8dc640" />
<rect x="618.7" y="862.77" width="8.7" height="1.42" fill="#1f7866" />
<rect x="618.7" y="863.94" width="8.7" height="1.81" fill="#3a8fd3" />
<rect x="618.7" y="803.9" width="8.7" height="61.6" fill="none" stroke="#9b9b9b" stroke-width="0.6"/>
<rect x="633.15" y="825.3" width="8.7" height="1.81" fill="#3a8fd3" />
<rect x="633.15" y="826.86" width="8.7" height="1.42" fill="#ee6a5d" />
<rect x="633.15" y="828.03" width="8.7" height="2.2" fill="#8dc640" />
<rect x="633.15" y="829.98" width="8.7" height="5.71" fill="#e0a324" />
<rect x="633.15" y="835.45" width="8.7" height="1.03" fill="#a9a53a" />
<rect x="633.15" y="836.23" width="8.7" height="2.2" fill="#8dc640" />
<rect x="633.15" y="838.18" width="8.7" height="1.03" fill="#3a8fd3" />
<rect x="633.15" y="838.96" width="8.7" height="4.15" fill="#e0a324" />
<rect x="633.15" y="842.86" width="8.7" height="2.59" fill="#7a4da2" />
<rect x="633.15" y="845.2" width="8.7" height="1.81" fill="#1f7866" />
<rect x="633.15" y="846.77" width="8.7" height="1.42" fill="#8dc640" />
<rect x="633.15" y="847.94" width="8.7" height="1.42" fill="#7a4da2" />
<rect x="633.15" y="849.11" width="8.7" height="4.15" fill="#1f7866" />
<rect x="633.15" y="853.01" width="8.7" height="1.81" fill="#9cc8bb" />
<rect x="633.15" y="854.57" width="8.7" height="1.42" fill="#7a4da2" />
<rect x="633.15" y="855.74" width="8.7" height="4.54" fill="#ffffff" />
<rect x="633.15" y="860.04" width="8.7" height="2.2" fill="#7a4da2" />
<rect x="633.15" y="861.99" width="8.7" height="1.42" fill="#8dc640" />
<rect x="633.15" y="863.16" width="8.7" height="2.59" fill="#d35fbf" />
<rect x="633.15" y="825.3" width="8.7" height="40.2" fill="none" stroke="#9b9b9b" stroke-width="0.6"/>
<rect x="647.6" y="817.9" width="8.7" height="1.42" fill="#1f7866" />
<rect x="647.6" y="819.07" width="8.7" height="1.81" fill="#ee6a5d" />
<rect x="647.6" y="820.63" width="8.7" height="1.42" fill="#8dc640" />
<rect x="647.6" y="821.8" width="8.7" height="5.32" fill="#e0a324" />
<rect x="647.6" y="826.87" width="8.7" height="1.81" fill="#1f7866" />
<rect x="647.6" y="828.43" width="8.7" height="1.81" fill="#d35fbf" />
<rect x="647.6" y="830" width="8.7" height="2.98" fill="#e0a324" />
<rect x="647.6" y="832.73" width="8.7" height="1.42" fill="#f2d58e" />
<rect x="647.6" y="833.9" width="8.7" height="2.2" fill="#a98bcb" />
<rect x="647.6" y="835.85" width="8.7" height="6.88" fill="#ffffff" />
<rect x="647.6" y="842.48" width="8.7" height="4.54" fill="#d35fbf" />
<rect x="647.6" y="846.77" width="8.7" height="3.37" fill="#3a8fd3" />
<rect x="647.6" y="849.89" width="8.7" height="2.2" fill="#8dc640" />
<rect x="647.6" y="851.84" width="8.7" height="1.42" fill="#7a4da2" />
<rect x="647.6" y="853.01" width="8.7" height="1.42" fill="#3a8fd3" />
<rect x="647.6" y="854.19" width="8.7" height="1.42" fill="#8dc640" />
<rect x="647.6" y="855.36" width="8.7" height="1.42" fill="#7a4da2" />
<rect x="647.6" y="856.53" width="8.7" height="1.42" fill="#8dc640" />
<rect x="647.6" y="857.7" width="8.7" height="3.37" fill="#e0a324" />
<rect x="647.6" y="860.82" width="8.7" height="1.81" fill="#3a8fd3" />
<rect x="647.6" y="862.38" width="8.7" height="1.42" fill="#1f7866" />
<rect x="647.6" y="863.55" width="8.7" height="2.2" fill="#7a4da2" />
<rect x="647.6" y="817.9" width="8.7" height="47.6" fill="none" stroke="#9b9b9b" stroke-width="0.6"/>
<rect x="662.05" y="827.9" width="8.7" height="5.48" fill="#1f7866" />
<rect x="662.05" y="833.13" width="8.7" height="4.15" fill="#7a4da2" />
<rect x="662.05" y="837.03" width="8.7" height="1.03" fill="#d35fbf" />
<rect x="662.05" y="837.81" width="8.7" height="1.42" fill="#8dc640" />
<rect x="662.05" y="838.98" width="8.7" height="2.2" fill="#d35fbf" />
<rect x="662.05" y="840.93" width="8.7" height="1.42" fill="#a9a53a" />
<rect x="662.05" y="842.1" width="8.7" height="4.15" fill="#8dc640" />
<rect x="662.05" y="846" width="8.7" height="1.42" fill="#ee6a5d" />
<rect x="662.05" y="847.17" width="8.7" height="1.81" fill="#1f7866" />
<rect x="662.05" y="848.73" width="8.7" height="2.2" fill="#3a8fd3" />
<rect x="662.05" y="850.68" width="8.7" height="2.59" fill="#ee6a5d" />
<rect x="662.05" y="853.02" width="8.7" height="2.98" fill="#1f7866" />
<rect x="662.05" y="855.75" width="8.7" height="1.42" fill="#9cc8bb" />
<rect x="662.05" y="856.92" width="8.7" height="3.37" fill="#ffffff" />
<rect x="662.05" y="860.04" width="8.7" height="1.81" fill="#8dc640" />
<rect x="662.05" y="861.6" width="8.7" height="1.42" fill="#8dc640" />
<rect x="662.05" y="862.77" width="8.7" height="1.42" fill="#1f7866" />
<rect x="662.05" y="863.94" width="8.7" height="1.81" fill="#ee6a5d" />
<rect x="662.05" y="827.9" width="8.7" height="37.6" fill="none" stroke="#9b9b9b" stroke-width="0.6"/>
<rect x="676.5" y="811.1" width="8.7" height="2.75" fill="#1f7866" />
<rect x="676.5" y="813.6" width="8.7" height="2.59" fill="#d35fbf" />
<rect x="676.5" y="815.94" width="8.7" height="2.2" fill="#e0a324" />
<rect x="676.5" y="817.89" width="8.7" height="1.42" fill="#7a4da2" />
<rect x="676.5" y="819.06" width="8.7" height="2.59" fill="#8dc640" />
<rect x="676.5" y="821.4" width="8.7" height="1.03" fill="#1f7866" />
<rect x="676.5" y="822.18" width="8.7" height="1.81" fill="#ee6a5d" />
<rect x="676.5" y="823.74" width="8.7" height="1.42" fill="#d35fbf" />
<rect x="676.5" y="824.91" width="8.7" height="1.42" fill="#1f7866" />
<rect x="676.5" y="826.09" width="8.7" height="2.2" fill="#a9a53a" />
<rect x="676.5" y="828.04" width="8.7" height="1.81" fill="#e0a324" />
<rect x="676.5" y="829.6" width="8.7" height="2.2" fill="#1f7866" />
<rect x="676.5" y="831.55" width="8.7" height="4.15" fill="#d35fbf" />
<rect x="676.5" y="835.45" width="8.7" height="2.2" fill="#ffffff" />
<rect x="676.5" y="837.4" width="8.7" height="1.42" fill="#7a4da2" />
<rect x="676.5" y="838.57" width="8.7" height="4.93" fill="#ffffff" />
<rect x="676.5" y="843.26" width="8.7" height="4.15" fill="#3a8fd3" />
<rect x="676.5" y="847.16" width="8.7" height="1.81" fill="#7a4da2" />
<rect x="676.5" y="848.72" width="8.7" height="2.98" fill="#e0a324" />
<rect x="676.5" y="851.45" width="8.7" height="2.59" fill="#a9a53a" />
<rect x="676.5" y="853.79" width="8.7" height="2.59" fill="#d35fbf" />
<rect x="676.5" y="856.13" width="8.7" height="2.2" fill="#efb8dd" />
<rect x="676.5" y="858.09" width="8.7" height="1.42" fill="#1f7866" />
<rect x="676.5" y="859.26" width="8.7" height="1.81" fill="#1f7866" />
<rect x="676.5" y="860.82" width="8.7" height="1.42" fill="#ee6a5d" />
<rect x="676.5" y="861.99" width="8.7" height="3.76" fill="#e0a324" />
<rect x="676.5" y="811.1" width="8.7" height="54.4" fill="none" stroke="#9b9b9b" stroke-width="0.6"/>
<line x1="4.6" y1="869" x2="66.5" y2="869" stroke="#7a7a7a" stroke-width="1.5" />
<path d="M66,866.9 L72,869 L66,871.1 Z" fill="#151515"/>
<text x="1.8" y="872.6" font-size="8.2" text-anchor="middle" fill="#333" stroke="#333" stroke-width="0.05" >1</text>
<text x="76.6" y="872.6" font-size="8.2" text-anchor="middle" fill="#333" stroke="#333" stroke-width="0.05" >12</text>
<line x1="103.9" y1="868.9" x2="169.9" y2="868.9" stroke="#7a7a7a" stroke-width="1.5" />
<path d="M169.4,866.8 L175.4,868.9 L169.4,871 Z" fill="#151515"/>
<text x="101.7" y="872.6" font-size="8.2" text-anchor="middle" fill="#333" stroke="#333" stroke-width="0.05" >1</text>
<text x="180.2" y="872.6" font-size="8.2" text-anchor="middle" fill="#333" stroke="#333" stroke-width="0.05" >19</text>
<line x1="208.2" y1="868.7" x2="268.5" y2="868.7" stroke="#7a7a7a" stroke-width="1.5" />
<path d="M268,866.6 L274,868.7 L268,870.8 Z" fill="#151515"/>
<text x="206.1" y="872.6" font-size="8.2" text-anchor="middle" fill="#333" stroke="#333" stroke-width="0.05" >1</text>
<text x="278.9" y="872.6" font-size="8.2" text-anchor="middle" fill="#333" stroke="#333" stroke-width="0.05" >11</text>
<line x1="310.3" y1="868.7" x2="365.8" y2="868.7" stroke="#7a7a7a" stroke-width="1.5" />
<path d="M365.3,866.6 L371.3,868.7 L365.3,870.8 Z" fill="#151515"/>
<text x="308.2" y="872.6" font-size="8.2" text-anchor="middle" fill="#333" stroke="#333" stroke-width="0.05" >1</text>
<text x="375.4" y="872.6" font-size="8.2" text-anchor="middle" fill="#333" stroke="#333" stroke-width="0.05" >8</text>
<line x1="416" y1="869" x2="469.4" y2="869" stroke="#7a7a7a" stroke-width="1.5" />
<path d="M468.9,866.9 L474.9,869 L468.9,871.1 Z" fill="#151515"/>
<text x="413.9" y="872.6" font-size="8.2" text-anchor="middle" fill="#333" stroke="#333" stroke-width="0.05" >1</text>
<text x="478.4" y="872.6" font-size="8.2" text-anchor="middle" fill="#333" stroke="#333" stroke-width="0.05" >7</text>
<line x1="512.2" y1="869" x2="578.3" y2="869" stroke="#7a7a7a" stroke-width="1.5" />
<path d="M577.8,866.9 L583.8,869 L577.8,871.1 Z" fill="#151515"/>
<text x="509.7" y="872.6" font-size="8.2" text-anchor="middle" fill="#333" stroke="#333" stroke-width="0.05" >1</text>
<text x="589.3" y="872.6" font-size="8.2" text-anchor="middle" fill="#333" stroke="#333" stroke-width="0.05" >19</text>
<line x1="625.3" y1="869.4" x2="671.3" y2="869.4" stroke="#7a7a7a" stroke-width="1.5" />
<path d="M670.8,867.3 L676.8,869.4 L670.8,871.5 Z" fill="#151515"/>
<text x="622.9" y="872.6" font-size="8.2" text-anchor="middle" fill="#333" stroke="#333" stroke-width="0.05" >1</text>
<text x="681" y="872.6" font-size="8.2" text-anchor="middle" fill="#333" stroke="#333" stroke-width="0.05" >5</text>
</svg>
</body></html>
